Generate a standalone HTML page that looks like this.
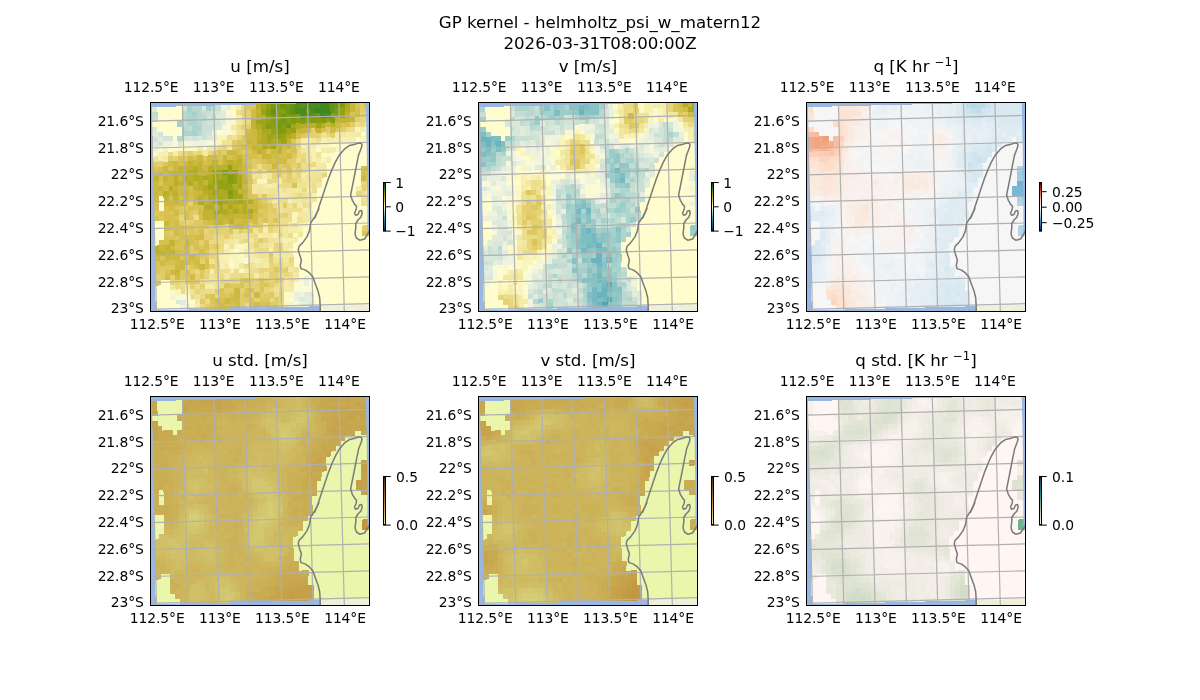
<!DOCTYPE html>
<html><head><meta charset="utf-8"><title>GP kernel</title>
<style>html,body{margin:0;padding:0;background:#fff}svg{display:block}</style></head><body>
<svg width="1200" height="700" viewBox="0 0 1200 700" font-family="DejaVu Sans, Liberation Sans, sans-serif">
<rect width="1200" height="700" fill="#fff"/>
<g font-size="16.67" text-anchor="middle" fill="#000">
<text x="600" y="27.8">GP kernel - helmholtz_psi_w_matern12</text>
<text x="600" y="48.8">2026-03-31T08:00:00Z</text>
<text x="260.0" y="72.3">u [m/s]</text>
<text x="588.0" y="72.3">v [m/s]</text>
<text x="916.0" y="72.3">q [K hr <tspan font-size="11.67" dy="-6.3">−1</tspan><tspan dy="6.3">]</tspan></text>
<text x="260.0" y="366.3">u std. [m/s]</text>
<text x="588.0" y="366.3">v std. [m/s]</text>
<text x="916.0" y="366.3">q std. [K hr <tspan font-size="11.67" dy="-6.3">−1</tspan><tspan dy="6.3">]</tspan></text>
</g>
<g font-size="13.89" fill="#000" letter-spacing="-0.1">
<text x="151.1" y="91.5" text-anchor="middle">112.5°E</text>
<text x="157.2" y="329.1" text-anchor="middle">112.5°E</text>
<text x="213.7" y="91.5" text-anchor="middle">113°E</text>
<text x="219.8" y="329.1" text-anchor="middle">113°E</text>
<text x="276.3" y="91.5" text-anchor="middle">113.5°E</text>
<text x="282.4" y="329.1" text-anchor="middle">113.5°E</text>
<text x="338.9" y="91.5" text-anchor="middle">114°E</text>
<text x="345.0" y="329.1" text-anchor="middle">114°E</text>
<text x="143.7" y="125.8" text-anchor="end">21.6°S</text>
<text x="143.7" y="152.6" text-anchor="end">21.8°S</text>
<text x="143.7" y="179.4" text-anchor="end">22°S</text>
<text x="143.7" y="206.2" text-anchor="end">22.2°S</text>
<text x="143.7" y="233.0" text-anchor="end">22.4°S</text>
<text x="143.7" y="259.8" text-anchor="end">22.6°S</text>
<text x="143.7" y="286.6" text-anchor="end">22.8°S</text>
<text x="143.7" y="313.4" text-anchor="end">23°S</text>
<linearGradient id="cb0" x1="0" y1="1" x2="0" y2="0">
<stop offset="0.00" stop-color="#112040"/>
<stop offset="0.10" stop-color="#2a4e92"/>
<stop offset="0.20" stop-color="#2276a0"/>
<stop offset="0.30" stop-color="#58aab6"/>
<stop offset="0.40" stop-color="#b8d8d0"/>
<stop offset="0.50" stop-color="#fffdcd"/>
<stop offset="0.60" stop-color="#e4d070"/>
<stop offset="0.70" stop-color="#b8ae26"/>
<stop offset="0.80" stop-color="#6e9610"/>
<stop offset="0.90" stop-color="#187830"/>
<stop offset="1.00" stop-color="#172313"/>
</linearGradient>
<rect x="383.5" y="182.5" width="2" height="48.6" fill="url(#cb0)" stroke="#000" stroke-width="1"/>
<path d="M385.5 182.5h5.2" stroke="#000" stroke-width="1"/>
<text x="395.2" y="187.5">1</text>
<path d="M385.5 206.8h5.2" stroke="#000" stroke-width="1"/>
<text x="395.2" y="211.8">0</text>
<path d="M385.5 231.1h5.2" stroke="#000" stroke-width="1"/>
<text x="395.2" y="236.1">−1</text>
<text x="479.1" y="91.5" text-anchor="middle">112.5°E</text>
<text x="485.2" y="329.1" text-anchor="middle">112.5°E</text>
<text x="541.7" y="91.5" text-anchor="middle">113°E</text>
<text x="547.8" y="329.1" text-anchor="middle">113°E</text>
<text x="604.3" y="91.5" text-anchor="middle">113.5°E</text>
<text x="610.4" y="329.1" text-anchor="middle">113.5°E</text>
<text x="666.9" y="91.5" text-anchor="middle">114°E</text>
<text x="673.0" y="329.1" text-anchor="middle">114°E</text>
<text x="471.7" y="125.8" text-anchor="end">21.6°S</text>
<text x="471.7" y="152.6" text-anchor="end">21.8°S</text>
<text x="471.7" y="179.4" text-anchor="end">22°S</text>
<text x="471.7" y="206.2" text-anchor="end">22.2°S</text>
<text x="471.7" y="233.0" text-anchor="end">22.4°S</text>
<text x="471.7" y="259.8" text-anchor="end">22.6°S</text>
<text x="471.7" y="286.6" text-anchor="end">22.8°S</text>
<text x="471.7" y="313.4" text-anchor="end">23°S</text>
<linearGradient id="cb1" x1="0" y1="1" x2="0" y2="0">
<stop offset="0.00" stop-color="#112040"/>
<stop offset="0.10" stop-color="#2a4e92"/>
<stop offset="0.20" stop-color="#2276a0"/>
<stop offset="0.30" stop-color="#58aab6"/>
<stop offset="0.40" stop-color="#b8d8d0"/>
<stop offset="0.50" stop-color="#fffdcd"/>
<stop offset="0.60" stop-color="#e4d070"/>
<stop offset="0.70" stop-color="#b8ae26"/>
<stop offset="0.80" stop-color="#6e9610"/>
<stop offset="0.90" stop-color="#187830"/>
<stop offset="1.00" stop-color="#172313"/>
</linearGradient>
<rect x="711.5" y="182.5" width="2" height="48.6" fill="url(#cb1)" stroke="#000" stroke-width="1"/>
<path d="M713.5 182.5h5.2" stroke="#000" stroke-width="1"/>
<text x="723.2" y="187.5">1</text>
<path d="M713.5 206.8h5.2" stroke="#000" stroke-width="1"/>
<text x="723.2" y="211.8">0</text>
<path d="M713.5 231.1h5.2" stroke="#000" stroke-width="1"/>
<text x="723.2" y="236.1">−1</text>
<text x="807.1" y="91.5" text-anchor="middle">112.5°E</text>
<text x="813.2" y="329.1" text-anchor="middle">112.5°E</text>
<text x="869.7" y="91.5" text-anchor="middle">113°E</text>
<text x="875.8" y="329.1" text-anchor="middle">113°E</text>
<text x="932.3" y="91.5" text-anchor="middle">113.5°E</text>
<text x="938.4" y="329.1" text-anchor="middle">113.5°E</text>
<text x="994.9" y="91.5" text-anchor="middle">114°E</text>
<text x="1001.0" y="329.1" text-anchor="middle">114°E</text>
<text x="799.7" y="125.8" text-anchor="end">21.6°S</text>
<text x="799.7" y="152.6" text-anchor="end">21.8°S</text>
<text x="799.7" y="179.4" text-anchor="end">22°S</text>
<text x="799.7" y="206.2" text-anchor="end">22.2°S</text>
<text x="799.7" y="233.0" text-anchor="end">22.4°S</text>
<text x="799.7" y="259.8" text-anchor="end">22.6°S</text>
<text x="799.7" y="286.6" text-anchor="end">22.8°S</text>
<text x="799.7" y="313.4" text-anchor="end">23°S</text>
<linearGradient id="cb2" x1="0" y1="1" x2="0" y2="0">
<stop offset="0.00" stop-color="#053061"/>
<stop offset="0.10" stop-color="#2065ab"/>
<stop offset="0.20" stop-color="#4393c3"/>
<stop offset="0.30" stop-color="#90c4dd"/>
<stop offset="0.40" stop-color="#d1e5f0"/>
<stop offset="0.50" stop-color="#f7f6f6"/>
<stop offset="0.60" stop-color="#fddbc7"/>
<stop offset="0.70" stop-color="#f3a481"/>
<stop offset="0.80" stop-color="#d6604d"/>
<stop offset="0.90" stop-color="#b1182b"/>
<stop offset="1.00" stop-color="#67001f"/>
</linearGradient>
<rect x="1039.5" y="182.5" width="2" height="48.6" fill="url(#cb2)" stroke="#000" stroke-width="1"/>
<path d="M1041.5 191.7h5.2" stroke="#000" stroke-width="1"/>
<text x="1052.1" y="196.7">0.25</text>
<path d="M1041.5 207.2h5.2" stroke="#000" stroke-width="1"/>
<text x="1052.1" y="212.2">0.00</text>
<path d="M1041.5 222.7h5.2" stroke="#000" stroke-width="1"/>
<text x="1052.1" y="227.7">−0.25</text>
<text x="151.1" y="385.5" text-anchor="middle">112.5°E</text>
<text x="157.2" y="623.1" text-anchor="middle">112.5°E</text>
<text x="213.7" y="385.5" text-anchor="middle">113°E</text>
<text x="219.8" y="623.1" text-anchor="middle">113°E</text>
<text x="276.3" y="385.5" text-anchor="middle">113.5°E</text>
<text x="282.4" y="623.1" text-anchor="middle">113.5°E</text>
<text x="338.9" y="385.5" text-anchor="middle">114°E</text>
<text x="345.0" y="623.1" text-anchor="middle">114°E</text>
<text x="143.7" y="419.8" text-anchor="end">21.6°S</text>
<text x="143.7" y="446.6" text-anchor="end">21.8°S</text>
<text x="143.7" y="473.4" text-anchor="end">22°S</text>
<text x="143.7" y="500.2" text-anchor="end">22.2°S</text>
<text x="143.7" y="527.0" text-anchor="end">22.4°S</text>
<text x="143.7" y="553.8" text-anchor="end">22.6°S</text>
<text x="143.7" y="580.6" text-anchor="end">22.8°S</text>
<text x="143.7" y="607.4" text-anchor="end">23°S</text>
<linearGradient id="cb3" x1="0" y1="1" x2="0" y2="0">
<stop offset="0.00" stop-color="#e9f6ab"/>
<stop offset="0.10" stop-color="#dcde8c"/>
<stop offset="0.20" stop-color="#d2c66e"/>
<stop offset="0.30" stop-color="#caae54"/>
<stop offset="0.40" stop-color="#c19642"/>
<stop offset="0.50" stop-color="#b4803a"/>
<stop offset="0.60" stop-color="#a26c38"/>
<stop offset="0.70" stop-color="#8c5c36"/>
<stop offset="0.80" stop-color="#724e32"/>
<stop offset="0.90" stop-color="#56402c"/>
<stop offset="1.00" stop-color="#221f1b"/>
</linearGradient>
<rect x="383.5" y="476.5" width="2" height="48.6" fill="url(#cb3)" stroke="#000" stroke-width="1"/>
<path d="M385.5 476.5h5.2" stroke="#000" stroke-width="1"/>
<text x="396.1" y="481.5">0.5</text>
<path d="M385.5 525.1h5.2" stroke="#000" stroke-width="1"/>
<text x="396.1" y="530.1">0.0</text>
<text x="479.1" y="385.5" text-anchor="middle">112.5°E</text>
<text x="485.2" y="623.1" text-anchor="middle">112.5°E</text>
<text x="541.7" y="385.5" text-anchor="middle">113°E</text>
<text x="547.8" y="623.1" text-anchor="middle">113°E</text>
<text x="604.3" y="385.5" text-anchor="middle">113.5°E</text>
<text x="610.4" y="623.1" text-anchor="middle">113.5°E</text>
<text x="666.9" y="385.5" text-anchor="middle">114°E</text>
<text x="673.0" y="623.1" text-anchor="middle">114°E</text>
<text x="471.7" y="419.8" text-anchor="end">21.6°S</text>
<text x="471.7" y="446.6" text-anchor="end">21.8°S</text>
<text x="471.7" y="473.4" text-anchor="end">22°S</text>
<text x="471.7" y="500.2" text-anchor="end">22.2°S</text>
<text x="471.7" y="527.0" text-anchor="end">22.4°S</text>
<text x="471.7" y="553.8" text-anchor="end">22.6°S</text>
<text x="471.7" y="580.6" text-anchor="end">22.8°S</text>
<text x="471.7" y="607.4" text-anchor="end">23°S</text>
<linearGradient id="cb4" x1="0" y1="1" x2="0" y2="0">
<stop offset="0.00" stop-color="#e9f6ab"/>
<stop offset="0.10" stop-color="#dcde8c"/>
<stop offset="0.20" stop-color="#d2c66e"/>
<stop offset="0.30" stop-color="#caae54"/>
<stop offset="0.40" stop-color="#c19642"/>
<stop offset="0.50" stop-color="#b4803a"/>
<stop offset="0.60" stop-color="#a26c38"/>
<stop offset="0.70" stop-color="#8c5c36"/>
<stop offset="0.80" stop-color="#724e32"/>
<stop offset="0.90" stop-color="#56402c"/>
<stop offset="1.00" stop-color="#221f1b"/>
</linearGradient>
<rect x="711.5" y="476.5" width="2" height="48.6" fill="url(#cb4)" stroke="#000" stroke-width="1"/>
<path d="M713.5 476.5h5.2" stroke="#000" stroke-width="1"/>
<text x="724.1" y="481.5">0.5</text>
<path d="M713.5 525.1h5.2" stroke="#000" stroke-width="1"/>
<text x="724.1" y="530.1">0.0</text>
<text x="807.1" y="385.5" text-anchor="middle">112.5°E</text>
<text x="813.2" y="623.1" text-anchor="middle">112.5°E</text>
<text x="869.7" y="385.5" text-anchor="middle">113°E</text>
<text x="875.8" y="623.1" text-anchor="middle">113°E</text>
<text x="932.3" y="385.5" text-anchor="middle">113.5°E</text>
<text x="938.4" y="623.1" text-anchor="middle">113.5°E</text>
<text x="994.9" y="385.5" text-anchor="middle">114°E</text>
<text x="1001.0" y="623.1" text-anchor="middle">114°E</text>
<text x="799.7" y="419.8" text-anchor="end">21.6°S</text>
<text x="799.7" y="446.6" text-anchor="end">21.8°S</text>
<text x="799.7" y="473.4" text-anchor="end">22°S</text>
<text x="799.7" y="500.2" text-anchor="end">22.2°S</text>
<text x="799.7" y="527.0" text-anchor="end">22.4°S</text>
<text x="799.7" y="553.8" text-anchor="end">22.6°S</text>
<text x="799.7" y="580.6" text-anchor="end">22.8°S</text>
<text x="799.7" y="607.4" text-anchor="end">23°S</text>
<linearGradient id="cb5" x1="0" y1="1" x2="0" y2="0">
<stop offset="0.00" stop-color="#fff6f4"/>
<stop offset="0.10" stop-color="#e8e8dc"/>
<stop offset="0.20" stop-color="#cbdac0"/>
<stop offset="0.30" stop-color="#a8cba6"/>
<stop offset="0.40" stop-color="#80bc94"/>
<stop offset="0.50" stop-color="#54ac8a"/>
<stop offset="0.60" stop-color="#289a86"/>
<stop offset="0.70" stop-color="#128482"/>
<stop offset="0.80" stop-color="#186c7a"/>
<stop offset="0.90" stop-color="#1e506c"/>
<stop offset="1.00" stop-color="#141d43"/>
</linearGradient>
<rect x="1039.5" y="476.5" width="2" height="48.6" fill="url(#cb5)" stroke="#000" stroke-width="1"/>
<path d="M1041.5 476.5h5.2" stroke="#000" stroke-width="1"/>
<text x="1052.1" y="481.5">0.1</text>
<path d="M1041.5 525.1h5.2" stroke="#000" stroke-width="1"/>
<text x="1052.1" y="530.1">0.0</text>
</g>
<g transform="translate(150.5 102.5)">
<clipPath id="cp0"><rect x="0" y="0" width="219" height="209"/></clipPath>
<g clip-path="url(#cp0)">
<rect x="0" y="0" width="219" height="209" fill="#98b7e2"/>
<path d="M169.7 208.6 L169.7 203.8 L169.2 195.2 L167.5 188.4 L164.9 181.5 L162.4 174.6 L158.9 170.4 L154.6 167.4 L150.4 166.1 L149.8 162.6 L150.9 157.5 L149.2 152.4 L147.8 147.2 L148.6 143.8 L152.1 140.4 L156.4 134.4 L158.9 128.4 L160.1 120.6 L164.1 114.6 L168.4 106.1 L164.1 115.8 L167.5 107.2 L170.9 96.9 L174.4 86.6 L177.8 76.4 L181.2 67.8 L184.6 60.1 L188.9 52.4 L194.1 46.4 L199.2 42.9 L204.4 41.7 L208.6 40.4 L210.9 40.9 L211.6 42.9 L210.4 46.4 L208.1 52.4 L206.4 60.9 L204.7 69.5 L203.0 78.1 L201.3 86.6 L200.1 92.6 L201.8 97.8 L204.4 102.1 L206.0 103.5 L205.7 107.0 L204.0 110.5 L205.0 112.7 L207.5 112.0 L209.0 108.5 L211.0 108.0 L211.7 110.5 L210.5 114.5 L207.5 117.5 L205.3 121.0 L205.3 125.5 L204.5 131.5 L206.0 135.5 L209.5 137.8 L214.0 136.5 L217.0 132.0 L219.5 127.0 L221.0 127.0 L221.0 211.0 L169.7 211.0Z" fill="#efefdb"/>
<g transform="matrix(0.9880 -0.02470 0.01780 0.9890 1.50 4.60)" shape-rendering="crispEdges">
<path fill="#dae8da" d="M0 0h5.5v5.5h-5.5zM50 0h5.5v5.5h-5.5zM65 5h5.5v5.5h-5.5zM0 20h5.5v5.5h-5.5zM65 20h5.5v5.5h-5.5zM35 30h5.5v5.5h-5.5zM45 30h5.5v5.5h-5.5zM55 30h5.5v5.5h-5.5zM25 35h5.5v5.5h-5.5zM155 190h5.5v5.5h-5.5zM20 195h5.5v5.5h-5.5zM145 195h5.5v5.5h-5.5zM155 200h5.5v5.5h-5.5z"/>
<path fill="#fffdcd" d="M5 0h25.5v5.5h-25.5zM5 5h25.5v5.5h-25.5zM80 5h5.5v5.5h-5.5zM5 10h25.5v5.5h-25.5zM0 15h25.5v5.5h-25.5zM5 20h25.5v5.5h-25.5zM10 25h20.5v5.5h-20.5zM65 25h5.5v5.5h-5.5zM20 30h5.5v5.5h-5.5zM210 30h5.5v5.5h-5.5zM205 35h5.5v5.5h-5.5zM50 40h5.5v5.5h-5.5zM180 40h5.5v5.5h-5.5zM190 40h30.5v5.5h-30.5zM190 45h30.5v5.5h-30.5zM185 50h35.5v5.5h-35.5zM180 55h40.5v5.5h-40.5zM175 60h45.5v5.5h-45.5zM175 65h35.5v5.5h-35.5zM175 70h35.5v5.5h-35.5zM170 75h40.5v5.5h-40.5zM170 80h40.5v5.5h-40.5zM165 85h40.5v5.5h-40.5zM5 90h5.5v5.5h-5.5zM165 90h40.5v5.5h-40.5zM5 95h5.5v5.5h-5.5zM165 95h45.5v5.5h-45.5zM5 100h5.5v5.5h-5.5zM160 100h50.5v5.5h-50.5zM160 105h60.5v5.5h-60.5zM160 110h60.5v5.5h-60.5zM0 115h10.5v5.5h-10.5zM160 115h60.5v5.5h-60.5zM0 120h10.5v5.5h-10.5zM155 120h65.5v5.5h-65.5zM0 125h10.5v5.5h-10.5zM150 125h60.5v5.5h-60.5zM0 130h10.5v5.5h-10.5zM150 130h60.5v5.5h-60.5zM0 135h5.5v5.5h-5.5zM145 135h75.5v5.5h-75.5zM140 140h80.5v5.5h-80.5zM80 145h5.5v5.5h-5.5zM140 145h80.5v5.5h-80.5zM140 150h80.5v5.5h-80.5zM140 155h80.5v5.5h-80.5zM75 160h5.5v5.5h-5.5zM140 160h80.5v5.5h-80.5zM145 165h75.5v5.5h-75.5zM145 170h75.5v5.5h-75.5zM5 175h10.5v5.5h-10.5zM155 175h65.5v5.5h-65.5zM0 180h15.5v5.5h-15.5zM140 180h5.5v5.5h-5.5zM155 180h65.5v5.5h-65.5zM0 185h15.5v5.5h-15.5zM155 185h65.5v5.5h-65.5zM0 190h15.5v5.5h-15.5zM160 190h60.5v5.5h-60.5zM0 195h20.5v5.5h-20.5zM30 195h10.5v5.5h-10.5zM160 195h60.5v5.5h-60.5zM0 200h25.5v5.5h-25.5zM160 200h60.5v5.5h-60.5z"/>
<path fill="#d2e4d7" d="M30 0h5.5v5.5h-5.5zM60 5h5.5v5.5h-5.5zM55 10h5.5v5.5h-5.5zM55 15h15.5v5.5h-15.5zM60 20h5.5v5.5h-5.5zM5 25h5.5v5.5h-5.5zM55 25h5.5v5.5h-5.5zM0 30h5.5v5.5h-5.5zM10 30h10.5v5.5h-10.5zM30 30h5.5v5.5h-5.5zM40 30h5.5v5.5h-5.5zM5 35h5.5v5.5h-5.5z"/>
<path fill="#a5d0cb" d="M35 0h5.5v5.5h-5.5zM55 0h5.5v5.5h-5.5zM40 5h5.5v5.5h-5.5zM25 15h5.5v5.5h-5.5zM40 25h5.5v5.5h-5.5z"/>
<path fill="#b8d8d0" d="M40 0h10.5v5.5h-10.5zM30 5h5.5v5.5h-5.5zM45 5h5.5v5.5h-5.5zM30 10h5.5v5.5h-5.5zM45 10h10.5v5.5h-10.5zM45 15h5.5v5.5h-5.5zM30 20h5.5v5.5h-5.5zM45 25h5.5v5.5h-5.5zM25 30h5.5v5.5h-5.5z"/>
<path fill="#c1dcd2" d="M60 0h5.5v5.5h-5.5zM0 5h5.5v5.5h-5.5zM50 5h5.5v5.5h-5.5zM60 10h5.5v5.5h-5.5zM30 15h5.5v5.5h-5.5zM35 20h5.5v5.5h-5.5z"/>
<path fill="#cae0d5" d="M65 0h5.5v5.5h-5.5zM55 5h5.5v5.5h-5.5zM0 10h5.5v5.5h-5.5zM50 15h5.5v5.5h-5.5zM50 20h10.5v5.5h-10.5zM50 25h5.5v5.5h-5.5zM50 30h5.5v5.5h-5.5z"/>
<path fill="#f0f3de" d="M70 0h5.5v5.5h-5.5zM10 35h5.5v5.5h-5.5zM35 35h20.5v5.5h-20.5zM0 40h5.5v5.5h-5.5zM10 40h5.5v5.5h-5.5zM15 190h5.5v5.5h-5.5zM145 190h5.5v5.5h-5.5zM25 200h5.5v5.5h-5.5zM135 200h5.5v5.5h-5.5z"/>
<path fill="#e9f0dd" d="M75 0h5.5v5.5h-5.5zM60 25h5.5v5.5h-5.5zM15 35h5.5v5.5h-5.5zM150 175h5.5v5.5h-5.5zM150 180h5.5v5.5h-5.5zM140 190h5.5v5.5h-5.5zM140 195h5.5v5.5h-5.5zM30 200h5.5v5.5h-5.5zM145 200h10.5v5.5h-10.5z"/>
<path fill="#fdf9c4" d="M80 0h5.5v5.5h-5.5zM80 15h5.5v5.5h-5.5zM215 25h5.5v5.5h-5.5zM30 35h5.5v5.5h-5.5zM60 35h5.5v5.5h-5.5zM20 40h25.5v5.5h-25.5zM185 40h5.5v5.5h-5.5zM165 45h5.5v5.5h-5.5zM170 50h10.5v5.5h-10.5zM110 75h5.5v5.5h-5.5zM140 130h5.5v5.5h-5.5zM85 140h5.5v5.5h-5.5zM85 150h5.5v5.5h-5.5zM75 155h5.5v5.5h-5.5zM85 155h5.5v5.5h-5.5zM85 165h5.5v5.5h-5.5zM15 185h5.5v5.5h-5.5zM20 190h5.5v5.5h-5.5zM130 190h10.5v5.5h-10.5zM130 195h5.5v5.5h-5.5zM35 200h5.5v5.5h-5.5z"/>
<path fill="#f8f0b2" d="M85 0h5.5v5.5h-5.5zM155 35h5.5v5.5h-5.5zM170 35h5.5v5.5h-5.5zM180 35h25.5v5.5h-25.5zM150 40h5.5v5.5h-5.5zM5 45h10.5v5.5h-10.5zM160 45h5.5v5.5h-5.5zM5 50h5.5v5.5h-5.5zM160 50h5.5v5.5h-5.5zM160 55h5.5v5.5h-5.5zM110 70h5.5v5.5h-5.5zM115 80h5.5v5.5h-5.5zM155 85h5.5v5.5h-5.5zM160 90h5.5v5.5h-5.5zM135 95h5.5v5.5h-5.5zM150 105h5.5v5.5h-5.5zM145 120h10.5v5.5h-10.5zM110 125h5.5v5.5h-5.5zM145 125h5.5v5.5h-5.5zM120 130h5.5v5.5h-5.5zM130 135h10.5v5.5h-10.5zM115 145h5.5v5.5h-5.5zM135 145h5.5v5.5h-5.5zM65 150h10.5v5.5h-10.5zM90 150h5.5v5.5h-5.5zM65 155h10.5v5.5h-10.5zM100 155h5.5v5.5h-5.5zM65 160h5.5v5.5h-5.5zM55 165h5.5v5.5h-5.5zM75 165h5.5v5.5h-5.5zM30 185h5.5v5.5h-5.5zM40 200h5.5v5.5h-5.5z"/>
<path fill="#eada83" d="M90 0h5.5v5.5h-5.5zM95 15h5.5v5.5h-5.5zM215 15h5.5v5.5h-5.5zM210 20h5.5v5.5h-5.5zM195 25h5.5v5.5h-5.5zM175 30h5.5v5.5h-5.5zM145 35h5.5v5.5h-5.5zM65 40h5.5v5.5h-5.5zM15 45h5.5v5.5h-5.5zM25 45h5.5v5.5h-5.5zM40 45h5.5v5.5h-5.5zM55 45h5.5v5.5h-5.5zM145 45h5.5v5.5h-5.5zM145 50h10.5v5.5h-10.5zM155 60h10.5v5.5h-10.5zM100 65h5.5v5.5h-5.5zM110 65h5.5v5.5h-5.5zM140 65h5.5v5.5h-5.5zM130 70h5.5v5.5h-5.5zM100 75h5.5v5.5h-5.5zM115 75h10.5v5.5h-10.5zM130 80h10.5v5.5h-10.5zM150 85h5.5v5.5h-5.5zM215 85h5.5v5.5h-5.5zM105 90h5.5v5.5h-5.5zM145 90h5.5v5.5h-5.5zM115 95h5.5v5.5h-5.5zM120 100h5.5v5.5h-5.5zM60 130h10.5v5.5h-10.5zM75 130h5.5v5.5h-5.5zM100 130h5.5v5.5h-5.5zM125 130h5.5v5.5h-5.5zM55 135h15.5v5.5h-15.5zM100 135h5.5v5.5h-5.5zM65 140h5.5v5.5h-5.5zM55 145h5.5v5.5h-5.5zM105 145h10.5v5.5h-10.5zM120 145h5.5v5.5h-5.5zM60 155h5.5v5.5h-5.5zM125 155h5.5v5.5h-5.5zM60 160h5.5v5.5h-5.5zM90 160h5.5v5.5h-5.5zM120 160h5.5v5.5h-5.5zM60 165h5.5v5.5h-5.5zM65 170h5.5v5.5h-5.5zM85 170h5.5v5.5h-5.5zM95 170h5.5v5.5h-5.5zM25 175h5.5v5.5h-5.5zM70 175h5.5v5.5h-5.5zM20 180h5.5v5.5h-5.5zM65 180h5.5v5.5h-5.5zM120 180h5.5v5.5h-5.5zM25 185h5.5v5.5h-5.5zM45 185h5.5v5.5h-5.5zM115 185h5.5v5.5h-5.5zM125 185h5.5v5.5h-5.5zM35 190h5.5v5.5h-5.5zM45 190h5.5v5.5h-5.5zM60 190h5.5v5.5h-5.5zM50 195h5.5v5.5h-5.5zM115 195h5.5v5.5h-5.5zM45 200h5.5v5.5h-5.5zM90 200h5.5v5.5h-5.5z"/>
<path fill="#ddc85f" d="M95 0h10.5v5.5h-10.5zM215 5h5.5v5.5h-5.5zM185 25h5.5v5.5h-5.5zM90 30h5.5v5.5h-5.5zM150 30h5.5v5.5h-5.5zM90 35h5.5v5.5h-5.5zM140 35h5.5v5.5h-5.5zM80 40h5.5v5.5h-5.5zM135 45h5.5v5.5h-5.5zM30 50h5.5v5.5h-5.5zM50 50h5.5v5.5h-5.5zM140 50h5.5v5.5h-5.5zM105 55h5.5v5.5h-5.5zM130 60h5.5v5.5h-5.5zM145 60h5.5v5.5h-5.5zM115 65h10.5v5.5h-10.5zM215 70h5.5v5.5h-5.5zM5 75h5.5v5.5h-5.5zM215 75h5.5v5.5h-5.5zM95 80h5.5v5.5h-5.5zM100 90h5.5v5.5h-5.5zM110 90h5.5v5.5h-5.5zM25 100h5.5v5.5h-5.5zM0 105h5.5v5.5h-5.5zM25 105h5.5v5.5h-5.5zM35 105h5.5v5.5h-5.5zM105 105h10.5v5.5h-10.5zM5 110h5.5v5.5h-5.5zM35 110h5.5v5.5h-5.5zM110 110h5.5v5.5h-5.5zM40 115h10.5v5.5h-10.5zM50 120h5.5v5.5h-5.5zM60 120h5.5v5.5h-5.5zM100 120h5.5v5.5h-5.5zM10 125h5.5v5.5h-5.5zM40 125h5.5v5.5h-5.5zM75 125h5.5v5.5h-5.5zM95 125h5.5v5.5h-5.5zM20 130h5.5v5.5h-5.5zM45 140h5.5v5.5h-5.5zM60 140h5.5v5.5h-5.5zM40 145h5.5v5.5h-5.5zM50 145h5.5v5.5h-5.5zM45 150h10.5v5.5h-10.5zM115 150h5.5v5.5h-5.5zM5 160h15.5v5.5h-15.5zM35 160h5.5v5.5h-5.5zM0 165h5.5v5.5h-5.5zM25 165h5.5v5.5h-5.5zM45 165h5.5v5.5h-5.5zM120 165h5.5v5.5h-5.5zM25 170h10.5v5.5h-10.5zM45 170h5.5v5.5h-5.5zM35 175h5.5v5.5h-5.5zM85 175h5.5v5.5h-5.5zM105 175h5.5v5.5h-5.5zM75 180h10.5v5.5h-10.5zM105 180h5.5v5.5h-5.5zM50 190h5.5v5.5h-5.5zM70 190h5.5v5.5h-5.5zM115 190h5.5v5.5h-5.5zM105 195h10.5v5.5h-10.5zM55 200h5.5v5.5h-5.5z"/>
<path fill="#b8ae26" d="M105 0h5.5v5.5h-5.5zM110 10h5.5v5.5h-5.5zM150 20h5.5v5.5h-5.5zM170 20h5.5v5.5h-5.5zM180 20h5.5v5.5h-5.5zM105 35h5.5v5.5h-5.5zM115 40h5.5v5.5h-5.5zM40 60h5.5v5.5h-5.5zM55 60h5.5v5.5h-5.5zM55 65h5.5v5.5h-5.5zM45 70h5.5v5.5h-5.5zM20 75h5.5v5.5h-5.5zM45 75h5.5v5.5h-5.5zM15 80h5.5v5.5h-5.5zM50 85h5.5v5.5h-5.5zM55 95h5.5v5.5h-5.5zM90 95h5.5v5.5h-5.5zM50 100h5.5v5.5h-5.5zM60 110h5.5v5.5h-5.5z"/>
<path fill="#a4a71b" d="M110 0h5.5v5.5h-5.5zM140 20h5.5v5.5h-5.5zM120 30h5.5v5.5h-5.5zM115 35h5.5v5.5h-5.5zM125 35h5.5v5.5h-5.5zM120 40h5.5v5.5h-5.5zM65 65h5.5v5.5h-5.5zM85 80h5.5v5.5h-5.5zM80 90h10.5v5.5h-10.5zM70 95h5.5v5.5h-5.5zM85 95h5.5v5.5h-5.5z"/>
<path fill="#8ea013" d="M115 0h5.5v5.5h-5.5zM115 10h5.5v5.5h-5.5zM180 10h5.5v5.5h-5.5zM175 15h5.5v5.5h-5.5zM120 20h5.5v5.5h-5.5zM125 30h5.5v5.5h-5.5zM80 70h5.5v5.5h-5.5zM65 75h5.5v5.5h-5.5zM80 75h5.5v5.5h-5.5zM75 90h5.5v5.5h-5.5z"/>
<path fill="#769811" d="M120 0h5.5v5.5h-5.5zM135 0h5.5v5.5h-5.5zM120 10h5.5v5.5h-5.5zM130 15h5.5v5.5h-5.5zM125 20h5.5v5.5h-5.5z"/>
<path fill="#7e9b12" d="M125 0h5.5v5.5h-5.5zM190 0h5.5v5.5h-5.5zM115 5h5.5v5.5h-5.5zM185 5h5.5v5.5h-5.5zM135 10h5.5v5.5h-5.5zM145 10h5.5v5.5h-5.5zM185 10h5.5v5.5h-5.5zM125 15h5.5v5.5h-5.5zM140 15h5.5v5.5h-5.5zM150 15h5.5v5.5h-5.5zM160 15h5.5v5.5h-5.5zM170 15h5.5v5.5h-5.5zM180 15h5.5v5.5h-5.5zM125 25h10.5v5.5h-10.5zM75 70h5.5v5.5h-5.5z"/>
<path fill="#6e9610" d="M130 0h5.5v5.5h-5.5zM185 0h5.5v5.5h-5.5zM135 5h5.5v5.5h-5.5zM155 5h5.5v5.5h-5.5zM130 10h5.5v5.5h-5.5zM140 10h5.5v5.5h-5.5zM165 10h5.5v5.5h-5.5zM135 20h5.5v5.5h-5.5z"/>
<path fill="#659313" d="M140 0h5.5v5.5h-5.5zM180 0h5.5v5.5h-5.5zM120 5h5.5v5.5h-5.5zM180 5h5.5v5.5h-5.5z"/>
<path fill="#528e18" d="M145 0h5.5v5.5h-5.5zM150 10h5.5v5.5h-5.5z"/>
<path fill="#5c9116" d="M150 0h5.5v5.5h-5.5zM140 5h5.5v5.5h-5.5zM155 10h10.5v5.5h-10.5z"/>
<path fill="#498c1b" d="M155 0h15.5v5.5h-15.5zM145 5h10.5v5.5h-10.5zM160 5h5.5v5.5h-5.5zM170 10h10.5v5.5h-10.5z"/>
<path fill="#40891e" d="M170 0h10.5v5.5h-10.5zM170 5h10.5v5.5h-10.5z"/>
<path fill="#aaa91f" d="M195 0h5.5v5.5h-5.5zM110 25h10.5v5.5h-10.5zM135 30h5.5v5.5h-5.5zM110 40h5.5v5.5h-5.5zM50 70h5.5v5.5h-5.5zM65 70h5.5v5.5h-5.5zM85 70h5.5v5.5h-5.5zM55 75h5.5v5.5h-5.5zM85 75h5.5v5.5h-5.5zM60 80h5.5v5.5h-5.5zM70 85h5.5v5.5h-5.5zM60 90h10.5v5.5h-10.5zM60 95h5.5v5.5h-5.5zM80 95h5.5v5.5h-5.5zM65 100h5.5v5.5h-5.5zM75 100h5.5v5.5h-5.5zM60 105h10.5v5.5h-10.5zM80 105h5.5v5.5h-5.5zM95 105h5.5v5.5h-5.5z"/>
<path fill="#c8b639" d="M200 0h5.5v5.5h-5.5zM200 5h5.5v5.5h-5.5zM200 15h5.5v5.5h-5.5zM175 20h5.5v5.5h-5.5zM145 25h10.5v5.5h-10.5zM95 35h5.5v5.5h-5.5zM105 40h5.5v5.5h-5.5zM135 40h5.5v5.5h-5.5zM110 45h5.5v5.5h-5.5zM70 50h5.5v5.5h-5.5zM85 50h5.5v5.5h-5.5zM110 50h10.5v5.5h-10.5zM70 55h5.5v5.5h-5.5zM80 55h5.5v5.5h-5.5zM5 65h5.5v5.5h-5.5zM15 65h5.5v5.5h-5.5zM215 65h5.5v5.5h-5.5zM90 70h5.5v5.5h-5.5zM40 75h5.5v5.5h-5.5zM50 75h5.5v5.5h-5.5zM5 80h5.5v5.5h-5.5zM20 80h5.5v5.5h-5.5zM0 85h5.5v5.5h-5.5zM15 85h5.5v5.5h-5.5zM30 85h5.5v5.5h-5.5zM45 85h5.5v5.5h-5.5zM85 85h5.5v5.5h-5.5zM40 90h5.5v5.5h-5.5zM50 90h5.5v5.5h-5.5zM90 90h5.5v5.5h-5.5zM20 95h5.5v5.5h-5.5zM60 100h5.5v5.5h-5.5zM100 105h5.5v5.5h-5.5zM65 110h5.5v5.5h-5.5zM80 110h10.5v5.5h-10.5zM10 115h5.5v5.5h-5.5zM60 115h5.5v5.5h-5.5zM85 120h5.5v5.5h-5.5zM30 135h5.5v5.5h-5.5zM10 145h5.5v5.5h-5.5zM20 165h5.5v5.5h-5.5z"/>
<path fill="#d9c457" d="M205 0h5.5v5.5h-5.5zM200 10h5.5v5.5h-5.5zM190 20h5.5v5.5h-5.5zM85 35h5.5v5.5h-5.5zM85 40h5.5v5.5h-5.5zM65 45h5.5v5.5h-5.5zM95 45h5.5v5.5h-5.5zM115 45h5.5v5.5h-5.5zM25 50h5.5v5.5h-5.5zM40 50h5.5v5.5h-5.5zM65 50h5.5v5.5h-5.5zM105 50h5.5v5.5h-5.5zM10 55h5.5v5.5h-5.5zM95 55h5.5v5.5h-5.5zM110 55h5.5v5.5h-5.5zM0 60h5.5v5.5h-5.5zM15 60h5.5v5.5h-5.5zM135 60h5.5v5.5h-5.5zM125 65h5.5v5.5h-5.5zM135 65h5.5v5.5h-5.5zM95 70h5.5v5.5h-5.5zM95 75h5.5v5.5h-5.5zM140 80h5.5v5.5h-5.5zM95 85h5.5v5.5h-5.5zM95 90h5.5v5.5h-5.5zM105 95h5.5v5.5h-5.5zM20 100h5.5v5.5h-5.5zM40 100h5.5v5.5h-5.5zM110 100h5.5v5.5h-5.5zM5 105h5.5v5.5h-5.5zM15 105h5.5v5.5h-5.5zM20 110h5.5v5.5h-5.5zM105 110h5.5v5.5h-5.5zM110 115h5.5v5.5h-5.5zM120 115h5.5v5.5h-5.5zM30 120h10.5v5.5h-10.5zM45 120h5.5v5.5h-5.5zM35 125h5.5v5.5h-5.5zM215 125h5.5v5.5h-5.5zM10 130h10.5v5.5h-10.5zM210 130h5.5v5.5h-5.5zM25 135h5.5v5.5h-5.5zM40 135h5.5v5.5h-5.5zM50 135h5.5v5.5h-5.5zM20 140h10.5v5.5h-10.5zM5 150h5.5v5.5h-5.5zM25 150h5.5v5.5h-5.5zM0 155h5.5v5.5h-5.5zM0 160h5.5v5.5h-5.5zM10 165h5.5v5.5h-5.5zM0 175h5.5v5.5h-5.5zM90 175h5.5v5.5h-5.5zM70 180h5.5v5.5h-5.5zM85 180h5.5v5.5h-5.5zM110 180h5.5v5.5h-5.5zM65 185h5.5v5.5h-5.5zM90 185h10.5v5.5h-10.5zM105 185h5.5v5.5h-5.5zM55 190h5.5v5.5h-5.5zM65 190h5.5v5.5h-5.5zM55 195h5.5v5.5h-5.5zM95 195h5.5v5.5h-5.5zM95 200h5.5v5.5h-5.5zM105 200h5.5v5.5h-5.5z"/>
<path fill="#e0cc68" d="M210 0h5.5v5.5h-5.5zM210 5h5.5v5.5h-5.5zM200 20h5.5v5.5h-5.5zM175 25h5.5v5.5h-5.5zM190 25h5.5v5.5h-5.5zM80 35h5.5v5.5h-5.5zM35 45h5.5v5.5h-5.5zM60 45h5.5v5.5h-5.5zM70 45h5.5v5.5h-5.5zM90 45h5.5v5.5h-5.5zM15 50h5.5v5.5h-5.5zM0 55h5.5v5.5h-5.5zM100 55h5.5v5.5h-5.5zM135 55h10.5v5.5h-10.5zM100 60h5.5v5.5h-5.5zM110 60h10.5v5.5h-10.5zM125 60h5.5v5.5h-5.5zM95 65h5.5v5.5h-5.5zM125 70h5.5v5.5h-5.5zM135 70h5.5v5.5h-5.5zM110 95h5.5v5.5h-5.5zM30 100h5.5v5.5h-5.5zM115 100h5.5v5.5h-5.5zM130 100h5.5v5.5h-5.5zM40 105h5.5v5.5h-5.5zM115 105h10.5v5.5h-10.5zM25 115h5.5v5.5h-5.5zM105 115h5.5v5.5h-5.5zM40 120h5.5v5.5h-5.5zM65 120h5.5v5.5h-5.5zM105 120h5.5v5.5h-5.5zM15 125h5.5v5.5h-5.5zM30 125h5.5v5.5h-5.5zM55 125h5.5v5.5h-5.5zM85 125h5.5v5.5h-5.5zM105 135h5.5v5.5h-5.5zM35 140h5.5v5.5h-5.5zM35 145h5.5v5.5h-5.5zM5 165h5.5v5.5h-5.5zM35 165h5.5v5.5h-5.5zM130 165h5.5v5.5h-5.5zM5 170h5.5v5.5h-5.5zM30 175h5.5v5.5h-5.5zM40 175h5.5v5.5h-5.5zM95 175h5.5v5.5h-5.5zM120 175h5.5v5.5h-5.5zM60 185h5.5v5.5h-5.5zM70 185h10.5v5.5h-10.5zM85 190h5.5v5.5h-5.5zM105 190h10.5v5.5h-10.5zM45 195h5.5v5.5h-5.5zM85 195h10.5v5.5h-10.5zM120 195h5.5v5.5h-5.5zM85 200h5.5v5.5h-5.5zM115 200h10.5v5.5h-10.5z"/>
<path fill="#d6c04e" d="M215 0h5.5v5.5h-5.5zM205 5h5.5v5.5h-5.5zM205 10h5.5v5.5h-5.5zM195 20h5.5v5.5h-5.5zM170 25h5.5v5.5h-5.5zM145 30h5.5v5.5h-5.5zM90 40h5.5v5.5h-5.5zM140 40h5.5v5.5h-5.5zM85 45h5.5v5.5h-5.5zM130 45h5.5v5.5h-5.5zM140 45h5.5v5.5h-5.5zM75 50h5.5v5.5h-5.5zM90 50h15.5v5.5h-15.5zM125 50h10.5v5.5h-10.5zM25 55h5.5v5.5h-5.5zM50 55h5.5v5.5h-5.5zM65 55h5.5v5.5h-5.5zM120 55h5.5v5.5h-5.5zM5 60h5.5v5.5h-5.5zM95 60h5.5v5.5h-5.5zM210 65h5.5v5.5h-5.5zM5 70h5.5v5.5h-5.5zM210 70h5.5v5.5h-5.5zM35 80h5.5v5.5h-5.5zM15 90h5.5v5.5h-5.5zM25 90h5.5v5.5h-5.5zM35 90h5.5v5.5h-5.5zM0 95h5.5v5.5h-5.5zM30 95h5.5v5.5h-5.5zM0 100h5.5v5.5h-5.5zM10 100h5.5v5.5h-5.5zM35 100h5.5v5.5h-5.5zM45 100h5.5v5.5h-5.5zM105 100h5.5v5.5h-5.5zM10 105h5.5v5.5h-5.5zM30 105h5.5v5.5h-5.5zM0 110h5.5v5.5h-5.5zM10 110h10.5v5.5h-10.5zM30 110h5.5v5.5h-5.5zM45 110h5.5v5.5h-5.5zM15 115h5.5v5.5h-5.5zM50 115h5.5v5.5h-5.5zM95 115h5.5v5.5h-5.5zM15 120h15.5v5.5h-15.5zM75 120h5.5v5.5h-5.5zM25 125h5.5v5.5h-5.5zM45 125h5.5v5.5h-5.5zM25 130h15.5v5.5h-15.5zM215 130h5.5v5.5h-5.5zM5 135h10.5v5.5h-10.5zM20 135h5.5v5.5h-5.5zM35 135h5.5v5.5h-5.5zM40 140h5.5v5.5h-5.5zM50 140h5.5v5.5h-5.5zM25 145h5.5v5.5h-5.5zM30 150h5.5v5.5h-5.5zM40 150h5.5v5.5h-5.5zM10 155h10.5v5.5h-10.5zM35 155h5.5v5.5h-5.5zM50 155h5.5v5.5h-5.5zM40 160h5.5v5.5h-5.5zM50 160h5.5v5.5h-5.5zM30 165h5.5v5.5h-5.5zM75 190h5.5v5.5h-5.5zM90 190h5.5v5.5h-5.5zM65 195h5.5v5.5h-5.5zM60 200h5.5v5.5h-5.5zM70 200h10.5v5.5h-10.5zM110 200h5.5v5.5h-5.5z"/>
<path fill="#aed4ce" d="M35 5h5.5v5.5h-5.5zM35 10h10.5v5.5h-10.5zM35 15h10.5v5.5h-10.5zM40 20h10.5v5.5h-10.5zM30 25h10.5v5.5h-10.5z"/>
<path fill="#e2ecdc" d="M70 5h5.5v5.5h-5.5zM65 10h10.5v5.5h-10.5zM70 15h5.5v5.5h-5.5zM0 25h5.5v5.5h-5.5zM5 30h5.5v5.5h-5.5zM60 30h5.5v5.5h-5.5zM0 35h5.5v5.5h-5.5zM150 190h5.5v5.5h-5.5zM25 195h5.5v5.5h-5.5zM150 195h10.5v5.5h-10.5z"/>
<path fill="#fbfad4" d="M75 5h5.5v5.5h-5.5zM80 10h5.5v5.5h-5.5zM75 20h5.5v5.5h-5.5zM70 25h10.5v5.5h-10.5zM5 40h5.5v5.5h-5.5zM15 40h5.5v5.5h-5.5zM180 50h5.5v5.5h-5.5zM90 155h5.5v5.5h-5.5zM145 180h5.5v5.5h-5.5zM140 185h15.5v5.5h-15.5zM30 190h5.5v5.5h-5.5zM135 195h5.5v5.5h-5.5zM140 200h5.5v5.5h-5.5z"/>
<path fill="#edde8d" d="M85 5h5.5v5.5h-5.5zM90 15h5.5v5.5h-5.5zM85 20h5.5v5.5h-5.5zM205 20h5.5v5.5h-5.5zM90 25h5.5v5.5h-5.5zM200 25h5.5v5.5h-5.5zM75 30h5.5v5.5h-5.5zM165 35h5.5v5.5h-5.5zM145 55h5.5v5.5h-5.5zM105 60h5.5v5.5h-5.5zM150 60h5.5v5.5h-5.5zM150 65h10.5v5.5h-10.5zM140 70h5.5v5.5h-5.5zM145 75h5.5v5.5h-5.5zM165 75h5.5v5.5h-5.5zM125 80h5.5v5.5h-5.5zM160 80h5.5v5.5h-5.5zM160 85h5.5v5.5h-5.5zM115 90h10.5v5.5h-10.5zM210 90h5.5v5.5h-5.5zM125 95h10.5v5.5h-10.5zM150 100h5.5v5.5h-5.5zM210 100h5.5v5.5h-5.5zM130 105h20.5v5.5h-20.5zM40 110h5.5v5.5h-5.5zM135 110h5.5v5.5h-5.5zM125 115h15.5v5.5h-15.5zM125 120h10.5v5.5h-10.5zM140 120h5.5v5.5h-5.5zM80 125h5.5v5.5h-5.5zM120 125h5.5v5.5h-5.5zM95 130h5.5v5.5h-5.5zM135 130h5.5v5.5h-5.5zM85 135h5.5v5.5h-5.5zM105 140h5.5v5.5h-5.5zM65 145h5.5v5.5h-5.5zM100 145h5.5v5.5h-5.5zM135 160h5.5v5.5h-5.5zM65 165h10.5v5.5h-10.5zM80 165h5.5v5.5h-5.5zM95 165h10.5v5.5h-10.5zM60 170h5.5v5.5h-5.5zM75 170h10.5v5.5h-10.5zM90 170h5.5v5.5h-5.5zM105 170h5.5v5.5h-5.5zM125 170h5.5v5.5h-5.5zM135 170h5.5v5.5h-5.5zM45 175h5.5v5.5h-5.5zM25 180h5.5v5.5h-5.5zM40 180h5.5v5.5h-5.5zM125 180h5.5v5.5h-5.5zM50 185h10.5v5.5h-10.5zM120 190h5.5v5.5h-5.5zM125 200h5.5v5.5h-5.5z"/>
<path fill="#e7d57a" d="M90 5h5.5v5.5h-5.5zM90 10h5.5v5.5h-5.5zM215 10h5.5v5.5h-5.5zM210 15h5.5v5.5h-5.5zM85 30h5.5v5.5h-5.5zM70 40h5.5v5.5h-5.5zM145 40h5.5v5.5h-5.5zM30 45h5.5v5.5h-5.5zM45 45h5.5v5.5h-5.5zM150 55h5.5v5.5h-5.5zM120 70h5.5v5.5h-5.5zM145 70h5.5v5.5h-5.5zM170 70h5.5v5.5h-5.5zM130 75h5.5v5.5h-5.5zM140 75h5.5v5.5h-5.5zM210 80h5.5v5.5h-5.5zM205 90h5.5v5.5h-5.5zM140 100h5.5v5.5h-5.5zM25 110h5.5v5.5h-5.5zM125 110h5.5v5.5h-5.5zM30 115h5.5v5.5h-5.5zM70 120h5.5v5.5h-5.5zM120 120h5.5v5.5h-5.5zM50 125h5.5v5.5h-5.5zM90 125h5.5v5.5h-5.5zM105 125h5.5v5.5h-5.5zM115 125h5.5v5.5h-5.5zM90 135h5.5v5.5h-5.5zM110 135h5.5v5.5h-5.5zM100 140h5.5v5.5h-5.5zM120 140h10.5v5.5h-10.5zM60 145h5.5v5.5h-5.5zM125 145h5.5v5.5h-5.5zM55 150h10.5v5.5h-10.5zM135 155h5.5v5.5h-5.5zM115 160h5.5v5.5h-5.5zM125 160h5.5v5.5h-5.5zM40 165h5.5v5.5h-5.5zM50 165h5.5v5.5h-5.5zM105 165h15.5v5.5h-15.5zM50 170h5.5v5.5h-5.5zM130 170h5.5v5.5h-5.5zM15 175h10.5v5.5h-10.5zM65 175h5.5v5.5h-5.5zM75 175h10.5v5.5h-10.5zM100 175h5.5v5.5h-5.5zM115 175h5.5v5.5h-5.5zM125 175h5.5v5.5h-5.5zM40 185h5.5v5.5h-5.5zM110 185h5.5v5.5h-5.5zM125 190h5.5v5.5h-5.5zM125 195h5.5v5.5h-5.5z"/>
<path fill="#e4d070" d="M95 5h5.5v5.5h-5.5zM95 10h5.5v5.5h-5.5zM210 10h5.5v5.5h-5.5zM205 15h5.5v5.5h-5.5zM90 20h10.5v5.5h-10.5zM160 25h5.5v5.5h-5.5zM155 30h15.5v5.5h-15.5zM180 30h5.5v5.5h-5.5zM20 50h5.5v5.5h-5.5zM5 55h5.5v5.5h-5.5zM140 60h5.5v5.5h-5.5zM105 65h5.5v5.5h-5.5zM130 65h5.5v5.5h-5.5zM145 65h5.5v5.5h-5.5zM135 75h5.5v5.5h-5.5zM215 80h5.5v5.5h-5.5zM210 85h5.5v5.5h-5.5zM35 95h5.5v5.5h-5.5zM115 110h10.5v5.5h-10.5zM130 110h5.5v5.5h-5.5zM35 115h5.5v5.5h-5.5zM115 115h5.5v5.5h-5.5zM55 120h5.5v5.5h-5.5zM95 120h5.5v5.5h-5.5zM115 120h5.5v5.5h-5.5zM60 125h15.5v5.5h-15.5zM210 125h5.5v5.5h-5.5zM50 130h10.5v5.5h-10.5zM70 130h5.5v5.5h-5.5zM45 135h5.5v5.5h-5.5zM55 140h5.5v5.5h-5.5zM45 155h5.5v5.5h-5.5zM115 155h5.5v5.5h-5.5zM30 160h5.5v5.5h-5.5zM55 160h5.5v5.5h-5.5zM125 165h5.5v5.5h-5.5zM0 170h5.5v5.5h-5.5zM15 170h5.5v5.5h-5.5zM40 170h5.5v5.5h-5.5zM115 170h10.5v5.5h-10.5zM110 175h5.5v5.5h-5.5zM35 180h5.5v5.5h-5.5zM45 180h5.5v5.5h-5.5zM90 180h15.5v5.5h-15.5zM115 180h5.5v5.5h-5.5zM85 185h5.5v5.5h-5.5zM100 185h5.5v5.5h-5.5zM95 190h5.5v5.5h-5.5zM100 195h5.5v5.5h-5.5zM50 200h5.5v5.5h-5.5z"/>
<path fill="#d2bc46" d="M100 5h5.5v5.5h-5.5zM100 10h5.5v5.5h-5.5zM95 25h5.5v5.5h-5.5zM180 25h5.5v5.5h-5.5zM95 40h5.5v5.5h-5.5zM130 40h5.5v5.5h-5.5zM100 45h5.5v5.5h-5.5zM35 50h5.5v5.5h-5.5zM55 50h10.5v5.5h-10.5zM80 50h5.5v5.5h-5.5zM120 50h5.5v5.5h-5.5zM135 50h5.5v5.5h-5.5zM15 55h5.5v5.5h-5.5zM55 55h5.5v5.5h-5.5zM90 55h5.5v5.5h-5.5zM115 55h5.5v5.5h-5.5zM125 55h10.5v5.5h-10.5zM0 65h5.5v5.5h-5.5zM10 65h5.5v5.5h-5.5zM10 80h5.5v5.5h-5.5zM25 80h5.5v5.5h-5.5zM5 85h5.5v5.5h-5.5zM35 85h5.5v5.5h-5.5zM25 95h5.5v5.5h-5.5zM40 95h5.5v5.5h-5.5zM15 100h5.5v5.5h-5.5zM20 105h5.5v5.5h-5.5zM45 105h5.5v5.5h-5.5zM100 110h5.5v5.5h-5.5zM20 115h5.5v5.5h-5.5zM55 115h5.5v5.5h-5.5zM80 115h10.5v5.5h-10.5zM100 115h5.5v5.5h-5.5zM10 120h5.5v5.5h-5.5zM90 120h5.5v5.5h-5.5zM20 125h5.5v5.5h-5.5zM40 130h10.5v5.5h-10.5zM15 140h5.5v5.5h-5.5zM30 140h5.5v5.5h-5.5zM20 145h5.5v5.5h-5.5zM30 145h5.5v5.5h-5.5zM45 145h5.5v5.5h-5.5zM5 155h5.5v5.5h-5.5zM20 155h5.5v5.5h-5.5zM30 155h5.5v5.5h-5.5zM40 155h5.5v5.5h-5.5zM10 170h5.5v5.5h-5.5zM20 170h5.5v5.5h-5.5zM35 170h5.5v5.5h-5.5zM60 195h5.5v5.5h-5.5zM75 195h10.5v5.5h-10.5zM65 200h5.5v5.5h-5.5zM80 200h5.5v5.5h-5.5zM100 200h5.5v5.5h-5.5z"/>
<path fill="#c2b433" d="M105 5h5.5v5.5h-5.5zM100 15h5.5v5.5h-5.5zM190 15h10.5v5.5h-10.5zM100 20h5.5v5.5h-5.5zM165 25h5.5v5.5h-5.5zM135 35h5.5v5.5h-5.5zM100 40h5.5v5.5h-5.5zM125 40h5.5v5.5h-5.5zM35 55h5.5v5.5h-5.5zM45 55h5.5v5.5h-5.5zM60 55h5.5v5.5h-5.5zM25 60h15.5v5.5h-15.5zM45 60h5.5v5.5h-5.5zM85 60h5.5v5.5h-5.5zM20 65h10.5v5.5h-10.5zM45 65h10.5v5.5h-10.5zM85 65h5.5v5.5h-5.5zM0 70h5.5v5.5h-5.5zM10 70h5.5v5.5h-5.5zM25 75h10.5v5.5h-10.5zM90 75h5.5v5.5h-5.5zM40 80h5.5v5.5h-5.5zM90 85h5.5v5.5h-5.5zM10 90h5.5v5.5h-5.5zM20 90h5.5v5.5h-5.5zM50 95h5.5v5.5h-5.5zM70 100h5.5v5.5h-5.5zM85 100h5.5v5.5h-5.5zM50 105h10.5v5.5h-10.5zM50 110h10.5v5.5h-10.5zM70 110h10.5v5.5h-10.5zM90 110h5.5v5.5h-5.5zM65 115h5.5v5.5h-5.5zM15 135h5.5v5.5h-5.5zM10 140h5.5v5.5h-5.5zM5 145h5.5v5.5h-5.5zM15 145h5.5v5.5h-5.5z"/>
<path fill="#9da418" d="M110 5h5.5v5.5h-5.5zM105 15h10.5v5.5h-10.5zM110 20h5.5v5.5h-5.5zM165 20h5.5v5.5h-5.5zM135 25h5.5v5.5h-5.5zM115 30h5.5v5.5h-5.5zM130 35h5.5v5.5h-5.5zM60 65h5.5v5.5h-5.5zM75 65h5.5v5.5h-5.5zM60 70h5.5v5.5h-5.5zM70 70h5.5v5.5h-5.5zM60 75h5.5v5.5h-5.5zM70 75h5.5v5.5h-5.5zM55 80h5.5v5.5h-5.5zM80 85h5.5v5.5h-5.5zM65 95h5.5v5.5h-5.5z"/>
<path fill="#869d12" d="M125 5h10.5v5.5h-10.5zM125 10h5.5v5.5h-5.5zM120 15h5.5v5.5h-5.5zM135 15h5.5v5.5h-5.5zM145 15h5.5v5.5h-5.5zM155 15h5.5v5.5h-5.5zM165 15h5.5v5.5h-5.5zM115 20h5.5v5.5h-5.5zM130 20h5.5v5.5h-5.5zM70 65h5.5v5.5h-5.5zM75 75h5.5v5.5h-5.5zM75 85h5.5v5.5h-5.5z"/>
<path fill="#388622" d="M165 5h5.5v5.5h-5.5z"/>
<path fill="#96a214" d="M190 5h5.5v5.5h-5.5zM190 10h5.5v5.5h-5.5zM115 15h5.5v5.5h-5.5zM120 25h5.5v5.5h-5.5zM140 25h5.5v5.5h-5.5zM130 30h5.5v5.5h-5.5zM75 60h5.5v5.5h-5.5zM80 65h5.5v5.5h-5.5zM65 80h15.5v5.5h-15.5zM60 85h5.5v5.5h-5.5z"/>
<path fill="#b1ac22" d="M195 5h5.5v5.5h-5.5zM105 20h5.5v5.5h-5.5zM145 20h5.5v5.5h-5.5zM155 20h5.5v5.5h-5.5zM110 30h5.5v5.5h-5.5zM110 35h5.5v5.5h-5.5zM120 35h5.5v5.5h-5.5zM35 65h10.5v5.5h-10.5zM30 70h5.5v5.5h-5.5zM40 70h5.5v5.5h-5.5zM55 70h5.5v5.5h-5.5zM35 75h5.5v5.5h-5.5zM50 80h5.5v5.5h-5.5zM80 80h5.5v5.5h-5.5zM55 85h5.5v5.5h-5.5zM65 85h5.5v5.5h-5.5zM55 90h5.5v5.5h-5.5zM70 90h5.5v5.5h-5.5zM45 95h5.5v5.5h-5.5zM75 95h5.5v5.5h-5.5zM95 95h5.5v5.5h-5.5zM55 100h5.5v5.5h-5.5zM90 100h5.5v5.5h-5.5zM70 105h5.5v5.5h-5.5zM90 105h5.5v5.5h-5.5z"/>
<path fill="#f6f7db" d="M75 10h5.5v5.5h-5.5zM75 15h5.5v5.5h-5.5zM70 20h5.5v5.5h-5.5zM215 30h5.5v5.5h-5.5zM20 35h5.5v5.5h-5.5zM55 35h5.5v5.5h-5.5zM0 45h5.5v5.5h-5.5zM145 175h5.5v5.5h-5.5zM25 190h5.5v5.5h-5.5z"/>
<path fill="#f5eca9" d="M85 10h5.5v5.5h-5.5zM210 25h5.5v5.5h-5.5zM185 30h5.5v5.5h-5.5zM195 30h10.5v5.5h-10.5zM150 35h5.5v5.5h-5.5zM175 35h5.5v5.5h-5.5zM45 40h5.5v5.5h-5.5zM155 40h10.5v5.5h-10.5zM20 45h5.5v5.5h-5.5zM170 45h15.5v5.5h-15.5zM165 55h5.5v5.5h-5.5zM175 55h5.5v5.5h-5.5zM165 60h5.5v5.5h-5.5zM160 65h5.5v5.5h-5.5zM150 70h5.5v5.5h-5.5zM125 75h5.5v5.5h-5.5zM110 80h5.5v5.5h-5.5zM120 80h5.5v5.5h-5.5zM125 85h5.5v5.5h-5.5zM205 85h5.5v5.5h-5.5zM125 90h10.5v5.5h-10.5zM155 95h5.5v5.5h-5.5zM145 100h5.5v5.5h-5.5zM155 105h5.5v5.5h-5.5zM155 110h5.5v5.5h-5.5zM135 125h10.5v5.5h-10.5zM105 130h5.5v5.5h-5.5zM80 135h5.5v5.5h-5.5zM125 135h5.5v5.5h-5.5zM140 135h5.5v5.5h-5.5zM130 140h5.5v5.5h-5.5zM70 145h5.5v5.5h-5.5zM90 145h10.5v5.5h-10.5zM95 150h5.5v5.5h-5.5zM95 155h5.5v5.5h-5.5zM105 155h5.5v5.5h-5.5zM70 160h5.5v5.5h-5.5zM110 160h5.5v5.5h-5.5zM90 165h5.5v5.5h-5.5zM100 170h5.5v5.5h-5.5zM130 175h5.5v5.5h-5.5zM140 175h5.5v5.5h-5.5zM50 180h10.5v5.5h-10.5zM130 180h5.5v5.5h-5.5zM130 185h10.5v5.5h-10.5z"/>
<path fill="#bdb12c" d="M105 10h5.5v5.5h-5.5zM195 10h5.5v5.5h-5.5zM185 15h5.5v5.5h-5.5zM160 20h5.5v5.5h-5.5zM105 25h5.5v5.5h-5.5zM105 30h5.5v5.5h-5.5zM140 30h5.5v5.5h-5.5zM105 45h5.5v5.5h-5.5zM125 45h5.5v5.5h-5.5zM75 55h5.5v5.5h-5.5zM85 55h5.5v5.5h-5.5zM60 60h15.5v5.5h-15.5zM80 60h5.5v5.5h-5.5zM30 65h5.5v5.5h-5.5zM20 70h5.5v5.5h-5.5zM35 70h5.5v5.5h-5.5zM45 80h5.5v5.5h-5.5zM10 85h5.5v5.5h-5.5zM20 85h5.5v5.5h-5.5zM45 90h5.5v5.5h-5.5zM80 100h5.5v5.5h-5.5zM75 105h5.5v5.5h-5.5zM85 105h5.5v5.5h-5.5zM95 110h5.5v5.5h-5.5zM75 115h5.5v5.5h-5.5zM0 140h5.5v5.5h-5.5zM0 145h5.5v5.5h-5.5z"/>
<path fill="#f3e8a0" d="M85 15h5.5v5.5h-5.5zM80 20h5.5v5.5h-5.5zM215 20h5.5v5.5h-5.5zM190 30h5.5v5.5h-5.5zM205 30h5.5v5.5h-5.5zM160 35h5.5v5.5h-5.5zM55 40h10.5v5.5h-10.5zM75 40h5.5v5.5h-5.5zM50 45h5.5v5.5h-5.5zM150 45h10.5v5.5h-10.5zM10 50h5.5v5.5h-5.5zM155 50h5.5v5.5h-5.5zM155 55h5.5v5.5h-5.5zM170 60h5.5v5.5h-5.5zM165 65h10.5v5.5h-10.5zM115 70h5.5v5.5h-5.5zM155 70h5.5v5.5h-5.5zM150 75h5.5v5.5h-5.5zM100 80h10.5v5.5h-10.5zM155 80h5.5v5.5h-5.5zM165 80h5.5v5.5h-5.5zM100 85h5.5v5.5h-5.5zM110 85h5.5v5.5h-5.5zM135 85h15.5v5.5h-15.5zM135 90h5.5v5.5h-5.5zM155 90h5.5v5.5h-5.5zM215 90h5.5v5.5h-5.5zM120 95h5.5v5.5h-5.5zM140 95h10.5v5.5h-10.5zM160 95h5.5v5.5h-5.5zM215 95h5.5v5.5h-5.5zM215 100h5.5v5.5h-5.5zM145 110h10.5v5.5h-10.5zM150 115h10.5v5.5h-10.5zM110 120h5.5v5.5h-5.5zM135 120h5.5v5.5h-5.5zM130 125h5.5v5.5h-5.5zM110 130h10.5v5.5h-10.5zM130 130h5.5v5.5h-5.5zM145 130h5.5v5.5h-5.5zM75 135h5.5v5.5h-5.5zM95 135h5.5v5.5h-5.5zM115 140h5.5v5.5h-5.5zM135 140h5.5v5.5h-5.5zM130 145h5.5v5.5h-5.5zM100 150h5.5v5.5h-5.5zM120 150h20.5v5.5h-20.5zM110 155h5.5v5.5h-5.5zM130 155h5.5v5.5h-5.5zM85 160h5.5v5.5h-5.5zM100 160h10.5v5.5h-10.5zM135 165h5.5v5.5h-5.5zM70 170h5.5v5.5h-5.5zM140 170h5.5v5.5h-5.5zM15 180h5.5v5.5h-5.5zM30 180h5.5v5.5h-5.5zM135 180h5.5v5.5h-5.5zM40 195h5.5v5.5h-5.5z"/>
<path fill="#cdb940" d="M185 20h5.5v5.5h-5.5zM100 25h5.5v5.5h-5.5zM155 25h5.5v5.5h-5.5zM95 30h10.5v5.5h-10.5zM100 35h5.5v5.5h-5.5zM75 45h10.5v5.5h-10.5zM120 45h5.5v5.5h-5.5zM45 50h5.5v5.5h-5.5zM20 55h5.5v5.5h-5.5zM30 55h5.5v5.5h-5.5zM40 55h5.5v5.5h-5.5zM10 60h5.5v5.5h-5.5zM20 60h5.5v5.5h-5.5zM50 60h5.5v5.5h-5.5zM90 60h5.5v5.5h-5.5zM120 60h5.5v5.5h-5.5zM90 65h5.5v5.5h-5.5zM15 70h5.5v5.5h-5.5zM25 70h5.5v5.5h-5.5zM0 75h5.5v5.5h-5.5zM10 75h10.5v5.5h-10.5zM210 75h5.5v5.5h-5.5zM0 80h5.5v5.5h-5.5zM30 80h5.5v5.5h-5.5zM90 80h5.5v5.5h-5.5zM25 85h5.5v5.5h-5.5zM40 85h5.5v5.5h-5.5zM0 90h5.5v5.5h-5.5zM30 90h5.5v5.5h-5.5zM10 95h10.5v5.5h-10.5zM100 95h5.5v5.5h-5.5zM95 100h10.5v5.5h-10.5zM70 115h5.5v5.5h-5.5zM90 115h5.5v5.5h-5.5zM80 120h5.5v5.5h-5.5zM5 140h5.5v5.5h-5.5zM0 150h5.5v5.5h-5.5zM10 150h15.5v5.5h-15.5zM35 150h5.5v5.5h-5.5zM25 155h5.5v5.5h-5.5zM20 160h10.5v5.5h-10.5zM45 160h5.5v5.5h-5.5zM15 165h5.5v5.5h-5.5zM80 185h5.5v5.5h-5.5zM80 190h5.5v5.5h-5.5zM100 190h5.5v5.5h-5.5zM70 195h5.5v5.5h-5.5z"/>
<path fill="#faf5bb" d="M80 25h5.5v5.5h-5.5zM205 25h5.5v5.5h-5.5zM65 30h10.5v5.5h-10.5zM65 35h5.5v5.5h-5.5zM210 35h10.5v5.5h-10.5zM165 40h15.5v5.5h-15.5zM185 45h5.5v5.5h-5.5zM170 55h5.5v5.5h-5.5zM105 75h5.5v5.5h-5.5zM140 110h5.5v5.5h-5.5zM140 115h5.5v5.5h-5.5zM70 140h5.5v5.5h-5.5zM80 140h5.5v5.5h-5.5zM90 140h5.5v5.5h-5.5zM75 145h5.5v5.5h-5.5zM85 145h5.5v5.5h-5.5zM75 150h10.5v5.5h-10.5zM80 155h5.5v5.5h-5.5zM80 160h5.5v5.5h-5.5zM20 185h5.5v5.5h-5.5zM130 200h5.5v5.5h-5.5z"/>
<path fill="#f0e396" d="M85 25h5.5v5.5h-5.5zM80 30h5.5v5.5h-5.5zM170 30h5.5v5.5h-5.5zM70 35h10.5v5.5h-10.5zM0 50h5.5v5.5h-5.5zM165 50h5.5v5.5h-5.5zM100 70h10.5v5.5h-10.5zM160 70h10.5v5.5h-10.5zM155 75h10.5v5.5h-10.5zM145 80h10.5v5.5h-10.5zM105 85h5.5v5.5h-5.5zM115 85h10.5v5.5h-10.5zM130 85h5.5v5.5h-5.5zM140 90h5.5v5.5h-5.5zM150 90h5.5v5.5h-5.5zM150 95h5.5v5.5h-5.5zM210 95h5.5v5.5h-5.5zM125 100h5.5v5.5h-5.5zM135 100h5.5v5.5h-5.5zM155 100h5.5v5.5h-5.5zM125 105h5.5v5.5h-5.5zM145 115h5.5v5.5h-5.5zM100 125h5.5v5.5h-5.5zM125 125h5.5v5.5h-5.5zM80 130h15.5v5.5h-15.5zM70 135h5.5v5.5h-5.5zM115 135h10.5v5.5h-10.5zM75 140h5.5v5.5h-5.5zM95 140h5.5v5.5h-5.5zM110 140h5.5v5.5h-5.5zM105 150h10.5v5.5h-10.5zM55 155h5.5v5.5h-5.5zM120 155h5.5v5.5h-5.5zM95 160h5.5v5.5h-5.5zM130 160h5.5v5.5h-5.5zM140 165h5.5v5.5h-5.5zM55 170h5.5v5.5h-5.5zM110 170h5.5v5.5h-5.5zM50 175h15.5v5.5h-15.5zM135 175h5.5v5.5h-5.5zM60 180h5.5v5.5h-5.5zM35 185h5.5v5.5h-5.5zM120 185h5.5v5.5h-5.5zM40 190h5.5v5.5h-5.5z"/>
</g>
<path d="M215.3 -1L216.3 50L216.9 100L216.9 131L220 131L220 -1Z" fill="#98b7e2"/>
<path d="M-30.7 0L-25.3 209M0.6 0L6.0 209M31.9 0L37.3 209M63.2 0L68.6 209M94.5 0L99.9 209M125.8 0L131.2 209M157.1 0L162.5 209M188.4 0L193.8 209M219.7 0L225.1 209M0 -8.3L219 -14.0M0 18.6L219 12.9M0 45.5L219 39.8M0 72.4L219 66.7M0 99.3L219 93.6M0 126.2L219 120.5M0 153.1L219 147.4M0 180.0L219 174.3M0 206.9L219 201.2M0 233.8L219 228.1" stroke="#b0b0b0" stroke-width="1.2" fill="none"/>
<path d="M169.7 208.6 L169.7 203.8 L169.2 195.2 L167.5 188.4 L164.9 181.5 L162.4 174.6 L158.9 170.4 L154.6 167.4 L150.4 166.1 L149.8 162.6 L150.9 157.5 L149.2 152.4 L147.8 147.2 L148.6 143.8 L152.1 140.4 L156.4 134.4 L158.9 128.4 L160.1 120.6 L164.1 114.6 L168.4 106.1 L164.1 115.8 L167.5 107.2 L170.9 96.9 L174.4 86.6 L177.8 76.4 L181.2 67.8 L184.6 60.1 L188.9 52.4 L194.1 46.4 L199.2 42.9 L204.4 41.7 L208.6 40.4 L210.9 40.9 L211.6 42.9 L210.4 46.4 L208.1 52.4 L206.4 60.9 L204.7 69.5 L203.0 78.1 L201.3 86.6 L200.1 92.6 L201.8 97.8 L204.4 102.1 L206.0 103.5 L205.7 107.0 L204.0 110.5 L205.0 112.7 L207.5 112.0 L209.0 108.5 L211.0 108.0 L211.7 110.5 L210.5 114.5 L207.5 117.5 L205.3 121.0 L205.3 125.5 L204.5 131.5 L206.0 135.5 L209.5 137.8 L214.0 136.5 L217.0 132.0 L219.5 127.0" stroke="#7a7a7a" stroke-width="1.5" fill="none" stroke-linejoin="round"/>
</g>
<rect x="0" y="0" width="219" height="209" fill="none" stroke="#000" stroke-width="1"/>
</g>
<g transform="translate(478.5 102.5)">
<clipPath id="cp1"><rect x="0" y="0" width="219" height="209"/></clipPath>
<g clip-path="url(#cp1)">
<rect x="0" y="0" width="219" height="209" fill="#98b7e2"/>
<path d="M169.7 208.6 L169.7 203.8 L169.2 195.2 L167.5 188.4 L164.9 181.5 L162.4 174.6 L158.9 170.4 L154.6 167.4 L150.4 166.1 L149.8 162.6 L150.9 157.5 L149.2 152.4 L147.8 147.2 L148.6 143.8 L152.1 140.4 L156.4 134.4 L158.9 128.4 L160.1 120.6 L164.1 114.6 L168.4 106.1 L164.1 115.8 L167.5 107.2 L170.9 96.9 L174.4 86.6 L177.8 76.4 L181.2 67.8 L184.6 60.1 L188.9 52.4 L194.1 46.4 L199.2 42.9 L204.4 41.7 L208.6 40.4 L210.9 40.9 L211.6 42.9 L210.4 46.4 L208.1 52.4 L206.4 60.9 L204.7 69.5 L203.0 78.1 L201.3 86.6 L200.1 92.6 L201.8 97.8 L204.4 102.1 L206.0 103.5 L205.7 107.0 L204.0 110.5 L205.0 112.7 L207.5 112.0 L209.0 108.5 L211.0 108.0 L211.7 110.5 L210.5 114.5 L207.5 117.5 L205.3 121.0 L205.3 125.5 L204.5 131.5 L206.0 135.5 L209.5 137.8 L214.0 136.5 L217.0 132.0 L219.5 127.0 L221.0 127.0 L221.0 211.0 L169.7 211.0Z" fill="#efefdb"/>
<g transform="matrix(0.9880 -0.02470 0.01780 0.9890 1.50 4.60)" shape-rendering="crispEdges">
<path fill="#aed4ce" d="M0 0h5.5v5.5h-5.5zM35 0h15.5v5.5h-15.5zM85 0h5.5v5.5h-5.5zM65 10h5.5v5.5h-5.5zM75 10h5.5v5.5h-5.5zM95 10h5.5v5.5h-5.5zM115 10h5.5v5.5h-5.5zM50 15h5.5v5.5h-5.5zM105 15h5.5v5.5h-5.5zM30 30h5.5v5.5h-5.5zM20 45h5.5v5.5h-5.5zM135 45h5.5v5.5h-5.5zM145 45h5.5v5.5h-5.5zM140 50h5.5v5.5h-5.5zM130 55h5.5v5.5h-5.5zM145 55h5.5v5.5h-5.5zM5 60h5.5v5.5h-5.5zM155 60h5.5v5.5h-5.5zM150 65h5.5v5.5h-5.5zM165 65h5.5v5.5h-5.5zM155 70h5.5v5.5h-5.5zM90 80h5.5v5.5h-5.5zM140 85h10.5v5.5h-10.5zM130 90h5.5v5.5h-5.5zM85 95h5.5v5.5h-5.5zM140 95h5.5v5.5h-5.5zM135 100h5.5v5.5h-5.5zM150 100h5.5v5.5h-5.5zM100 105h5.5v5.5h-5.5zM110 105h5.5v5.5h-5.5zM125 105h10.5v5.5h-10.5zM145 105h5.5v5.5h-5.5zM85 110h5.5v5.5h-5.5zM115 110h5.5v5.5h-5.5zM135 110h5.5v5.5h-5.5zM145 110h10.5v5.5h-10.5zM85 115h5.5v5.5h-5.5zM130 115h5.5v5.5h-5.5zM145 115h5.5v5.5h-5.5zM85 120h5.5v5.5h-5.5zM105 120h5.5v5.5h-5.5zM135 120h5.5v5.5h-5.5zM145 120h5.5v5.5h-5.5zM85 125h5.5v5.5h-5.5zM140 125h5.5v5.5h-5.5zM140 130h5.5v5.5h-5.5zM85 135h5.5v5.5h-5.5zM140 135h5.5v5.5h-5.5zM85 140h5.5v5.5h-5.5zM135 140h5.5v5.5h-5.5zM80 150h5.5v5.5h-5.5zM95 150h5.5v5.5h-5.5zM85 155h5.5v5.5h-5.5zM90 160h15.5v5.5h-15.5zM135 160h5.5v5.5h-5.5zM130 165h5.5v5.5h-5.5zM70 170h5.5v5.5h-5.5zM135 170h5.5v5.5h-5.5zM135 180h10.5v5.5h-10.5zM100 190h5.5v5.5h-5.5zM65 195h5.5v5.5h-5.5zM100 195h5.5v5.5h-5.5zM145 195h5.5v5.5h-5.5z"/>
<path fill="#fffdcd" d="M5 0h25.5v5.5h-25.5zM5 5h25.5v5.5h-25.5zM5 10h25.5v5.5h-25.5zM135 10h5.5v5.5h-5.5zM0 15h25.5v5.5h-25.5zM130 15h10.5v5.5h-10.5zM175 15h5.5v5.5h-5.5zM5 20h25.5v5.5h-25.5zM95 20h5.5v5.5h-5.5zM10 25h20.5v5.5h-20.5zM20 30h5.5v5.5h-5.5zM205 30h5.5v5.5h-5.5zM110 35h5.5v5.5h-5.5zM150 35h5.5v5.5h-5.5zM205 35h5.5v5.5h-5.5zM40 40h5.5v5.5h-5.5zM195 40h25.5v5.5h-25.5zM75 45h5.5v5.5h-5.5zM190 45h30.5v5.5h-30.5zM45 50h5.5v5.5h-5.5zM185 50h35.5v5.5h-35.5zM45 55h5.5v5.5h-5.5zM180 55h40.5v5.5h-40.5zM65 60h5.5v5.5h-5.5zM75 60h5.5v5.5h-5.5zM175 60h45.5v5.5h-45.5zM35 65h10.5v5.5h-10.5zM50 65h5.5v5.5h-5.5zM75 65h10.5v5.5h-10.5zM175 65h35.5v5.5h-35.5zM65 70h5.5v5.5h-5.5zM80 70h5.5v5.5h-5.5zM175 70h35.5v5.5h-35.5zM25 75h15.5v5.5h-15.5zM65 75h5.5v5.5h-5.5zM115 75h5.5v5.5h-5.5zM170 75h40.5v5.5h-40.5zM170 80h40.5v5.5h-40.5zM110 85h5.5v5.5h-5.5zM165 85h40.5v5.5h-40.5zM5 90h5.5v5.5h-5.5zM20 90h5.5v5.5h-5.5zM30 90h5.5v5.5h-5.5zM165 90h45.5v5.5h-45.5zM5 95h5.5v5.5h-5.5zM65 95h5.5v5.5h-5.5zM165 95h50.5v5.5h-50.5zM5 100h5.5v5.5h-5.5zM30 100h5.5v5.5h-5.5zM160 100h50.5v5.5h-50.5zM65 105h5.5v5.5h-5.5zM160 105h60.5v5.5h-60.5zM70 110h5.5v5.5h-5.5zM160 110h60.5v5.5h-60.5zM0 115h10.5v5.5h-10.5zM70 115h5.5v5.5h-5.5zM160 115h60.5v5.5h-60.5zM0 120h10.5v5.5h-10.5zM30 120h5.5v5.5h-5.5zM70 120h5.5v5.5h-5.5zM155 120h65.5v5.5h-65.5zM0 125h10.5v5.5h-10.5zM150 125h60.5v5.5h-60.5zM0 130h10.5v5.5h-10.5zM150 130h60.5v5.5h-60.5zM0 135h5.5v5.5h-5.5zM30 135h5.5v5.5h-5.5zM70 135h5.5v5.5h-5.5zM145 135h75.5v5.5h-75.5zM140 140h80.5v5.5h-80.5zM140 145h80.5v5.5h-80.5zM60 150h5.5v5.5h-5.5zM140 150h80.5v5.5h-80.5zM50 155h5.5v5.5h-5.5zM140 155h80.5v5.5h-80.5zM10 160h5.5v5.5h-5.5zM25 160h10.5v5.5h-10.5zM45 160h5.5v5.5h-5.5zM140 160h80.5v5.5h-80.5zM15 165h5.5v5.5h-5.5zM145 165h75.5v5.5h-75.5zM15 170h5.5v5.5h-5.5zM145 170h75.5v5.5h-75.5zM5 175h10.5v5.5h-10.5zM20 175h5.5v5.5h-5.5zM155 175h65.5v5.5h-65.5zM0 180h15.5v5.5h-15.5zM30 180h5.5v5.5h-5.5zM40 180h5.5v5.5h-5.5zM155 180h65.5v5.5h-65.5zM0 185h15.5v5.5h-15.5zM155 185h65.5v5.5h-65.5zM0 190h15.5v5.5h-15.5zM160 190h60.5v5.5h-60.5zM0 195h20.5v5.5h-20.5zM160 195h60.5v5.5h-60.5zM0 200h25.5v5.5h-25.5zM40 200h5.5v5.5h-5.5zM160 200h60.5v5.5h-60.5z"/>
<path fill="#cae0d5" d="M30 0h5.5v5.5h-5.5zM55 0h5.5v5.5h-5.5zM125 0h5.5v5.5h-5.5zM0 5h5.5v5.5h-5.5zM50 10h5.5v5.5h-5.5zM90 10h5.5v5.5h-5.5zM45 15h5.5v5.5h-5.5zM65 15h5.5v5.5h-5.5zM80 15h5.5v5.5h-5.5zM95 15h10.5v5.5h-10.5zM30 20h5.5v5.5h-5.5zM60 20h5.5v5.5h-5.5zM80 20h5.5v5.5h-5.5zM120 20h5.5v5.5h-5.5zM65 25h10.5v5.5h-10.5zM190 25h5.5v5.5h-5.5zM35 30h20.5v5.5h-20.5zM175 30h5.5v5.5h-5.5zM55 35h5.5v5.5h-5.5zM115 35h5.5v5.5h-5.5zM125 35h5.5v5.5h-5.5zM25 40h5.5v5.5h-5.5zM180 40h5.5v5.5h-5.5zM150 45h5.5v5.5h-5.5zM20 50h10.5v5.5h-10.5zM20 55h5.5v5.5h-5.5zM160 55h5.5v5.5h-5.5zM175 55h5.5v5.5h-5.5zM15 60h5.5v5.5h-5.5zM170 60h5.5v5.5h-5.5zM0 65h10.5v5.5h-10.5zM150 70h5.5v5.5h-5.5zM160 75h5.5v5.5h-5.5zM80 80h5.5v5.5h-5.5zM155 80h10.5v5.5h-10.5zM80 85h5.5v5.5h-5.5zM150 85h5.5v5.5h-5.5zM160 85h5.5v5.5h-5.5zM125 95h5.5v5.5h-5.5zM155 95h5.5v5.5h-5.5zM155 100h5.5v5.5h-5.5zM150 105h5.5v5.5h-5.5zM20 110h5.5v5.5h-5.5zM80 120h5.5v5.5h-5.5zM115 120h5.5v5.5h-5.5zM125 120h5.5v5.5h-5.5zM150 120h5.5v5.5h-5.5zM145 125h5.5v5.5h-5.5zM80 130h5.5v5.5h-5.5zM80 135h5.5v5.5h-5.5zM5 140h5.5v5.5h-5.5zM80 140h5.5v5.5h-5.5zM5 145h5.5v5.5h-5.5zM75 150h5.5v5.5h-5.5zM85 150h5.5v5.5h-5.5zM0 155h5.5v5.5h-5.5zM70 155h15.5v5.5h-15.5zM95 155h5.5v5.5h-5.5zM85 165h5.5v5.5h-5.5zM75 170h15.5v5.5h-15.5zM85 175h5.5v5.5h-5.5zM50 185h5.5v5.5h-5.5zM80 185h5.5v5.5h-5.5zM45 190h5.5v5.5h-5.5zM55 190h10.5v5.5h-10.5zM70 190h5.5v5.5h-5.5zM60 195h5.5v5.5h-5.5zM70 195h5.5v5.5h-5.5zM150 195h5.5v5.5h-5.5zM60 200h5.5v5.5h-5.5zM80 200h5.5v5.5h-5.5zM95 200h5.5v5.5h-5.5z"/>
<path fill="#b8d8d0" d="M50 0h5.5v5.5h-5.5zM45 5h10.5v5.5h-10.5zM120 5h5.5v5.5h-5.5zM30 10h5.5v5.5h-5.5zM120 10h5.5v5.5h-5.5zM75 15h5.5v5.5h-5.5zM50 20h5.5v5.5h-5.5zM15 45h5.5v5.5h-5.5zM125 45h5.5v5.5h-5.5zM125 50h5.5v5.5h-5.5zM150 50h5.5v5.5h-5.5zM140 55h5.5v5.5h-5.5zM0 60h5.5v5.5h-5.5zM125 60h5.5v5.5h-5.5zM135 60h5.5v5.5h-5.5zM125 65h5.5v5.5h-5.5zM160 65h5.5v5.5h-5.5zM145 75h5.5v5.5h-5.5zM85 80h5.5v5.5h-5.5zM85 85h15.5v5.5h-15.5zM75 90h5.5v5.5h-5.5zM90 90h5.5v5.5h-5.5zM145 90h10.5v5.5h-10.5zM110 95h5.5v5.5h-5.5zM135 95h5.5v5.5h-5.5zM110 100h5.5v5.5h-5.5zM145 100h5.5v5.5h-5.5zM140 110h5.5v5.5h-5.5zM155 110h5.5v5.5h-5.5zM125 115h5.5v5.5h-5.5zM155 115h5.5v5.5h-5.5zM120 120h5.5v5.5h-5.5zM130 120h5.5v5.5h-5.5zM215 125h5.5v5.5h-5.5zM15 140h5.5v5.5h-5.5zM90 145h5.5v5.5h-5.5zM70 160h5.5v5.5h-5.5zM125 160h5.5v5.5h-5.5zM90 170h5.5v5.5h-5.5zM100 170h5.5v5.5h-5.5zM140 170h5.5v5.5h-5.5zM75 175h5.5v5.5h-5.5zM135 175h5.5v5.5h-5.5zM65 180h5.5v5.5h-5.5zM100 180h5.5v5.5h-5.5zM80 190h5.5v5.5h-5.5zM140 190h5.5v5.5h-5.5zM50 195h5.5v5.5h-5.5zM140 195h5.5v5.5h-5.5zM100 200h5.5v5.5h-5.5z"/>
<path fill="#a5d0cb" d="M60 0h5.5v5.5h-5.5zM70 0h5.5v5.5h-5.5zM120 0h5.5v5.5h-5.5zM65 5h10.5v5.5h-10.5zM0 10h5.5v5.5h-5.5zM80 10h5.5v5.5h-5.5zM110 10h5.5v5.5h-5.5zM5 25h5.5v5.5h-5.5zM190 30h5.5v5.5h-5.5zM5 55h10.5v5.5h-10.5zM150 55h5.5v5.5h-5.5zM155 65h5.5v5.5h-5.5zM145 70h5.5v5.5h-5.5zM150 75h5.5v5.5h-5.5zM140 90h5.5v5.5h-5.5zM105 95h5.5v5.5h-5.5zM130 95h5.5v5.5h-5.5zM145 95h5.5v5.5h-5.5zM90 100h5.5v5.5h-5.5zM85 105h10.5v5.5h-10.5zM115 105h5.5v5.5h-5.5zM140 105h5.5v5.5h-5.5zM100 115h5.5v5.5h-5.5zM120 115h5.5v5.5h-5.5zM95 120h5.5v5.5h-5.5zM140 120h5.5v5.5h-5.5zM115 125h5.5v5.5h-5.5zM125 125h10.5v5.5h-10.5zM85 130h5.5v5.5h-5.5zM130 130h5.5v5.5h-5.5zM145 130h5.5v5.5h-5.5zM90 140h5.5v5.5h-5.5zM120 140h5.5v5.5h-5.5zM130 140h5.5v5.5h-5.5zM95 145h5.5v5.5h-5.5zM135 145h5.5v5.5h-5.5zM90 150h5.5v5.5h-5.5zM110 150h5.5v5.5h-5.5zM130 150h5.5v5.5h-5.5zM135 155h5.5v5.5h-5.5zM130 160h5.5v5.5h-5.5zM95 165h10.5v5.5h-10.5zM135 165h5.5v5.5h-5.5zM95 175h5.5v5.5h-5.5zM100 185h5.5v5.5h-5.5zM65 200h5.5v5.5h-5.5z"/>
<path fill="#88c2c4" d="M65 0h5.5v5.5h-5.5zM90 0h10.5v5.5h-10.5zM110 0h10.5v5.5h-10.5zM105 5h15.5v5.5h-15.5zM10 35h5.5v5.5h-5.5zM5 45h5.5v5.5h-5.5zM0 55h5.5v5.5h-5.5zM135 75h5.5v5.5h-5.5zM100 95h5.5v5.5h-5.5zM95 100h5.5v5.5h-5.5zM95 110h5.5v5.5h-5.5zM105 110h5.5v5.5h-5.5zM105 115h5.5v5.5h-5.5zM100 120h5.5v5.5h-5.5zM90 125h5.5v5.5h-5.5zM110 125h5.5v5.5h-5.5zM135 125h5.5v5.5h-5.5zM120 130h5.5v5.5h-5.5zM95 135h5.5v5.5h-5.5zM115 135h10.5v5.5h-10.5zM95 140h10.5v5.5h-10.5zM105 145h5.5v5.5h-5.5zM125 150h5.5v5.5h-5.5zM90 155h5.5v5.5h-5.5zM100 155h5.5v5.5h-5.5zM120 160h5.5v5.5h-5.5zM90 165h5.5v5.5h-5.5zM105 165h5.5v5.5h-5.5zM110 170h5.5v5.5h-5.5zM125 170h5.5v5.5h-5.5zM100 175h15.5v5.5h-15.5zM125 175h5.5v5.5h-5.5zM110 180h10.5v5.5h-10.5zM130 180h5.5v5.5h-5.5zM115 185h5.5v5.5h-5.5zM130 185h10.5v5.5h-10.5zM125 190h5.5v5.5h-5.5zM105 195h5.5v5.5h-5.5zM130 195h5.5v5.5h-5.5zM125 200h5.5v5.5h-5.5z"/>
<path fill="#92c7c6" d="M75 0h5.5v5.5h-5.5zM95 5h5.5v5.5h-5.5zM55 10h5.5v5.5h-5.5zM0 40h5.5v5.5h-5.5zM20 40h5.5v5.5h-5.5zM10 45h5.5v5.5h-5.5zM10 50h5.5v5.5h-5.5zM135 50h5.5v5.5h-5.5zM135 55h5.5v5.5h-5.5zM140 60h10.5v5.5h-10.5zM130 65h5.5v5.5h-5.5zM135 70h5.5v5.5h-5.5zM145 80h5.5v5.5h-5.5zM135 90h5.5v5.5h-5.5zM105 100h5.5v5.5h-5.5zM155 105h5.5v5.5h-5.5zM210 125h5.5v5.5h-5.5zM95 130h5.5v5.5h-5.5zM115 130h5.5v5.5h-5.5zM125 130h5.5v5.5h-5.5zM135 130h5.5v5.5h-5.5zM135 135h5.5v5.5h-5.5zM85 145h5.5v5.5h-5.5zM110 145h5.5v5.5h-5.5zM130 145h5.5v5.5h-5.5zM105 155h5.5v5.5h-5.5zM120 155h5.5v5.5h-5.5zM110 160h5.5v5.5h-5.5zM120 165h10.5v5.5h-10.5zM105 170h5.5v5.5h-5.5zM105 180h5.5v5.5h-5.5zM130 190h10.5v5.5h-10.5zM135 195h5.5v5.5h-5.5zM105 200h5.5v5.5h-5.5zM130 200h5.5v5.5h-5.5z"/>
<path fill="#9bccc9" d="M80 0h5.5v5.5h-5.5zM60 5h5.5v5.5h-5.5zM80 5h15.5v5.5h-15.5zM70 10h5.5v5.5h-5.5zM100 10h10.5v5.5h-10.5zM55 15h5.5v5.5h-5.5zM0 20h5.5v5.5h-5.5zM25 30h5.5v5.5h-5.5zM10 40h5.5v5.5h-5.5zM130 45h5.5v5.5h-5.5zM0 50h10.5v5.5h-10.5zM130 50h5.5v5.5h-5.5zM125 55h5.5v5.5h-5.5zM130 60h5.5v5.5h-5.5zM140 65h10.5v5.5h-10.5zM125 70h10.5v5.5h-10.5zM130 75h5.5v5.5h-5.5zM135 80h10.5v5.5h-10.5zM85 90h5.5v5.5h-5.5zM95 95h5.5v5.5h-5.5zM85 100h5.5v5.5h-5.5zM140 100h5.5v5.5h-5.5zM135 105h5.5v5.5h-5.5zM90 110h5.5v5.5h-5.5zM100 110h5.5v5.5h-5.5zM90 115h5.5v5.5h-5.5zM110 115h5.5v5.5h-5.5zM150 115h5.5v5.5h-5.5zM110 120h5.5v5.5h-5.5zM95 125h5.5v5.5h-5.5zM120 125h5.5v5.5h-5.5zM90 130h5.5v5.5h-5.5zM210 130h5.5v5.5h-5.5zM90 135h5.5v5.5h-5.5zM125 135h10.5v5.5h-10.5zM125 140h5.5v5.5h-5.5zM125 145h5.5v5.5h-5.5zM100 150h10.5v5.5h-10.5zM120 150h5.5v5.5h-5.5zM135 150h5.5v5.5h-5.5zM130 155h5.5v5.5h-5.5zM105 160h5.5v5.5h-5.5zM110 165h5.5v5.5h-5.5zM95 170h5.5v5.5h-5.5zM120 170h5.5v5.5h-5.5zM130 170h5.5v5.5h-5.5zM130 175h5.5v5.5h-5.5zM105 185h5.5v5.5h-5.5zM55 195h5.5v5.5h-5.5zM135 200h5.5v5.5h-5.5z"/>
<path fill="#75b8bf" d="M100 0h5.5v5.5h-5.5zM135 65h5.5v5.5h-5.5zM140 75h5.5v5.5h-5.5zM95 105h5.5v5.5h-5.5zM105 105h5.5v5.5h-5.5zM95 115h5.5v5.5h-5.5zM110 130h5.5v5.5h-5.5zM110 135h5.5v5.5h-5.5zM105 140h5.5v5.5h-5.5zM100 145h5.5v5.5h-5.5zM125 155h5.5v5.5h-5.5zM115 160h5.5v5.5h-5.5zM115 170h5.5v5.5h-5.5zM115 175h5.5v5.5h-5.5zM120 180h5.5v5.5h-5.5zM110 185h5.5v5.5h-5.5zM125 185h5.5v5.5h-5.5zM110 190h5.5v5.5h-5.5zM110 195h5.5v5.5h-5.5zM120 195h5.5v5.5h-5.5z"/>
<path fill="#7ebdc2" d="M105 0h5.5v5.5h-5.5zM75 5h5.5v5.5h-5.5zM0 25h5.5v5.5h-5.5zM10 30h10.5v5.5h-10.5zM0 35h5.5v5.5h-5.5zM20 35h5.5v5.5h-5.5zM5 40h5.5v5.5h-5.5zM15 40h5.5v5.5h-5.5zM0 45h5.5v5.5h-5.5zM140 70h5.5v5.5h-5.5zM100 100h5.5v5.5h-5.5zM90 120h5.5v5.5h-5.5zM100 125h5.5v5.5h-5.5zM100 130h10.5v5.5h-10.5zM215 130h5.5v5.5h-5.5zM100 135h10.5v5.5h-10.5zM110 140h5.5v5.5h-5.5zM115 145h10.5v5.5h-10.5zM115 165h5.5v5.5h-5.5zM120 175h5.5v5.5h-5.5zM105 190h5.5v5.5h-5.5zM115 195h5.5v5.5h-5.5zM110 200h5.5v5.5h-5.5z"/>
<path fill="#e9f0dd" d="M130 0h5.5v5.5h-5.5zM130 5h5.5v5.5h-5.5zM130 10h5.5v5.5h-5.5zM60 15h5.5v5.5h-5.5zM105 25h10.5v5.5h-10.5zM200 30h5.5v5.5h-5.5zM75 35h5.5v5.5h-5.5zM130 35h5.5v5.5h-5.5zM165 35h10.5v5.5h-10.5zM45 40h5.5v5.5h-5.5zM65 40h5.5v5.5h-5.5zM155 40h5.5v5.5h-5.5zM165 40h5.5v5.5h-5.5zM45 45h5.5v5.5h-5.5zM55 45h5.5v5.5h-5.5zM65 45h5.5v5.5h-5.5zM120 45h5.5v5.5h-5.5zM175 45h5.5v5.5h-5.5zM170 50h5.5v5.5h-5.5zM35 55h5.5v5.5h-5.5zM25 60h5.5v5.5h-5.5zM70 60h5.5v5.5h-5.5zM15 65h5.5v5.5h-5.5zM5 70h15.5v5.5h-15.5zM115 70h5.5v5.5h-5.5zM165 70h5.5v5.5h-5.5zM210 70h10.5v5.5h-10.5zM70 75h10.5v5.5h-10.5zM95 75h5.5v5.5h-5.5zM210 75h5.5v5.5h-5.5zM5 80h5.5v5.5h-5.5zM20 80h5.5v5.5h-5.5zM100 80h5.5v5.5h-5.5zM20 85h5.5v5.5h-5.5zM125 85h5.5v5.5h-5.5zM15 90h5.5v5.5h-5.5zM215 90h5.5v5.5h-5.5zM10 95h5.5v5.5h-5.5zM20 95h5.5v5.5h-5.5zM80 105h5.5v5.5h-5.5zM0 110h15.5v5.5h-15.5zM75 110h5.5v5.5h-5.5zM75 120h5.5v5.5h-5.5zM75 130h5.5v5.5h-5.5zM20 135h5.5v5.5h-5.5zM0 140h5.5v5.5h-5.5zM70 140h5.5v5.5h-5.5zM70 145h5.5v5.5h-5.5zM20 150h5.5v5.5h-5.5zM65 150h5.5v5.5h-5.5zM10 155h5.5v5.5h-5.5zM65 155h5.5v5.5h-5.5zM55 170h5.5v5.5h-5.5zM45 180h5.5v5.5h-5.5z"/>
<path fill="#fbfad4" d="M135 0h5.5v5.5h-5.5zM185 15h5.5v5.5h-5.5zM200 20h5.5v5.5h-5.5zM100 25h5.5v5.5h-5.5zM85 30h5.5v5.5h-5.5zM160 30h5.5v5.5h-5.5zM140 35h10.5v5.5h-10.5zM155 35h5.5v5.5h-5.5zM70 40h5.5v5.5h-5.5zM35 45h5.5v5.5h-5.5zM40 50h5.5v5.5h-5.5zM70 50h5.5v5.5h-5.5zM70 55h5.5v5.5h-5.5zM35 60h5.5v5.5h-5.5zM115 60h5.5v5.5h-5.5zM45 65h5.5v5.5h-5.5zM55 65h5.5v5.5h-5.5zM70 65h5.5v5.5h-5.5zM70 70h10.5v5.5h-10.5zM95 70h10.5v5.5h-10.5zM100 75h5.5v5.5h-5.5zM30 80h5.5v5.5h-5.5zM105 80h15.5v5.5h-15.5zM215 80h5.5v5.5h-5.5zM105 85h5.5v5.5h-5.5zM115 85h5.5v5.5h-5.5zM215 85h5.5v5.5h-5.5zM105 90h5.5v5.5h-5.5zM210 90h5.5v5.5h-5.5zM0 95h5.5v5.5h-5.5zM0 100h5.5v5.5h-5.5zM25 100h5.5v5.5h-5.5zM215 100h5.5v5.5h-5.5zM25 110h5.5v5.5h-5.5zM10 125h5.5v5.5h-5.5zM30 140h5.5v5.5h-5.5zM65 140h5.5v5.5h-5.5zM30 150h5.5v5.5h-5.5zM60 155h5.5v5.5h-5.5zM15 160h5.5v5.5h-5.5zM35 160h5.5v5.5h-5.5zM40 165h10.5v5.5h-10.5zM40 170h5.5v5.5h-5.5zM40 185h5.5v5.5h-5.5z"/>
<path fill="#f8f0b2" d="M140 0h5.5v5.5h-5.5zM165 0h10.5v5.5h-10.5zM165 5h10.5v5.5h-10.5zM185 10h5.5v5.5h-5.5zM135 20h5.5v5.5h-5.5zM205 25h5.5v5.5h-5.5zM150 30h10.5v5.5h-10.5zM210 30h5.5v5.5h-5.5zM210 35h5.5v5.5h-5.5zM110 40h5.5v5.5h-5.5zM80 50h5.5v5.5h-5.5zM115 55h5.5v5.5h-5.5zM105 60h10.5v5.5h-10.5zM60 65h5.5v5.5h-5.5zM85 65h10.5v5.5h-10.5zM40 70h5.5v5.5h-5.5zM50 70h5.5v5.5h-5.5zM40 75h5.5v5.5h-5.5zM45 80h5.5v5.5h-5.5zM35 95h5.5v5.5h-5.5zM65 100h5.5v5.5h-5.5zM30 110h5.5v5.5h-5.5zM70 125h5.5v5.5h-5.5zM55 145h5.5v5.5h-5.5zM40 150h5.5v5.5h-5.5zM50 150h5.5v5.5h-5.5zM15 185h10.5v5.5h-10.5z"/>
<path fill="#edde8d" d="M145 0h5.5v5.5h-5.5zM150 5h5.5v5.5h-5.5zM155 10h5.5v5.5h-5.5zM165 15h5.5v5.5h-5.5zM140 20h10.5v5.5h-10.5zM215 20h5.5v5.5h-5.5zM215 30h5.5v5.5h-5.5zM100 35h10.5v5.5h-10.5zM105 45h5.5v5.5h-5.5zM50 75h10.5v5.5h-10.5zM50 80h5.5v5.5h-5.5zM60 80h5.5v5.5h-5.5zM40 85h5.5v5.5h-5.5zM55 85h5.5v5.5h-5.5zM45 90h5.5v5.5h-5.5zM40 95h5.5v5.5h-5.5zM35 110h5.5v5.5h-5.5zM35 115h5.5v5.5h-5.5zM45 120h5.5v5.5h-5.5zM60 120h5.5v5.5h-5.5zM40 125h5.5v5.5h-5.5zM40 130h5.5v5.5h-5.5zM20 190h5.5v5.5h-5.5z"/>
<path fill="#eada83" d="M150 0h5.5v5.5h-5.5zM145 5h5.5v5.5h-5.5zM145 10h5.5v5.5h-5.5zM210 20h5.5v5.5h-5.5zM150 25h10.5v5.5h-10.5zM105 55h5.5v5.5h-5.5zM85 60h5.5v5.5h-5.5zM100 60h5.5v5.5h-5.5zM60 105h5.5v5.5h-5.5zM55 110h5.5v5.5h-5.5zM45 115h5.5v5.5h-5.5zM40 120h5.5v5.5h-5.5zM45 130h10.5v5.5h-10.5zM40 145h15.5v5.5h-15.5zM25 190h5.5v5.5h-5.5z"/>
<path fill="#e0cc68" d="M155 0h5.5v5.5h-5.5zM145 15h10.5v5.5h-10.5zM215 15h5.5v5.5h-5.5zM95 45h5.5v5.5h-5.5zM45 95h5.5v5.5h-5.5zM55 100h5.5v5.5h-5.5zM45 105h5.5v5.5h-5.5zM50 110h5.5v5.5h-5.5zM40 115h5.5v5.5h-5.5zM55 120h5.5v5.5h-5.5zM50 140h5.5v5.5h-5.5z"/>
<path fill="#fdf9c4" d="M160 0h5.5v5.5h-5.5zM160 5h5.5v5.5h-5.5zM175 10h5.5v5.5h-5.5zM190 15h5.5v5.5h-5.5zM85 25h5.5v5.5h-5.5zM135 25h5.5v5.5h-5.5zM90 30h5.5v5.5h-5.5zM65 35h5.5v5.5h-5.5zM70 45h5.5v5.5h-5.5zM75 50h5.5v5.5h-5.5zM215 65h5.5v5.5h-5.5zM30 70h10.5v5.5h-10.5zM110 70h5.5v5.5h-5.5zM35 80h5.5v5.5h-5.5zM60 85h5.5v5.5h-5.5zM35 90h5.5v5.5h-5.5zM65 90h5.5v5.5h-5.5zM30 95h5.5v5.5h-5.5zM30 105h5.5v5.5h-5.5zM35 125h5.5v5.5h-5.5zM25 140h5.5v5.5h-5.5zM25 145h10.5v5.5h-10.5zM60 145h5.5v5.5h-5.5zM30 155h10.5v5.5h-10.5zM20 165h5.5v5.5h-5.5zM35 175h10.5v5.5h-10.5zM20 180h5.5v5.5h-5.5zM40 190h5.5v5.5h-5.5z"/>
<path fill="#f5eca9" d="M175 0h15.5v5.5h-15.5zM185 5h5.5v5.5h-5.5zM140 10h5.5v5.5h-5.5zM140 15h5.5v5.5h-5.5zM180 15h5.5v5.5h-5.5zM165 20h5.5v5.5h-5.5zM210 25h5.5v5.5h-5.5zM85 40h5.5v5.5h-5.5zM75 55h5.5v5.5h-5.5zM80 60h5.5v5.5h-5.5zM100 65h10.5v5.5h-10.5zM55 70h5.5v5.5h-5.5zM40 80h5.5v5.5h-5.5zM60 100h5.5v5.5h-5.5zM35 120h5.5v5.5h-5.5zM65 120h5.5v5.5h-5.5zM65 130h5.5v5.5h-5.5zM35 135h5.5v5.5h-5.5zM65 135h5.5v5.5h-5.5zM25 165h5.5v5.5h-5.5zM35 165h5.5v5.5h-5.5zM25 180h5.5v5.5h-5.5zM25 185h5.5v5.5h-5.5zM35 190h5.5v5.5h-5.5zM35 195h10.5v5.5h-10.5zM35 200h5.5v5.5h-5.5z"/>
<path fill="#e7d57a" d="M190 0h5.5v5.5h-5.5zM190 5h5.5v5.5h-5.5zM155 15h10.5v5.5h-10.5zM90 35h10.5v5.5h-10.5zM100 55h5.5v5.5h-5.5zM90 60h5.5v5.5h-5.5zM50 95h5.5v5.5h-5.5zM55 105h5.5v5.5h-5.5zM40 110h5.5v5.5h-5.5zM60 115h5.5v5.5h-5.5zM55 125h5.5v5.5h-5.5zM55 130h5.5v5.5h-5.5zM45 135h5.5v5.5h-5.5zM45 140h5.5v5.5h-5.5zM55 140h5.5v5.5h-5.5zM15 190h5.5v5.5h-5.5zM25 195h5.5v5.5h-5.5zM25 200h10.5v5.5h-10.5z"/>
<path fill="#d9c457" d="M195 0h5.5v5.5h-5.5zM195 5h5.5v5.5h-5.5zM50 135h5.5v5.5h-5.5z"/>
<path fill="#d2bc46" d="M200 0h5.5v5.5h-5.5zM205 5h5.5v5.5h-5.5zM150 10h5.5v5.5h-5.5zM210 10h5.5v5.5h-5.5z"/>
<path fill="#b8ae26" d="M205 0h5.5v5.5h-5.5z"/>
<path fill="#c8b639" d="M210 0h5.5v5.5h-5.5z"/>
<path fill="#9da418" d="M215 0h5.5v5.5h-5.5z"/>
<path fill="#dae8da" d="M30 5h5.5v5.5h-5.5zM125 5h5.5v5.5h-5.5zM35 10h5.5v5.5h-5.5zM25 15h15.5v5.5h-15.5zM125 15h5.5v5.5h-5.5zM35 20h5.5v5.5h-5.5zM45 20h5.5v5.5h-5.5zM70 20h10.5v5.5h-10.5zM85 20h10.5v5.5h-10.5zM125 20h5.5v5.5h-5.5zM180 20h5.5v5.5h-5.5zM30 25h10.5v5.5h-10.5zM45 25h5.5v5.5h-5.5zM55 25h5.5v5.5h-5.5zM115 25h5.5v5.5h-5.5zM170 25h5.5v5.5h-5.5zM45 35h5.5v5.5h-5.5zM60 35h5.5v5.5h-5.5zM120 35h5.5v5.5h-5.5zM175 35h10.5v5.5h-10.5zM145 40h5.5v5.5h-5.5zM160 40h5.5v5.5h-5.5zM175 40h5.5v5.5h-5.5zM190 40h5.5v5.5h-5.5zM155 45h5.5v5.5h-5.5zM160 50h5.5v5.5h-5.5zM30 55h5.5v5.5h-5.5zM120 55h5.5v5.5h-5.5zM170 55h5.5v5.5h-5.5zM160 60h10.5v5.5h-10.5zM120 65h5.5v5.5h-5.5zM0 70h5.5v5.5h-5.5zM20 70h5.5v5.5h-5.5zM80 75h5.5v5.5h-5.5zM125 75h5.5v5.5h-5.5zM165 75h5.5v5.5h-5.5zM0 80h5.5v5.5h-5.5zM75 80h5.5v5.5h-5.5zM125 80h5.5v5.5h-5.5zM125 90h5.5v5.5h-5.5zM15 100h5.5v5.5h-5.5zM75 100h5.5v5.5h-5.5zM15 105h5.5v5.5h-5.5zM125 110h5.5v5.5h-5.5zM15 115h5.5v5.5h-5.5zM140 115h5.5v5.5h-5.5zM15 120h10.5v5.5h-10.5zM15 125h10.5v5.5h-10.5zM10 135h10.5v5.5h-10.5zM10 140h5.5v5.5h-5.5zM0 145h5.5v5.5h-5.5zM80 145h5.5v5.5h-5.5zM0 150h15.5v5.5h-15.5zM0 160h5.5v5.5h-5.5zM60 160h5.5v5.5h-5.5zM70 165h10.5v5.5h-10.5zM0 170h10.5v5.5h-10.5zM50 175h10.5v5.5h-10.5zM70 180h5.5v5.5h-5.5zM80 180h5.5v5.5h-5.5zM145 180h5.5v5.5h-5.5zM45 185h5.5v5.5h-5.5zM65 185h5.5v5.5h-5.5zM145 185h5.5v5.5h-5.5zM155 190h5.5v5.5h-5.5zM155 195h5.5v5.5h-5.5zM50 200h5.5v5.5h-5.5zM85 200h10.5v5.5h-10.5z"/>
<path fill="#c1dcd2" d="M35 5h10.5v5.5h-10.5zM55 5h5.5v5.5h-5.5zM45 10h5.5v5.5h-5.5zM60 10h5.5v5.5h-5.5zM40 15h5.5v5.5h-5.5zM55 20h5.5v5.5h-5.5zM185 20h5.5v5.5h-5.5zM185 25h5.5v5.5h-5.5zM115 30h10.5v5.5h-10.5zM185 30h5.5v5.5h-5.5zM195 30h5.5v5.5h-5.5zM25 35h10.5v5.5h-10.5zM185 35h10.5v5.5h-10.5zM125 40h5.5v5.5h-5.5zM140 45h5.5v5.5h-5.5zM15 50h5.5v5.5h-5.5zM145 50h5.5v5.5h-5.5zM15 55h5.5v5.5h-5.5zM155 55h5.5v5.5h-5.5zM10 60h5.5v5.5h-5.5zM150 60h5.5v5.5h-5.5zM160 70h5.5v5.5h-5.5zM155 75h5.5v5.5h-5.5zM130 80h5.5v5.5h-5.5zM150 80h5.5v5.5h-5.5zM75 85h5.5v5.5h-5.5zM130 85h10.5v5.5h-10.5zM95 90h5.5v5.5h-5.5zM155 90h5.5v5.5h-5.5zM90 95h5.5v5.5h-5.5zM150 95h5.5v5.5h-5.5zM160 95h5.5v5.5h-5.5zM80 100h5.5v5.5h-5.5zM115 100h20.5v5.5h-20.5zM80 110h5.5v5.5h-5.5zM110 110h5.5v5.5h-5.5zM120 110h5.5v5.5h-5.5zM130 110h5.5v5.5h-5.5zM80 115h5.5v5.5h-5.5zM115 115h5.5v5.5h-5.5zM135 115h5.5v5.5h-5.5zM80 125h5.5v5.5h-5.5zM15 145h5.5v5.5h-5.5zM65 160h5.5v5.5h-5.5zM75 160h10.5v5.5h-10.5zM140 165h5.5v5.5h-5.5zM65 170h5.5v5.5h-5.5zM65 175h5.5v5.5h-5.5zM90 175h5.5v5.5h-5.5zM145 175h5.5v5.5h-5.5zM60 180h5.5v5.5h-5.5zM85 180h5.5v5.5h-5.5zM55 185h5.5v5.5h-5.5zM70 185h10.5v5.5h-10.5zM95 185h5.5v5.5h-5.5zM140 185h5.5v5.5h-5.5zM145 190h5.5v5.5h-5.5zM90 195h10.5v5.5h-10.5zM140 200h15.5v5.5h-15.5z"/>
<path fill="#6bb4bc" d="M100 5h5.5v5.5h-5.5zM0 30h10.5v5.5h-10.5zM5 35h5.5v5.5h-5.5zM15 35h5.5v5.5h-5.5zM105 125h5.5v5.5h-5.5zM115 140h5.5v5.5h-5.5zM115 150h5.5v5.5h-5.5zM110 155h10.5v5.5h-10.5zM120 185h5.5v5.5h-5.5zM115 190h10.5v5.5h-10.5zM115 200h5.5v5.5h-5.5z"/>
<path fill="#faf5bb" d="M135 5h5.5v5.5h-5.5zM180 5h5.5v5.5h-5.5zM170 10h5.5v5.5h-5.5zM180 10h5.5v5.5h-5.5zM170 15h5.5v5.5h-5.5zM95 25h5.5v5.5h-5.5zM165 25h5.5v5.5h-5.5zM80 30h5.5v5.5h-5.5zM105 30h5.5v5.5h-5.5zM145 30h5.5v5.5h-5.5zM80 35h5.5v5.5h-5.5zM35 40h5.5v5.5h-5.5zM75 40h10.5v5.5h-10.5zM40 45h5.5v5.5h-5.5zM110 45h5.5v5.5h-5.5zM50 50h5.5v5.5h-5.5zM110 55h5.5v5.5h-5.5zM40 60h5.5v5.5h-5.5zM110 65h5.5v5.5h-5.5zM210 65h5.5v5.5h-5.5zM45 70h5.5v5.5h-5.5zM60 70h5.5v5.5h-5.5zM65 80h5.5v5.5h-5.5zM35 85h5.5v5.5h-5.5zM65 85h5.5v5.5h-5.5zM210 85h5.5v5.5h-5.5zM65 110h5.5v5.5h-5.5zM30 115h5.5v5.5h-5.5zM65 125h5.5v5.5h-5.5zM70 130h5.5v5.5h-5.5zM65 145h5.5v5.5h-5.5zM45 150h5.5v5.5h-5.5zM55 150h5.5v5.5h-5.5zM40 155h10.5v5.5h-10.5zM40 160h5.5v5.5h-5.5zM15 175h5.5v5.5h-5.5zM25 175h5.5v5.5h-5.5zM15 180h5.5v5.5h-5.5zM35 180h5.5v5.5h-5.5zM30 185h10.5v5.5h-10.5z"/>
<path fill="#f3e8a0" d="M140 5h5.5v5.5h-5.5zM190 10h10.5v5.5h-10.5zM200 15h5.5v5.5h-5.5zM205 20h5.5v5.5h-5.5zM140 25h5.5v5.5h-5.5zM160 25h5.5v5.5h-5.5zM215 25h5.5v5.5h-5.5zM100 30h5.5v5.5h-5.5zM140 30h5.5v5.5h-5.5zM85 35h5.5v5.5h-5.5zM215 35h5.5v5.5h-5.5zM80 45h5.5v5.5h-5.5zM80 55h5.5v5.5h-5.5zM95 65h5.5v5.5h-5.5zM45 75h5.5v5.5h-5.5zM60 75h5.5v5.5h-5.5zM65 115h5.5v5.5h-5.5zM35 130h5.5v5.5h-5.5zM40 135h5.5v5.5h-5.5zM35 140h5.5v5.5h-5.5zM35 145h5.5v5.5h-5.5zM35 150h5.5v5.5h-5.5zM30 165h5.5v5.5h-5.5zM20 170h10.5v5.5h-10.5zM35 170h5.5v5.5h-5.5zM30 175h5.5v5.5h-5.5z"/>
<path fill="#e4d070" d="M155 5h5.5v5.5h-5.5zM205 10h5.5v5.5h-5.5zM205 15h10.5v5.5h-10.5zM90 40h10.5v5.5h-10.5zM90 50h15.5v5.5h-15.5zM50 85h5.5v5.5h-5.5zM55 90h5.5v5.5h-5.5zM40 100h10.5v5.5h-10.5zM40 105h5.5v5.5h-5.5zM50 105h5.5v5.5h-5.5zM50 115h10.5v5.5h-10.5zM60 125h5.5v5.5h-5.5zM60 130h5.5v5.5h-5.5zM55 135h5.5v5.5h-5.5zM20 195h5.5v5.5h-5.5z"/>
<path fill="#f6f7db" d="M175 5h5.5v5.5h-5.5zM195 15h5.5v5.5h-5.5zM100 20h5.5v5.5h-5.5zM90 25h5.5v5.5h-5.5zM200 25h5.5v5.5h-5.5zM110 30h5.5v5.5h-5.5zM170 40h5.5v5.5h-5.5zM60 45h5.5v5.5h-5.5zM115 45h5.5v5.5h-5.5zM170 45h5.5v5.5h-5.5zM35 50h5.5v5.5h-5.5zM65 50h5.5v5.5h-5.5zM120 50h5.5v5.5h-5.5zM25 55h5.5v5.5h-5.5zM50 55h10.5v5.5h-10.5zM50 60h5.5v5.5h-5.5zM25 65h5.5v5.5h-5.5zM25 70h5.5v5.5h-5.5zM90 70h5.5v5.5h-5.5zM0 75h10.5v5.5h-10.5zM10 80h10.5v5.5h-10.5zM210 80h5.5v5.5h-5.5zM5 85h5.5v5.5h-5.5zM30 85h5.5v5.5h-5.5zM100 85h5.5v5.5h-5.5zM120 85h5.5v5.5h-5.5zM205 85h5.5v5.5h-5.5zM0 90h5.5v5.5h-5.5zM25 90h5.5v5.5h-5.5zM70 90h5.5v5.5h-5.5zM110 90h10.5v5.5h-10.5zM25 95h5.5v5.5h-5.5zM70 95h5.5v5.5h-5.5zM0 105h5.5v5.5h-5.5zM25 105h5.5v5.5h-5.5zM70 105h5.5v5.5h-5.5zM30 125h5.5v5.5h-5.5zM75 125h5.5v5.5h-5.5zM20 160h5.5v5.5h-5.5zM50 160h10.5v5.5h-10.5zM10 165h5.5v5.5h-5.5zM10 170h5.5v5.5h-5.5zM45 170h5.5v5.5h-5.5zM45 175h5.5v5.5h-5.5z"/>
<path fill="#d6c04e" d="M200 5h5.5v5.5h-5.5z"/>
<path fill="#aaa91f" d="M210 5h10.5v5.5h-10.5z"/>
<path fill="#d2e4d7" d="M40 10h5.5v5.5h-5.5zM85 10h5.5v5.5h-5.5zM125 10h5.5v5.5h-5.5zM70 15h5.5v5.5h-5.5zM85 15h10.5v5.5h-10.5zM110 15h10.5v5.5h-10.5zM65 20h5.5v5.5h-5.5zM115 20h5.5v5.5h-5.5zM190 20h5.5v5.5h-5.5zM50 25h5.5v5.5h-5.5zM60 25h5.5v5.5h-5.5zM80 25h5.5v5.5h-5.5zM120 25h5.5v5.5h-5.5zM180 25h5.5v5.5h-5.5zM55 30h5.5v5.5h-5.5zM180 30h5.5v5.5h-5.5zM35 35h5.5v5.5h-5.5zM30 40h5.5v5.5h-5.5zM120 40h5.5v5.5h-5.5zM130 40h5.5v5.5h-5.5zM185 40h5.5v5.5h-5.5zM155 50h5.5v5.5h-5.5zM180 50h5.5v5.5h-5.5zM165 55h5.5v5.5h-5.5zM60 60h5.5v5.5h-5.5zM120 60h5.5v5.5h-5.5zM170 65h5.5v5.5h-5.5zM85 75h5.5v5.5h-5.5zM215 75h5.5v5.5h-5.5zM95 80h5.5v5.5h-5.5zM155 85h5.5v5.5h-5.5zM80 90h5.5v5.5h-5.5zM75 95h10.5v5.5h-10.5zM75 105h5.5v5.5h-5.5zM120 105h5.5v5.5h-5.5zM25 125h5.5v5.5h-5.5zM20 130h5.5v5.5h-5.5zM25 135h5.5v5.5h-5.5zM75 135h5.5v5.5h-5.5zM10 145h5.5v5.5h-5.5zM75 145h5.5v5.5h-5.5zM15 150h5.5v5.5h-5.5zM5 155h5.5v5.5h-5.5zM85 160h5.5v5.5h-5.5zM60 165h10.5v5.5h-10.5zM80 165h5.5v5.5h-5.5zM60 170h5.5v5.5h-5.5zM60 175h5.5v5.5h-5.5zM70 175h5.5v5.5h-5.5zM80 175h5.5v5.5h-5.5zM140 175h5.5v5.5h-5.5zM55 180h5.5v5.5h-5.5zM75 180h5.5v5.5h-5.5zM90 180h10.5v5.5h-10.5zM85 185h5.5v5.5h-5.5zM65 190h5.5v5.5h-5.5zM75 190h5.5v5.5h-5.5zM85 190h15.5v5.5h-15.5zM75 195h10.5v5.5h-10.5zM55 200h5.5v5.5h-5.5zM70 200h10.5v5.5h-10.5z"/>
<path fill="#f0e396" d="M160 10h10.5v5.5h-10.5zM160 20h5.5v5.5h-5.5zM145 25h5.5v5.5h-5.5zM95 30h5.5v5.5h-5.5zM105 40h5.5v5.5h-5.5zM85 45h5.5v5.5h-5.5zM85 50h5.5v5.5h-5.5zM105 50h10.5v5.5h-10.5zM85 55h5.5v5.5h-5.5zM55 80h5.5v5.5h-5.5zM40 90h5.5v5.5h-5.5zM50 90h5.5v5.5h-5.5zM60 90h5.5v5.5h-5.5zM60 95h5.5v5.5h-5.5zM35 100h5.5v5.5h-5.5zM35 105h5.5v5.5h-5.5zM60 110h5.5v5.5h-5.5zM60 135h5.5v5.5h-5.5zM40 140h5.5v5.5h-5.5zM60 140h5.5v5.5h-5.5zM30 170h5.5v5.5h-5.5zM30 190h5.5v5.5h-5.5zM30 195h5.5v5.5h-5.5z"/>
<path fill="#ddc85f" d="M200 10h5.5v5.5h-5.5zM150 20h10.5v5.5h-10.5zM100 40h5.5v5.5h-5.5zM90 45h5.5v5.5h-5.5zM100 45h5.5v5.5h-5.5zM90 55h10.5v5.5h-10.5zM95 60h5.5v5.5h-5.5zM45 85h5.5v5.5h-5.5zM55 95h5.5v5.5h-5.5zM50 100h5.5v5.5h-5.5zM45 110h5.5v5.5h-5.5zM50 120h5.5v5.5h-5.5zM45 125h10.5v5.5h-10.5z"/>
<path fill="#cdb940" d="M215 10h5.5v5.5h-5.5z"/>
<path fill="#e2ecdc" d="M120 15h5.5v5.5h-5.5zM40 20h5.5v5.5h-5.5zM40 25h5.5v5.5h-5.5zM75 25h5.5v5.5h-5.5zM125 25h10.5v5.5h-10.5zM175 25h5.5v5.5h-5.5zM60 30h5.5v5.5h-5.5zM125 30h5.5v5.5h-5.5zM170 30h5.5v5.5h-5.5zM40 35h5.5v5.5h-5.5zM50 35h5.5v5.5h-5.5zM135 35h5.5v5.5h-5.5zM195 35h10.5v5.5h-10.5zM55 40h5.5v5.5h-5.5zM140 40h5.5v5.5h-5.5zM160 45h5.5v5.5h-5.5zM180 45h10.5v5.5h-10.5zM165 50h5.5v5.5h-5.5zM20 60h5.5v5.5h-5.5zM55 60h5.5v5.5h-5.5zM10 65h5.5v5.5h-5.5zM85 70h5.5v5.5h-5.5zM120 70h5.5v5.5h-5.5zM170 70h5.5v5.5h-5.5zM10 75h5.5v5.5h-5.5zM90 75h5.5v5.5h-5.5zM120 75h5.5v5.5h-5.5zM165 80h5.5v5.5h-5.5zM25 85h5.5v5.5h-5.5zM10 90h5.5v5.5h-5.5zM100 90h5.5v5.5h-5.5zM120 90h5.5v5.5h-5.5zM160 90h5.5v5.5h-5.5zM115 95h5.5v5.5h-5.5zM10 100h5.5v5.5h-5.5zM20 105h5.5v5.5h-5.5zM15 110h5.5v5.5h-5.5zM10 115h5.5v5.5h-5.5zM20 115h5.5v5.5h-5.5zM10 130h10.5v5.5h-10.5zM25 130h5.5v5.5h-5.5zM5 135h5.5v5.5h-5.5zM20 145h5.5v5.5h-5.5zM70 150h5.5v5.5h-5.5zM15 155h5.5v5.5h-5.5zM5 160h5.5v5.5h-5.5zM0 165h10.5v5.5h-10.5zM55 165h5.5v5.5h-5.5zM50 170h5.5v5.5h-5.5zM150 175h5.5v5.5h-5.5zM50 180h5.5v5.5h-5.5zM60 185h5.5v5.5h-5.5zM90 185h5.5v5.5h-5.5zM150 185h5.5v5.5h-5.5zM50 190h5.5v5.5h-5.5zM150 190h5.5v5.5h-5.5zM85 195h5.5v5.5h-5.5zM155 200h5.5v5.5h-5.5z"/>
<path fill="#f0f3de" d="M105 20h10.5v5.5h-10.5zM130 20h5.5v5.5h-5.5zM170 20h10.5v5.5h-10.5zM195 20h5.5v5.5h-5.5zM195 25h5.5v5.5h-5.5zM65 30h15.5v5.5h-15.5zM130 30h10.5v5.5h-10.5zM165 30h5.5v5.5h-5.5zM70 35h5.5v5.5h-5.5zM160 35h5.5v5.5h-5.5zM50 40h5.5v5.5h-5.5zM60 40h5.5v5.5h-5.5zM115 40h5.5v5.5h-5.5zM135 40h5.5v5.5h-5.5zM150 40h5.5v5.5h-5.5zM25 45h10.5v5.5h-10.5zM50 45h5.5v5.5h-5.5zM165 45h5.5v5.5h-5.5zM30 50h5.5v5.5h-5.5zM55 50h10.5v5.5h-10.5zM115 50h5.5v5.5h-5.5zM175 50h5.5v5.5h-5.5zM40 55h5.5v5.5h-5.5zM60 55h10.5v5.5h-10.5zM30 60h5.5v5.5h-5.5zM45 60h5.5v5.5h-5.5zM20 65h5.5v5.5h-5.5zM30 65h5.5v5.5h-5.5zM65 65h5.5v5.5h-5.5zM115 65h5.5v5.5h-5.5zM105 70h5.5v5.5h-5.5zM15 75h10.5v5.5h-10.5zM105 75h10.5v5.5h-10.5zM25 80h5.5v5.5h-5.5zM70 80h5.5v5.5h-5.5zM120 80h5.5v5.5h-5.5zM0 85h5.5v5.5h-5.5zM10 85h10.5v5.5h-10.5zM70 85h5.5v5.5h-5.5zM15 95h5.5v5.5h-5.5zM120 95h5.5v5.5h-5.5zM215 95h5.5v5.5h-5.5zM20 100h5.5v5.5h-5.5zM70 100h5.5v5.5h-5.5zM210 100h5.5v5.5h-5.5zM5 105h10.5v5.5h-10.5zM25 115h5.5v5.5h-5.5zM75 115h5.5v5.5h-5.5zM10 120h5.5v5.5h-5.5zM25 120h5.5v5.5h-5.5zM30 130h5.5v5.5h-5.5zM20 140h5.5v5.5h-5.5zM75 140h5.5v5.5h-5.5zM25 150h5.5v5.5h-5.5zM20 155h10.5v5.5h-10.5zM55 155h5.5v5.5h-5.5zM50 165h5.5v5.5h-5.5zM0 175h5.5v5.5h-5.5zM150 180h5.5v5.5h-5.5zM45 195h5.5v5.5h-5.5zM45 200h5.5v5.5h-5.5z"/>
<path fill="#62afb9" d="M125 180h5.5v5.5h-5.5z"/>
<path fill="#58aab6" d="M125 195h5.5v5.5h-5.5z"/>
<path fill="#4fa5b4" d="M120 200h5.5v5.5h-5.5z"/>
</g>
<path d="M215.3 -1L216.3 50L216.9 100L216.9 131L220 131L220 -1Z" fill="#98b7e2"/>
<path d="M-30.7 0L-25.3 209M0.6 0L6.0 209M31.9 0L37.3 209M63.2 0L68.6 209M94.5 0L99.9 209M125.8 0L131.2 209M157.1 0L162.5 209M188.4 0L193.8 209M219.7 0L225.1 209M0 -8.3L219 -14.0M0 18.6L219 12.9M0 45.5L219 39.8M0 72.4L219 66.7M0 99.3L219 93.6M0 126.2L219 120.5M0 153.1L219 147.4M0 180.0L219 174.3M0 206.9L219 201.2M0 233.8L219 228.1" stroke="#b0b0b0" stroke-width="1.2" fill="none"/>
<path d="M169.7 208.6 L169.7 203.8 L169.2 195.2 L167.5 188.4 L164.9 181.5 L162.4 174.6 L158.9 170.4 L154.6 167.4 L150.4 166.1 L149.8 162.6 L150.9 157.5 L149.2 152.4 L147.8 147.2 L148.6 143.8 L152.1 140.4 L156.4 134.4 L158.9 128.4 L160.1 120.6 L164.1 114.6 L168.4 106.1 L164.1 115.8 L167.5 107.2 L170.9 96.9 L174.4 86.6 L177.8 76.4 L181.2 67.8 L184.6 60.1 L188.9 52.4 L194.1 46.4 L199.2 42.9 L204.4 41.7 L208.6 40.4 L210.9 40.9 L211.6 42.9 L210.4 46.4 L208.1 52.4 L206.4 60.9 L204.7 69.5 L203.0 78.1 L201.3 86.6 L200.1 92.6 L201.8 97.8 L204.4 102.1 L206.0 103.5 L205.7 107.0 L204.0 110.5 L205.0 112.7 L207.5 112.0 L209.0 108.5 L211.0 108.0 L211.7 110.5 L210.5 114.5 L207.5 117.5 L205.3 121.0 L205.3 125.5 L204.5 131.5 L206.0 135.5 L209.5 137.8 L214.0 136.5 L217.0 132.0 L219.5 127.0" stroke="#7a7a7a" stroke-width="1.5" fill="none" stroke-linejoin="round"/>
</g>
<rect x="0" y="0" width="219" height="209" fill="none" stroke="#000" stroke-width="1"/>
</g>
<g transform="translate(806.5 102.5)">
<clipPath id="cp2"><rect x="0" y="0" width="219" height="209"/></clipPath>
<g clip-path="url(#cp2)">
<rect x="0" y="0" width="219" height="209" fill="#98b7e2"/>
<path d="M169.7 208.6 L169.7 203.8 L169.2 195.2 L167.5 188.4 L164.9 181.5 L162.4 174.6 L158.9 170.4 L154.6 167.4 L150.4 166.1 L149.8 162.6 L150.9 157.5 L149.2 152.4 L147.8 147.2 L148.6 143.8 L152.1 140.4 L156.4 134.4 L158.9 128.4 L160.1 120.6 L164.1 114.6 L168.4 106.1 L164.1 115.8 L167.5 107.2 L170.9 96.9 L174.4 86.6 L177.8 76.4 L181.2 67.8 L184.6 60.1 L188.9 52.4 L194.1 46.4 L199.2 42.9 L204.4 41.7 L208.6 40.4 L210.9 40.9 L211.6 42.9 L210.4 46.4 L208.1 52.4 L206.4 60.9 L204.7 69.5 L203.0 78.1 L201.3 86.6 L200.1 92.6 L201.8 97.8 L204.4 102.1 L206.0 103.5 L205.7 107.0 L204.0 110.5 L205.0 112.7 L207.5 112.0 L209.0 108.5 L211.0 108.0 L211.7 110.5 L210.5 114.5 L207.5 117.5 L205.3 121.0 L205.3 125.5 L204.5 131.5 L206.0 135.5 L209.5 137.8 L214.0 136.5 L217.0 132.0 L219.5 127.0 L221.0 127.0 L221.0 211.0 L169.7 211.0Z" fill="#efefdb"/>
<g transform="matrix(0.9880 -0.02470 0.01780 0.9890 1.50 4.60)" shape-rendering="crispEdges">
<path fill="#fcdecc" d="M0 0h5.5v5.5h-5.5zM30 20h5.5v5.5h-5.5zM30 25h5.5v5.5h-5.5zM30 40h5.5v5.5h-5.5zM0 50h5.5v5.5h-5.5zM10 55h5.5v5.5h-5.5zM20 55h5.5v5.5h-5.5zM15 60h10.5v5.5h-10.5zM20 185h5.5v5.5h-5.5zM15 190h5.5v5.5h-5.5z"/>
<path fill="#f7f6f6" d="M5 0h25.5v5.5h-25.5zM5 5h25.5v5.5h-25.5zM5 10h25.5v5.5h-25.5zM0 15h25.5v5.5h-25.5zM60 15h5.5v5.5h-5.5zM85 15h5.5v5.5h-5.5zM5 20h25.5v5.5h-25.5zM80 20h15.5v5.5h-15.5zM100 20h5.5v5.5h-5.5zM10 25h20.5v5.5h-20.5zM60 25h10.5v5.5h-10.5zM75 25h5.5v5.5h-5.5zM105 25h5.5v5.5h-5.5zM120 25h5.5v5.5h-5.5zM20 30h5.5v5.5h-5.5zM70 30h10.5v5.5h-10.5zM95 30h5.5v5.5h-5.5zM105 30h5.5v5.5h-5.5zM120 30h5.5v5.5h-5.5zM140 30h5.5v5.5h-5.5zM45 35h5.5v5.5h-5.5zM55 35h5.5v5.5h-5.5zM65 35h5.5v5.5h-5.5zM80 35h10.5v5.5h-10.5zM100 35h5.5v5.5h-5.5zM120 35h5.5v5.5h-5.5zM205 35h5.5v5.5h-5.5zM60 40h10.5v5.5h-10.5zM75 40h5.5v5.5h-5.5zM85 40h5.5v5.5h-5.5zM95 40h10.5v5.5h-10.5zM120 40h5.5v5.5h-5.5zM140 40h5.5v5.5h-5.5zM195 40h25.5v5.5h-25.5zM45 45h10.5v5.5h-10.5zM70 45h10.5v5.5h-10.5zM90 45h10.5v5.5h-10.5zM190 45h30.5v5.5h-30.5zM45 50h5.5v5.5h-5.5zM60 50h15.5v5.5h-15.5zM80 50h5.5v5.5h-5.5zM125 50h5.5v5.5h-5.5zM185 50h35.5v5.5h-35.5zM45 55h5.5v5.5h-5.5zM55 55h5.5v5.5h-5.5zM70 55h5.5v5.5h-5.5zM130 55h10.5v5.5h-10.5zM180 55h40.5v5.5h-40.5zM55 60h35.5v5.5h-35.5zM125 60h10.5v5.5h-10.5zM175 60h45.5v5.5h-45.5zM65 65h15.5v5.5h-15.5zM105 65h5.5v5.5h-5.5zM115 65h5.5v5.5h-5.5zM125 65h10.5v5.5h-10.5zM140 65h5.5v5.5h-5.5zM175 65h35.5v5.5h-35.5zM80 70h5.5v5.5h-5.5zM175 70h35.5v5.5h-35.5zM170 75h40.5v5.5h-40.5zM75 80h5.5v5.5h-5.5zM125 80h5.5v5.5h-5.5zM170 80h40.5v5.5h-40.5zM125 85h5.5v5.5h-5.5zM165 85h40.5v5.5h-40.5zM5 90h5.5v5.5h-5.5zM85 90h5.5v5.5h-5.5zM110 90h10.5v5.5h-10.5zM165 90h40.5v5.5h-40.5zM5 95h5.5v5.5h-5.5zM15 95h10.5v5.5h-10.5zM95 95h5.5v5.5h-5.5zM165 95h45.5v5.5h-45.5zM5 100h5.5v5.5h-5.5zM90 100h10.5v5.5h-10.5zM160 100h50.5v5.5h-50.5zM30 105h5.5v5.5h-5.5zM160 105h60.5v5.5h-60.5zM80 110h5.5v5.5h-5.5zM100 110h5.5v5.5h-5.5zM160 110h60.5v5.5h-60.5zM0 115h10.5v5.5h-10.5zM30 115h5.5v5.5h-5.5zM160 115h60.5v5.5h-60.5zM0 120h10.5v5.5h-10.5zM25 120h5.5v5.5h-5.5zM70 120h5.5v5.5h-5.5zM80 120h5.5v5.5h-5.5zM155 120h65.5v5.5h-65.5zM0 125h10.5v5.5h-10.5zM25 125h10.5v5.5h-10.5zM70 125h15.5v5.5h-15.5zM105 125h5.5v5.5h-5.5zM150 125h60.5v5.5h-60.5zM0 130h10.5v5.5h-10.5zM40 130h5.5v5.5h-5.5zM50 130h15.5v5.5h-15.5zM75 130h5.5v5.5h-5.5zM110 130h5.5v5.5h-5.5zM150 130h60.5v5.5h-60.5zM0 135h5.5v5.5h-5.5zM35 135h15.5v5.5h-15.5zM60 135h10.5v5.5h-10.5zM145 135h75.5v5.5h-75.5zM35 140h5.5v5.5h-5.5zM50 140h10.5v5.5h-10.5zM95 140h15.5v5.5h-15.5zM140 140h80.5v5.5h-80.5zM80 145h5.5v5.5h-5.5zM90 145h5.5v5.5h-5.5zM100 145h5.5v5.5h-5.5zM140 145h80.5v5.5h-80.5zM45 150h5.5v5.5h-5.5zM85 150h5.5v5.5h-5.5zM140 150h80.5v5.5h-80.5zM45 155h5.5v5.5h-5.5zM140 155h80.5v5.5h-80.5zM20 160h5.5v5.5h-5.5zM50 160h5.5v5.5h-5.5zM95 160h5.5v5.5h-5.5zM140 160h80.5v5.5h-80.5zM50 165h10.5v5.5h-10.5zM145 165h75.5v5.5h-75.5zM50 170h5.5v5.5h-5.5zM60 170h5.5v5.5h-5.5zM145 170h75.5v5.5h-75.5zM5 175h10.5v5.5h-10.5zM55 175h5.5v5.5h-5.5zM155 175h65.5v5.5h-65.5zM0 180h15.5v5.5h-15.5zM155 180h65.5v5.5h-65.5zM0 185h15.5v5.5h-15.5zM60 185h5.5v5.5h-5.5zM155 185h65.5v5.5h-65.5zM0 190h15.5v5.5h-15.5zM60 190h5.5v5.5h-5.5zM160 190h60.5v5.5h-60.5zM0 195h20.5v5.5h-20.5zM160 195h60.5v5.5h-60.5zM0 200h25.5v5.5h-25.5zM65 200h5.5v5.5h-5.5zM160 200h60.5v5.5h-60.5z"/>
<path fill="#fbe6da" d="M30 0h20.5v5.5h-20.5zM50 5h5.5v5.5h-5.5zM0 10h5.5v5.5h-5.5zM35 15h5.5v5.5h-5.5zM35 30h5.5v5.5h-5.5zM30 50h5.5v5.5h-5.5zM5 55h5.5v5.5h-5.5zM0 60h10.5v5.5h-10.5zM0 65h30.5v5.5h-30.5zM10 70h5.5v5.5h-5.5zM20 70h5.5v5.5h-5.5zM15 75h10.5v5.5h-10.5zM10 80h15.5v5.5h-15.5zM15 85h5.5v5.5h-5.5zM55 100h5.5v5.5h-5.5zM55 105h5.5v5.5h-5.5zM50 110h5.5v5.5h-5.5zM20 180h15.5v5.5h-15.5zM35 185h5.5v5.5h-5.5zM35 195h5.5v5.5h-5.5zM35 200h5.5v5.5h-5.5z"/>
<path fill="#f9ece4" d="M50 0h10.5v5.5h-10.5zM50 10h10.5v5.5h-10.5zM50 15h5.5v5.5h-5.5zM40 20h5.5v5.5h-5.5zM130 30h5.5v5.5h-5.5zM35 35h5.5v5.5h-5.5zM125 35h10.5v5.5h-10.5zM35 50h5.5v5.5h-5.5zM30 70h5.5v5.5h-5.5zM95 70h20.5v5.5h-20.5zM0 75h5.5v5.5h-5.5zM30 75h5.5v5.5h-5.5zM65 75h5.5v5.5h-5.5zM105 75h5.5v5.5h-5.5zM30 80h5.5v5.5h-5.5zM110 80h5.5v5.5h-5.5zM0 85h5.5v5.5h-5.5zM20 85h5.5v5.5h-5.5zM50 95h10.5v5.5h-10.5zM65 95h5.5v5.5h-5.5zM40 100h10.5v5.5h-10.5zM60 100h5.5v5.5h-5.5zM40 105h10.5v5.5h-10.5zM65 105h5.5v5.5h-5.5zM60 110h5.5v5.5h-5.5zM55 115h5.5v5.5h-5.5zM45 120h10.5v5.5h-10.5zM25 170h10.5v5.5h-10.5zM40 170h5.5v5.5h-5.5zM20 175h10.5v5.5h-10.5zM15 180h5.5v5.5h-5.5zM40 185h5.5v5.5h-5.5zM45 190h10.5v5.5h-10.5z"/>
<path fill="#f8f3f1" d="M60 0h5.5v5.5h-5.5zM60 5h5.5v5.5h-5.5zM60 10h5.5v5.5h-5.5zM60 20h5.5v5.5h-5.5zM70 25h5.5v5.5h-5.5zM80 25h15.5v5.5h-15.5zM130 25h5.5v5.5h-5.5zM60 30h5.5v5.5h-5.5zM80 30h5.5v5.5h-5.5zM100 30h5.5v5.5h-5.5zM50 35h5.5v5.5h-5.5zM70 35h10.5v5.5h-10.5zM90 35h10.5v5.5h-10.5zM140 35h5.5v5.5h-5.5zM40 40h10.5v5.5h-10.5zM70 40h5.5v5.5h-5.5zM90 40h5.5v5.5h-5.5zM40 45h5.5v5.5h-5.5zM80 45h10.5v5.5h-10.5zM120 45h5.5v5.5h-5.5zM40 50h5.5v5.5h-5.5zM75 50h5.5v5.5h-5.5zM80 55h5.5v5.5h-5.5zM90 60h5.5v5.5h-5.5zM55 65h10.5v5.5h-10.5zM80 65h5.5v5.5h-5.5zM90 65h5.5v5.5h-5.5zM110 65h5.5v5.5h-5.5zM120 65h5.5v5.5h-5.5zM60 70h5.5v5.5h-5.5zM70 70h10.5v5.5h-10.5zM85 70h5.5v5.5h-5.5zM125 70h5.5v5.5h-5.5zM40 75h5.5v5.5h-5.5zM80 75h5.5v5.5h-5.5zM125 75h5.5v5.5h-5.5zM80 80h5.5v5.5h-5.5zM60 85h15.5v5.5h-15.5zM90 85h5.5v5.5h-5.5zM120 85h5.5v5.5h-5.5zM75 90h10.5v5.5h-10.5zM95 90h10.5v5.5h-10.5zM25 95h10.5v5.5h-10.5zM70 95h15.5v5.5h-15.5zM90 95h5.5v5.5h-5.5zM30 100h5.5v5.5h-5.5zM85 100h5.5v5.5h-5.5zM70 105h5.5v5.5h-5.5zM90 105h5.5v5.5h-5.5zM30 110h5.5v5.5h-5.5zM70 110h5.5v5.5h-5.5zM90 110h5.5v5.5h-5.5zM70 115h15.5v5.5h-15.5zM95 115h15.5v5.5h-15.5zM35 120h5.5v5.5h-5.5zM75 120h5.5v5.5h-5.5zM85 120h5.5v5.5h-5.5zM100 120h10.5v5.5h-10.5zM35 125h10.5v5.5h-10.5zM65 125h5.5v5.5h-5.5zM25 130h15.5v5.5h-15.5zM70 130h5.5v5.5h-5.5zM80 130h10.5v5.5h-10.5zM25 135h10.5v5.5h-10.5zM70 135h25.5v5.5h-25.5zM100 135h10.5v5.5h-10.5zM20 140h10.5v5.5h-10.5zM70 140h10.5v5.5h-10.5zM85 140h10.5v5.5h-10.5zM20 145h5.5v5.5h-5.5zM35 145h5.5v5.5h-5.5zM70 145h5.5v5.5h-5.5zM85 145h5.5v5.5h-5.5zM20 150h5.5v5.5h-5.5zM35 150h10.5v5.5h-10.5zM20 155h5.5v5.5h-5.5zM40 160h10.5v5.5h-10.5zM25 165h5.5v5.5h-5.5zM45 165h5.5v5.5h-5.5zM95 165h5.5v5.5h-5.5zM20 170h5.5v5.5h-5.5zM55 170h5.5v5.5h-5.5zM15 175h5.5v5.5h-5.5zM60 195h5.5v5.5h-5.5z"/>
<path fill="#f3f4f6" d="M65 0h5.5v5.5h-5.5zM90 0h5.5v5.5h-5.5zM110 0h5.5v5.5h-5.5zM95 5h5.5v5.5h-5.5zM80 10h5.5v5.5h-5.5zM100 10h5.5v5.5h-5.5zM65 15h5.5v5.5h-5.5zM80 15h5.5v5.5h-5.5zM90 15h10.5v5.5h-10.5zM115 15h5.5v5.5h-5.5zM65 20h5.5v5.5h-5.5zM95 20h5.5v5.5h-5.5zM105 20h5.5v5.5h-5.5zM125 20h5.5v5.5h-5.5zM95 25h10.5v5.5h-10.5zM110 25h10.5v5.5h-10.5zM140 25h5.5v5.5h-5.5zM65 30h5.5v5.5h-5.5zM105 35h10.5v5.5h-10.5zM50 40h10.5v5.5h-10.5zM55 45h15.5v5.5h-15.5zM140 45h5.5v5.5h-5.5zM50 50h5.5v5.5h-5.5zM85 50h10.5v5.5h-10.5zM140 50h5.5v5.5h-5.5zM50 55h5.5v5.5h-5.5zM60 55h10.5v5.5h-10.5zM75 55h5.5v5.5h-5.5zM85 55h10.5v5.5h-10.5zM125 55h5.5v5.5h-5.5zM95 60h5.5v5.5h-5.5zM135 60h5.5v5.5h-5.5zM135 65h5.5v5.5h-5.5zM130 75h5.5v5.5h-5.5zM130 80h5.5v5.5h-5.5zM120 90h5.5v5.5h-5.5zM100 95h10.5v5.5h-10.5zM115 95h5.5v5.5h-5.5zM100 100h5.5v5.5h-5.5zM95 105h5.5v5.5h-5.5zM105 105h5.5v5.5h-5.5zM95 110h5.5v5.5h-5.5zM110 110h5.5v5.5h-5.5zM25 115h5.5v5.5h-5.5zM110 115h5.5v5.5h-5.5zM30 120h5.5v5.5h-5.5zM110 120h10.5v5.5h-10.5zM110 125h5.5v5.5h-5.5zM20 130h5.5v5.5h-5.5zM65 130h5.5v5.5h-5.5zM20 135h5.5v5.5h-5.5zM50 135h10.5v5.5h-10.5zM110 135h5.5v5.5h-5.5zM40 140h10.5v5.5h-10.5zM65 140h5.5v5.5h-5.5zM40 145h5.5v5.5h-5.5zM50 145h5.5v5.5h-5.5zM60 145h10.5v5.5h-10.5zM75 145h5.5v5.5h-5.5zM95 145h5.5v5.5h-5.5zM50 150h5.5v5.5h-5.5zM60 150h5.5v5.5h-5.5zM90 150h25.5v5.5h-25.5zM15 155h5.5v5.5h-5.5zM40 155h5.5v5.5h-5.5zM50 155h5.5v5.5h-5.5zM100 155h5.5v5.5h-5.5zM15 160h5.5v5.5h-5.5zM55 160h5.5v5.5h-5.5zM90 160h5.5v5.5h-5.5zM105 160h5.5v5.5h-5.5zM60 165h5.5v5.5h-5.5zM105 165h10.5v5.5h-10.5zM15 170h5.5v5.5h-5.5zM85 175h5.5v5.5h-5.5zM60 180h10.5v5.5h-10.5zM75 185h5.5v5.5h-5.5zM70 190h5.5v5.5h-5.5zM65 195h15.5v5.5h-15.5zM70 200h5.5v5.5h-5.5z"/>
<path fill="#ecf1f5" d="M70 0h5.5v5.5h-5.5zM80 0h5.5v5.5h-5.5zM65 5h10.5v5.5h-10.5zM115 5h10.5v5.5h-10.5zM70 10h5.5v5.5h-5.5zM120 10h10.5v5.5h-10.5zM125 15h15.5v5.5h-15.5zM140 20h10.5v5.5h-10.5zM145 25h10.5v5.5h-10.5zM170 30h5.5v5.5h-5.5zM150 35h5.5v5.5h-5.5zM100 50h5.5v5.5h-5.5zM110 50h5.5v5.5h-5.5zM145 50h5.5v5.5h-5.5zM115 55h5.5v5.5h-5.5zM145 55h5.5v5.5h-5.5zM105 60h20.5v5.5h-20.5zM145 75h10.5v5.5h-10.5zM135 80h20.5v5.5h-20.5zM135 85h10.5v5.5h-10.5zM130 90h5.5v5.5h-5.5zM140 90h5.5v5.5h-5.5zM135 95h5.5v5.5h-5.5zM20 100h5.5v5.5h-5.5zM125 100h5.5v5.5h-5.5zM115 105h10.5v5.5h-10.5zM20 110h5.5v5.5h-5.5zM15 115h10.5v5.5h-10.5zM115 115h5.5v5.5h-5.5zM125 115h5.5v5.5h-5.5zM20 120h5.5v5.5h-5.5zM120 125h5.5v5.5h-5.5zM115 130h10.5v5.5h-10.5zM120 135h5.5v5.5h-5.5zM120 140h5.5v5.5h-5.5zM15 145h5.5v5.5h-5.5zM105 145h15.5v5.5h-15.5zM115 150h10.5v5.5h-10.5zM10 155h5.5v5.5h-5.5zM70 155h5.5v5.5h-5.5zM80 155h5.5v5.5h-5.5zM10 160h5.5v5.5h-5.5zM10 165h5.5v5.5h-5.5zM75 165h5.5v5.5h-5.5zM115 165h5.5v5.5h-5.5zM10 170h5.5v5.5h-5.5zM70 170h5.5v5.5h-5.5zM80 170h10.5v5.5h-10.5zM105 170h5.5v5.5h-5.5zM65 175h5.5v5.5h-5.5zM90 175h10.5v5.5h-10.5zM105 175h5.5v5.5h-5.5zM70 180h5.5v5.5h-5.5zM100 180h5.5v5.5h-5.5zM80 185h5.5v5.5h-5.5zM90 185h5.5v5.5h-5.5zM75 190h5.5v5.5h-5.5zM85 190h5.5v5.5h-5.5zM85 195h10.5v5.5h-10.5zM75 200h5.5v5.5h-5.5zM90 200h10.5v5.5h-10.5zM105 200h5.5v5.5h-5.5z"/>
<path fill="#e8f0f4" d="M75 0h5.5v5.5h-5.5zM85 0h5.5v5.5h-5.5zM120 0h20.5v5.5h-20.5zM75 5h5.5v5.5h-5.5zM135 5h5.5v5.5h-5.5zM145 5h5.5v5.5h-5.5zM130 10h15.5v5.5h-15.5zM150 20h5.5v5.5h-5.5zM175 20h5.5v5.5h-5.5zM165 25h5.5v5.5h-5.5zM175 25h5.5v5.5h-5.5zM150 30h5.5v5.5h-5.5zM160 30h5.5v5.5h-5.5zM175 30h5.5v5.5h-5.5zM160 35h5.5v5.5h-5.5zM170 35h5.5v5.5h-5.5zM145 45h5.5v5.5h-5.5zM110 55h5.5v5.5h-5.5zM145 60h5.5v5.5h-5.5zM150 65h5.5v5.5h-5.5zM150 70h5.5v5.5h-5.5zM155 75h5.5v5.5h-5.5zM155 80h5.5v5.5h-5.5zM145 85h5.5v5.5h-5.5zM135 90h5.5v5.5h-5.5zM145 90h5.5v5.5h-5.5zM130 95h5.5v5.5h-5.5zM15 100h5.5v5.5h-5.5zM120 110h5.5v5.5h-5.5zM15 120h5.5v5.5h-5.5zM120 120h5.5v5.5h-5.5zM15 125h5.5v5.5h-5.5zM15 130h5.5v5.5h-5.5zM15 135h5.5v5.5h-5.5zM125 140h5.5v5.5h-5.5zM120 145h10.5v5.5h-10.5zM10 150h5.5v5.5h-5.5zM115 155h10.5v5.5h-10.5zM5 160h5.5v5.5h-5.5zM70 160h15.5v5.5h-15.5zM115 160h5.5v5.5h-5.5zM120 165h5.5v5.5h-5.5zM0 170h10.5v5.5h-10.5zM75 175h5.5v5.5h-5.5zM110 175h10.5v5.5h-10.5zM80 180h5.5v5.5h-5.5zM95 180h5.5v5.5h-5.5zM110 180h5.5v5.5h-5.5zM95 185h5.5v5.5h-5.5zM90 190h5.5v5.5h-5.5zM100 190h5.5v5.5h-5.5zM115 190h5.5v5.5h-5.5zM95 195h5.5v5.5h-5.5zM100 200h5.5v5.5h-5.5z"/>
<path fill="#eff3f5" d="M95 0h15.5v5.5h-15.5zM115 0h5.5v5.5h-5.5zM80 5h15.5v5.5h-15.5zM100 5h15.5v5.5h-15.5zM125 5h5.5v5.5h-5.5zM65 10h5.5v5.5h-5.5zM75 10h5.5v5.5h-5.5zM85 10h15.5v5.5h-15.5zM105 10h15.5v5.5h-15.5zM70 15h10.5v5.5h-10.5zM100 15h15.5v5.5h-15.5zM120 15h5.5v5.5h-5.5zM70 20h10.5v5.5h-10.5zM110 20h15.5v5.5h-15.5zM130 20h10.5v5.5h-10.5zM110 30h10.5v5.5h-10.5zM145 30h5.5v5.5h-5.5zM115 35h5.5v5.5h-5.5zM145 35h5.5v5.5h-5.5zM105 40h15.5v5.5h-15.5zM145 40h5.5v5.5h-5.5zM100 45h20.5v5.5h-20.5zM55 50h5.5v5.5h-5.5zM95 50h5.5v5.5h-5.5zM105 50h5.5v5.5h-5.5zM115 50h10.5v5.5h-10.5zM95 55h15.5v5.5h-15.5zM120 55h5.5v5.5h-5.5zM140 55h5.5v5.5h-5.5zM100 60h5.5v5.5h-5.5zM140 60h5.5v5.5h-5.5zM145 65h5.5v5.5h-5.5zM130 70h20.5v5.5h-20.5zM135 75h10.5v5.5h-10.5zM130 85h5.5v5.5h-5.5zM125 90h5.5v5.5h-5.5zM0 95h5.5v5.5h-5.5zM10 95h5.5v5.5h-5.5zM110 95h5.5v5.5h-5.5zM120 95h10.5v5.5h-10.5zM25 100h5.5v5.5h-5.5zM105 100h20.5v5.5h-20.5zM25 105h5.5v5.5h-5.5zM100 105h5.5v5.5h-5.5zM110 105h5.5v5.5h-5.5zM25 110h5.5v5.5h-5.5zM105 110h5.5v5.5h-5.5zM115 110h5.5v5.5h-5.5zM120 115h5.5v5.5h-5.5zM20 125h5.5v5.5h-5.5zM115 125h5.5v5.5h-5.5zM115 135h5.5v5.5h-5.5zM15 140h5.5v5.5h-5.5zM60 140h5.5v5.5h-5.5zM110 140h10.5v5.5h-10.5zM45 145h5.5v5.5h-5.5zM55 145h5.5v5.5h-5.5zM15 150h5.5v5.5h-5.5zM55 150h5.5v5.5h-5.5zM65 150h20.5v5.5h-20.5zM55 155h15.5v5.5h-15.5zM75 155h5.5v5.5h-5.5zM85 155h15.5v5.5h-15.5zM105 155h10.5v5.5h-10.5zM60 160h10.5v5.5h-10.5zM85 160h5.5v5.5h-5.5zM100 160h5.5v5.5h-5.5zM110 160h5.5v5.5h-5.5zM15 165h5.5v5.5h-5.5zM65 165h10.5v5.5h-10.5zM80 165h15.5v5.5h-15.5zM100 165h5.5v5.5h-5.5zM65 170h5.5v5.5h-5.5zM75 170h5.5v5.5h-5.5zM90 170h15.5v5.5h-15.5zM110 170h5.5v5.5h-5.5zM0 175h5.5v5.5h-5.5zM60 175h5.5v5.5h-5.5zM70 175h5.5v5.5h-5.5zM80 175h5.5v5.5h-5.5zM100 175h5.5v5.5h-5.5zM75 180h5.5v5.5h-5.5zM85 180h10.5v5.5h-10.5zM65 185h10.5v5.5h-10.5zM85 185h5.5v5.5h-5.5zM65 190h5.5v5.5h-5.5zM80 190h5.5v5.5h-5.5zM95 190h5.5v5.5h-5.5zM80 195h5.5v5.5h-5.5zM80 200h10.5v5.5h-10.5z"/>
<path fill="#e4eef4" d="M140 0h10.5v5.5h-10.5zM130 5h5.5v5.5h-5.5zM140 5h5.5v5.5h-5.5zM145 10h5.5v5.5h-5.5zM140 15h10.5v5.5h-10.5zM155 20h10.5v5.5h-10.5zM185 20h5.5v5.5h-5.5zM160 25h5.5v5.5h-5.5zM170 25h5.5v5.5h-5.5zM180 25h5.5v5.5h-5.5zM190 25h5.5v5.5h-5.5zM215 25h5.5v5.5h-5.5zM155 30h5.5v5.5h-5.5zM165 30h5.5v5.5h-5.5zM180 30h5.5v5.5h-5.5zM195 30h5.5v5.5h-5.5zM210 30h10.5v5.5h-10.5zM155 35h5.5v5.5h-5.5zM175 35h10.5v5.5h-10.5zM200 35h5.5v5.5h-5.5zM215 35h5.5v5.5h-5.5zM150 40h10.5v5.5h-10.5zM150 45h5.5v5.5h-5.5zM155 70h5.5v5.5h-5.5zM160 80h10.5v5.5h-10.5zM150 85h10.5v5.5h-10.5zM160 90h5.5v5.5h-5.5zM155 95h10.5v5.5h-10.5zM0 100h5.5v5.5h-5.5zM10 100h5.5v5.5h-5.5zM130 100h5.5v5.5h-5.5zM15 105h10.5v5.5h-10.5zM125 105h15.5v5.5h-15.5zM10 110h10.5v5.5h-10.5zM125 110h10.5v5.5h-10.5zM150 110h5.5v5.5h-5.5zM10 115h5.5v5.5h-5.5zM145 115h5.5v5.5h-5.5zM155 115h5.5v5.5h-5.5zM125 120h5.5v5.5h-5.5zM145 120h5.5v5.5h-5.5zM125 125h5.5v5.5h-5.5zM125 130h10.5v5.5h-10.5zM10 135h5.5v5.5h-5.5zM135 145h5.5v5.5h-5.5zM125 150h10.5v5.5h-10.5zM5 155h5.5v5.5h-5.5zM0 160h5.5v5.5h-5.5zM125 160h5.5v5.5h-5.5zM0 165h10.5v5.5h-10.5zM125 165h10.5v5.5h-10.5zM115 170h10.5v5.5h-10.5zM120 175h5.5v5.5h-5.5zM150 175h5.5v5.5h-5.5zM105 180h5.5v5.5h-5.5zM115 180h10.5v5.5h-10.5zM100 185h20.5v5.5h-20.5zM105 190h10.5v5.5h-10.5zM100 195h25.5v5.5h-25.5zM110 200h10.5v5.5h-10.5z"/>
<path fill="#dceaf2" d="M150 0h5.5v5.5h-5.5zM190 0h5.5v5.5h-5.5zM205 0h5.5v5.5h-5.5zM150 5h5.5v5.5h-5.5zM200 5h10.5v5.5h-10.5zM150 10h5.5v5.5h-5.5zM195 10h5.5v5.5h-5.5zM215 10h5.5v5.5h-5.5zM185 15h10.5v5.5h-10.5zM190 20h30.5v5.5h-30.5zM200 25h5.5v5.5h-5.5zM185 35h5.5v5.5h-5.5zM195 35h5.5v5.5h-5.5zM165 40h15.5v5.5h-15.5zM185 40h5.5v5.5h-5.5zM155 55h5.5v5.5h-5.5zM160 70h5.5v5.5h-5.5zM160 75h5.5v5.5h-5.5zM150 90h5.5v5.5h-5.5zM145 95h5.5v5.5h-5.5zM10 105h5.5v5.5h-5.5zM140 105h5.5v5.5h-5.5zM0 110h5.5v5.5h-5.5zM135 110h5.5v5.5h-5.5zM155 110h5.5v5.5h-5.5zM140 115h5.5v5.5h-5.5zM130 120h5.5v5.5h-5.5zM10 130h5.5v5.5h-5.5zM5 140h5.5v5.5h-5.5zM0 150h5.5v5.5h-5.5zM135 150h5.5v5.5h-5.5zM135 155h5.5v5.5h-5.5zM135 160h5.5v5.5h-5.5zM135 170h5.5v5.5h-5.5zM135 175h5.5v5.5h-5.5zM145 175h5.5v5.5h-5.5zM135 180h10.5v5.5h-10.5zM150 180h5.5v5.5h-5.5zM125 185h10.5v5.5h-10.5zM150 185h5.5v5.5h-5.5zM130 190h5.5v5.5h-5.5zM140 190h5.5v5.5h-5.5zM150 190h5.5v5.5h-5.5zM125 195h10.5v5.5h-10.5zM140 195h5.5v5.5h-5.5zM155 195h5.5v5.5h-5.5zM125 200h10.5v5.5h-10.5z"/>
<path fill="#d5e7f1" d="M155 0h5.5v5.5h-5.5zM185 0h5.5v5.5h-5.5zM155 5h5.5v5.5h-5.5zM215 15h5.5v5.5h-5.5zM160 50h5.5v5.5h-5.5zM170 50h15.5v5.5h-15.5zM160 55h5.5v5.5h-5.5zM170 60h5.5v5.5h-5.5zM165 65h5.5v5.5h-5.5zM165 70h5.5v5.5h-5.5zM0 140h5.5v5.5h-5.5zM145 190h5.5v5.5h-5.5zM140 200h5.5v5.5h-5.5z"/>
<path fill="#bedbeb" d="M160 0h5.5v5.5h-5.5zM170 0h10.5v5.5h-10.5zM170 5h5.5v5.5h-5.5z"/>
<path fill="#b7d8e9" d="M165 0h5.5v5.5h-5.5zM215 95h5.5v5.5h-5.5zM215 125h5.5v5.5h-5.5zM215 130h5.5v5.5h-5.5z"/>
<path fill="#cbe2ee" d="M180 0h5.5v5.5h-5.5zM160 5h5.5v5.5h-5.5zM170 10h5.5v5.5h-5.5zM170 55h5.5v5.5h-5.5zM160 60h5.5v5.5h-5.5z"/>
<path fill="#d9e9f2" d="M195 0h10.5v5.5h-10.5zM210 0h10.5v5.5h-10.5zM185 5h15.5v5.5h-15.5zM210 5h10.5v5.5h-10.5zM155 10h5.5v5.5h-5.5zM180 10h15.5v5.5h-15.5zM200 10h15.5v5.5h-15.5zM155 15h5.5v5.5h-5.5zM165 15h10.5v5.5h-10.5zM180 15h5.5v5.5h-5.5zM195 15h20.5v5.5h-20.5zM180 40h5.5v5.5h-5.5zM165 45h15.5v5.5h-15.5zM185 45h5.5v5.5h-5.5zM155 50h5.5v5.5h-5.5zM170 65h5.5v5.5h-5.5zM170 70h5.5v5.5h-5.5zM165 75h5.5v5.5h-5.5zM5 135h5.5v5.5h-5.5zM0 145h10.5v5.5h-10.5zM135 165h5.5v5.5h-5.5zM130 180h5.5v5.5h-5.5zM145 180h5.5v5.5h-5.5zM135 185h15.5v5.5h-15.5zM135 190h5.5v5.5h-5.5zM155 190h5.5v5.5h-5.5zM135 195h5.5v5.5h-5.5zM150 195h5.5v5.5h-5.5zM135 200h5.5v5.5h-5.5zM145 200h15.5v5.5h-15.5z"/>
<path fill="#fbe3d5" d="M0 5h5.5v5.5h-5.5zM30 5h20.5v5.5h-20.5zM30 10h15.5v5.5h-15.5zM35 20h5.5v5.5h-5.5zM35 25h5.5v5.5h-5.5zM0 55h5.5v5.5h-5.5zM30 55h5.5v5.5h-5.5zM25 60h5.5v5.5h-5.5zM15 70h5.5v5.5h-5.5zM15 185h5.5v5.5h-5.5zM25 185h10.5v5.5h-10.5zM30 190h5.5v5.5h-5.5zM30 195h5.5v5.5h-5.5z"/>
<path fill="#f8f1ed" d="M55 5h5.5v5.5h-5.5zM50 20h10.5v5.5h-10.5zM55 25h5.5v5.5h-5.5zM125 25h5.5v5.5h-5.5zM135 25h5.5v5.5h-5.5zM50 30h10.5v5.5h-10.5zM85 30h10.5v5.5h-10.5zM135 30h5.5v5.5h-5.5zM60 35h5.5v5.5h-5.5zM80 40h5.5v5.5h-5.5zM135 40h5.5v5.5h-5.5zM125 45h15.5v5.5h-15.5zM130 50h10.5v5.5h-10.5zM40 55h5.5v5.5h-5.5zM40 60h15.5v5.5h-15.5zM35 65h20.5v5.5h-20.5zM95 65h10.5v5.5h-10.5zM50 70h10.5v5.5h-10.5zM65 70h5.5v5.5h-5.5zM90 70h5.5v5.5h-5.5zM120 70h5.5v5.5h-5.5zM70 75h10.5v5.5h-10.5zM90 75h5.5v5.5h-5.5zM45 80h30.5v5.5h-30.5zM85 80h10.5v5.5h-10.5zM120 80h5.5v5.5h-5.5zM35 85h20.5v5.5h-20.5zM75 85h15.5v5.5h-15.5zM105 85h10.5v5.5h-10.5zM0 90h5.5v5.5h-5.5zM10 90h5.5v5.5h-5.5zM30 90h5.5v5.5h-5.5zM40 90h10.5v5.5h-10.5zM55 90h5.5v5.5h-5.5zM65 90h10.5v5.5h-10.5zM90 90h5.5v5.5h-5.5zM105 90h5.5v5.5h-5.5zM35 95h5.5v5.5h-5.5zM85 95h5.5v5.5h-5.5zM70 100h10.5v5.5h-10.5zM75 105h15.5v5.5h-15.5zM35 110h5.5v5.5h-5.5zM75 110h5.5v5.5h-5.5zM85 110h5.5v5.5h-5.5zM35 115h10.5v5.5h-10.5zM85 115h10.5v5.5h-10.5zM40 120h5.5v5.5h-5.5zM55 120h15.5v5.5h-15.5zM90 120h5.5v5.5h-5.5zM50 125h15.5v5.5h-15.5zM85 125h15.5v5.5h-15.5zM45 130h5.5v5.5h-5.5zM90 130h20.5v5.5h-20.5zM95 135h5.5v5.5h-5.5zM30 140h5.5v5.5h-5.5zM80 140h5.5v5.5h-5.5zM25 145h5.5v5.5h-5.5zM30 150h5.5v5.5h-5.5zM25 155h15.5v5.5h-15.5zM25 160h15.5v5.5h-15.5zM20 165h5.5v5.5h-5.5zM30 165h5.5v5.5h-5.5zM40 165h5.5v5.5h-5.5zM35 170h5.5v5.5h-5.5zM45 170h5.5v5.5h-5.5zM45 175h10.5v5.5h-10.5zM40 180h5.5v5.5h-5.5zM50 180h10.5v5.5h-10.5zM50 185h10.5v5.5h-10.5zM55 190h5.5v5.5h-5.5zM55 195h5.5v5.5h-5.5zM60 200h5.5v5.5h-5.5z"/>
<path fill="#c4dfec" d="M165 5h5.5v5.5h-5.5z"/>
<path fill="#d1e5f0" d="M175 5h10.5v5.5h-10.5zM160 10h10.5v5.5h-10.5zM175 10h5.5v5.5h-5.5zM180 45h5.5v5.5h-5.5zM165 50h5.5v5.5h-5.5zM165 55h5.5v5.5h-5.5zM175 55h5.5v5.5h-5.5zM165 60h5.5v5.5h-5.5zM160 65h5.5v5.5h-5.5z"/>
<path fill="#fae9df" d="M45 10h5.5v5.5h-5.5zM40 15h10.5v5.5h-10.5zM40 25h5.5v5.5h-5.5zM40 30h5.5v5.5h-5.5zM35 40h5.5v5.5h-5.5zM30 60h5.5v5.5h-5.5zM30 65h5.5v5.5h-5.5zM0 70h10.5v5.5h-10.5zM25 70h5.5v5.5h-5.5zM5 75h10.5v5.5h-10.5zM25 75h5.5v5.5h-5.5zM95 75h10.5v5.5h-10.5zM110 75h10.5v5.5h-10.5zM0 80h10.5v5.5h-10.5zM25 80h5.5v5.5h-5.5zM95 80h15.5v5.5h-15.5zM115 80h5.5v5.5h-5.5zM10 85h5.5v5.5h-5.5zM25 85h5.5v5.5h-5.5zM50 100h5.5v5.5h-5.5zM50 105h5.5v5.5h-5.5zM45 110h5.5v5.5h-5.5zM55 110h5.5v5.5h-5.5zM45 115h10.5v5.5h-10.5zM30 175h5.5v5.5h-5.5zM35 180h5.5v5.5h-5.5zM35 190h5.5v5.5h-5.5zM40 195h5.5v5.5h-5.5zM40 200h5.5v5.5h-5.5z"/>
<path fill="#fddbc7" d="M25 15h5.5v5.5h-5.5zM0 20h5.5v5.5h-5.5zM30 35h5.5v5.5h-5.5zM20 50h10.5v5.5h-10.5zM15 55h5.5v5.5h-5.5zM20 190h5.5v5.5h-5.5z"/>
<path fill="#fce1d1" d="M30 15h5.5v5.5h-5.5zM30 45h5.5v5.5h-5.5zM5 50h5.5v5.5h-5.5zM25 55h5.5v5.5h-5.5zM10 60h5.5v5.5h-5.5zM25 190h5.5v5.5h-5.5zM25 195h5.5v5.5h-5.5zM25 200h10.5v5.5h-10.5z"/>
<path fill="#f9eee8" d="M55 15h5.5v5.5h-5.5zM45 20h5.5v5.5h-5.5zM45 25h10.5v5.5h-10.5zM45 30h5.5v5.5h-5.5zM125 30h5.5v5.5h-5.5zM40 35h5.5v5.5h-5.5zM135 35h5.5v5.5h-5.5zM125 40h10.5v5.5h-10.5zM35 45h5.5v5.5h-5.5zM35 55h5.5v5.5h-5.5zM35 60h5.5v5.5h-5.5zM85 65h5.5v5.5h-5.5zM35 70h15.5v5.5h-15.5zM115 70h5.5v5.5h-5.5zM35 75h5.5v5.5h-5.5zM45 75h20.5v5.5h-20.5zM85 75h5.5v5.5h-5.5zM120 75h5.5v5.5h-5.5zM35 80h10.5v5.5h-10.5zM5 85h5.5v5.5h-5.5zM30 85h5.5v5.5h-5.5zM55 85h5.5v5.5h-5.5zM95 85h10.5v5.5h-10.5zM115 85h5.5v5.5h-5.5zM15 90h15.5v5.5h-15.5zM35 90h5.5v5.5h-5.5zM50 90h5.5v5.5h-5.5zM60 90h5.5v5.5h-5.5zM40 95h10.5v5.5h-10.5zM60 95h5.5v5.5h-5.5zM35 100h5.5v5.5h-5.5zM65 100h5.5v5.5h-5.5zM80 100h5.5v5.5h-5.5zM35 105h5.5v5.5h-5.5zM60 105h5.5v5.5h-5.5zM40 110h5.5v5.5h-5.5zM65 110h5.5v5.5h-5.5zM60 115h10.5v5.5h-10.5zM95 120h5.5v5.5h-5.5zM45 125h5.5v5.5h-5.5zM100 125h5.5v5.5h-5.5zM30 145h5.5v5.5h-5.5zM25 150h5.5v5.5h-5.5zM35 165h5.5v5.5h-5.5zM35 175h10.5v5.5h-10.5zM45 180h5.5v5.5h-5.5zM45 185h5.5v5.5h-5.5zM40 190h5.5v5.5h-5.5zM45 195h10.5v5.5h-10.5zM45 200h15.5v5.5h-15.5z"/>
<path fill="#e0ecf3" d="M150 15h5.5v5.5h-5.5zM160 15h5.5v5.5h-5.5zM175 15h5.5v5.5h-5.5zM165 20h10.5v5.5h-10.5zM180 20h5.5v5.5h-5.5zM155 25h5.5v5.5h-5.5zM185 25h5.5v5.5h-5.5zM195 25h5.5v5.5h-5.5zM205 25h10.5v5.5h-10.5zM185 30h10.5v5.5h-10.5zM200 30h10.5v5.5h-10.5zM165 35h5.5v5.5h-5.5zM190 35h5.5v5.5h-5.5zM210 35h5.5v5.5h-5.5zM160 40h5.5v5.5h-5.5zM190 40h5.5v5.5h-5.5zM155 45h10.5v5.5h-10.5zM150 50h5.5v5.5h-5.5zM150 55h5.5v5.5h-5.5zM150 60h10.5v5.5h-10.5zM155 65h5.5v5.5h-5.5zM160 85h5.5v5.5h-5.5zM155 90h5.5v5.5h-5.5zM140 95h5.5v5.5h-5.5zM150 95h5.5v5.5h-5.5zM135 100h25.5v5.5h-25.5zM0 105h10.5v5.5h-10.5zM145 105h15.5v5.5h-15.5zM5 110h5.5v5.5h-5.5zM140 110h10.5v5.5h-10.5zM130 115h10.5v5.5h-10.5zM150 115h5.5v5.5h-5.5zM10 120h5.5v5.5h-5.5zM135 120h10.5v5.5h-10.5zM150 120h5.5v5.5h-5.5zM10 125h5.5v5.5h-5.5zM130 125h20.5v5.5h-20.5zM135 130h15.5v5.5h-15.5zM125 135h20.5v5.5h-20.5zM10 140h5.5v5.5h-5.5zM130 140h10.5v5.5h-10.5zM10 145h5.5v5.5h-5.5zM130 145h5.5v5.5h-5.5zM5 150h5.5v5.5h-5.5zM0 155h5.5v5.5h-5.5zM125 155h10.5v5.5h-10.5zM120 160h5.5v5.5h-5.5zM130 160h5.5v5.5h-5.5zM140 165h5.5v5.5h-5.5zM125 170h10.5v5.5h-10.5zM140 170h5.5v5.5h-5.5zM125 175h10.5v5.5h-10.5zM140 175h5.5v5.5h-5.5zM125 180h5.5v5.5h-5.5zM120 185h5.5v5.5h-5.5zM120 190h10.5v5.5h-10.5zM145 195h5.5v5.5h-5.5zM120 200h5.5v5.5h-5.5z"/>
<path fill="#f8bfa4" d="M0 25h5.5v5.5h-5.5zM25 30h5.5v5.5h-5.5zM25 35h5.5v5.5h-5.5zM20 40h5.5v5.5h-5.5z"/>
<path fill="#f7ba9d" d="M5 25h5.5v5.5h-5.5zM0 40h10.5v5.5h-10.5z"/>
<path fill="#f4a988" d="M0 30h5.5v5.5h-5.5zM10 30h5.5v5.5h-5.5zM0 35h5.5v5.5h-5.5z"/>
<path fill="#f3a481" d="M5 30h5.5v5.5h-5.5zM5 35h15.5v5.5h-15.5z"/>
<path fill="#f09d7c" d="M15 30h5.5v5.5h-5.5z"/>
<path fill="#fbd0b9" d="M30 30h5.5v5.5h-5.5zM0 45h10.5v5.5h-10.5zM25 45h5.5v5.5h-5.5z"/>
<path fill="#f5af8f" d="M20 35h5.5v5.5h-5.5z"/>
<path fill="#f6b496" d="M10 40h10.5v5.5h-10.5z"/>
<path fill="#facab2" d="M25 40h5.5v5.5h-5.5zM10 45h10.5v5.5h-10.5z"/>
<path fill="#f9c5ab" d="M20 45h5.5v5.5h-5.5z"/>
<path fill="#fcd5c0" d="M10 50h10.5v5.5h-10.5zM20 195h5.5v5.5h-5.5z"/>
<path fill="#b1d5e7" d="M210 65h5.5v5.5h-5.5zM210 100h10.5v5.5h-10.5zM210 125h5.5v5.5h-5.5zM210 130h5.5v5.5h-5.5z"/>
<path fill="#a4cee3" d="M215 65h5.5v5.5h-5.5zM210 75h5.5v5.5h-5.5z"/>
<path fill="#9dcbe1" d="M210 70h5.5v5.5h-5.5zM215 75h5.5v5.5h-5.5z"/>
<path fill="#97c7df" d="M215 70h5.5v5.5h-5.5z"/>
<path fill="#72b1d3" d="M210 80h5.5v5.5h-5.5z"/>
<path fill="#7ab6d6" d="M215 80h5.5v5.5h-5.5zM205 85h15.5v5.5h-15.5zM205 90h15.5v5.5h-15.5z"/>
<path fill="#aad2e5" d="M210 95h5.5v5.5h-5.5z"/>
</g>
<path d="M215.3 -1L216.3 50L216.9 100L216.9 131L220 131L220 -1Z" fill="#98b7e2"/>
<path d="M-30.7 0L-25.3 209M0.6 0L6.0 209M31.9 0L37.3 209M63.2 0L68.6 209M94.5 0L99.9 209M125.8 0L131.2 209M157.1 0L162.5 209M188.4 0L193.8 209M219.7 0L225.1 209M0 -8.3L219 -14.0M0 18.6L219 12.9M0 45.5L219 39.8M0 72.4L219 66.7M0 99.3L219 93.6M0 126.2L219 120.5M0 153.1L219 147.4M0 180.0L219 174.3M0 206.9L219 201.2M0 233.8L219 228.1" stroke="#b0b0b0" stroke-width="1.2" fill="none"/>
<path d="M169.7 208.6 L169.7 203.8 L169.2 195.2 L167.5 188.4 L164.9 181.5 L162.4 174.6 L158.9 170.4 L154.6 167.4 L150.4 166.1 L149.8 162.6 L150.9 157.5 L149.2 152.4 L147.8 147.2 L148.6 143.8 L152.1 140.4 L156.4 134.4 L158.9 128.4 L160.1 120.6 L164.1 114.6 L168.4 106.1 L164.1 115.8 L167.5 107.2 L170.9 96.9 L174.4 86.6 L177.8 76.4 L181.2 67.8 L184.6 60.1 L188.9 52.4 L194.1 46.4 L199.2 42.9 L204.4 41.7 L208.6 40.4 L210.9 40.9 L211.6 42.9 L210.4 46.4 L208.1 52.4 L206.4 60.9 L204.7 69.5 L203.0 78.1 L201.3 86.6 L200.1 92.6 L201.8 97.8 L204.4 102.1 L206.0 103.5 L205.7 107.0 L204.0 110.5 L205.0 112.7 L207.5 112.0 L209.0 108.5 L211.0 108.0 L211.7 110.5 L210.5 114.5 L207.5 117.5 L205.3 121.0 L205.3 125.5 L204.5 131.5 L206.0 135.5 L209.5 137.8 L214.0 136.5 L217.0 132.0 L219.5 127.0" stroke="#7a7a7a" stroke-width="1.5" fill="none" stroke-linejoin="round"/>
</g>
<rect x="0" y="0" width="219" height="209" fill="none" stroke="#000" stroke-width="1"/>
</g>
<g transform="translate(150.5 396.5)">
<clipPath id="cp3"><rect x="0" y="0" width="219" height="209"/></clipPath>
<g clip-path="url(#cp3)">
<rect x="0" y="0" width="219" height="209" fill="#98b7e2"/>
<path d="M169.7 208.6 L169.7 203.8 L169.2 195.2 L167.5 188.4 L164.9 181.5 L162.4 174.6 L158.9 170.4 L154.6 167.4 L150.4 166.1 L149.8 162.6 L150.9 157.5 L149.2 152.4 L147.8 147.2 L148.6 143.8 L152.1 140.4 L156.4 134.4 L158.9 128.4 L160.1 120.6 L164.1 114.6 L168.4 106.1 L164.1 115.8 L167.5 107.2 L170.9 96.9 L174.4 86.6 L177.8 76.4 L181.2 67.8 L184.6 60.1 L188.9 52.4 L194.1 46.4 L199.2 42.9 L204.4 41.7 L208.6 40.4 L210.9 40.9 L211.6 42.9 L210.4 46.4 L208.1 52.4 L206.4 60.9 L204.7 69.5 L203.0 78.1 L201.3 86.6 L200.1 92.6 L201.8 97.8 L204.4 102.1 L206.0 103.5 L205.7 107.0 L204.0 110.5 L205.0 112.7 L207.5 112.0 L209.0 108.5 L211.0 108.0 L211.7 110.5 L210.5 114.5 L207.5 117.5 L205.3 121.0 L205.3 125.5 L204.5 131.5 L206.0 135.5 L209.5 137.8 L214.0 136.5 L217.0 132.0 L219.5 127.0 L221.0 127.0 L221.0 211.0 L169.7 211.0Z" fill="#efefdb"/>
<g transform="matrix(0.9880 -0.02470 0.01780 0.9890 1.50 4.60)" shape-rendering="crispEdges">
<path fill="#c7a74f" d="M0 0h5.5v5.5h-5.5zM30 0h5.5v5.5h-5.5zM40 0h10.5v5.5h-10.5zM55 0h5.5v5.5h-5.5zM70 0h10.5v5.5h-10.5zM175 0h5.5v5.5h-5.5zM190 0h5.5v5.5h-5.5zM205 0h5.5v5.5h-5.5zM215 0h5.5v5.5h-5.5zM0 5h5.5v5.5h-5.5zM40 5h10.5v5.5h-10.5zM55 5h5.5v5.5h-5.5zM70 5h5.5v5.5h-5.5zM170 5h10.5v5.5h-10.5zM185 5h5.5v5.5h-5.5zM195 5h5.5v5.5h-5.5zM210 5h5.5v5.5h-5.5zM30 10h5.5v5.5h-5.5zM200 10h5.5v5.5h-5.5zM215 10h5.5v5.5h-5.5zM180 15h5.5v5.5h-5.5zM190 15h10.5v5.5h-10.5zM215 15h5.5v5.5h-5.5zM180 20h15.5v5.5h-15.5zM215 20h5.5v5.5h-5.5zM5 25h5.5v5.5h-5.5zM180 25h5.5v5.5h-5.5zM195 25h25.5v5.5h-25.5zM5 30h5.5v5.5h-5.5zM175 30h5.5v5.5h-5.5zM185 30h10.5v5.5h-10.5zM200 30h10.5v5.5h-10.5zM175 35h10.5v5.5h-10.5zM195 35h10.5v5.5h-10.5zM210 35h10.5v5.5h-10.5zM180 40h15.5v5.5h-15.5zM170 45h5.5v5.5h-5.5zM180 45h10.5v5.5h-10.5zM170 50h5.5v5.5h-5.5zM160 55h5.5v5.5h-5.5zM170 60h5.5v5.5h-5.5zM170 65h5.5v5.5h-5.5zM160 70h10.5v5.5h-10.5zM155 75h5.5v5.5h-5.5zM160 80h10.5v5.5h-10.5zM160 85h5.5v5.5h-5.5zM160 95h5.5v5.5h-5.5zM140 180h5.5v5.5h-5.5zM150 180h5.5v5.5h-5.5zM130 185h5.5v5.5h-5.5zM150 185h5.5v5.5h-5.5zM125 190h5.5v5.5h-5.5z"/>
<path fill="#e9f6ab" d="M5 0h25.5v5.5h-25.5zM5 5h25.5v5.5h-25.5zM5 10h25.5v5.5h-25.5zM0 15h25.5v5.5h-25.5zM5 20h25.5v5.5h-25.5zM10 25h20.5v5.5h-20.5zM20 30h5.5v5.5h-5.5zM205 35h5.5v5.5h-5.5zM195 40h25.5v5.5h-25.5zM190 45h30.5v5.5h-30.5zM185 50h35.5v5.5h-35.5zM180 55h40.5v5.5h-40.5zM175 60h45.5v5.5h-45.5zM175 65h35.5v5.5h-35.5zM175 70h35.5v5.5h-35.5zM170 75h40.5v5.5h-40.5zM170 80h40.5v5.5h-40.5zM165 85h40.5v5.5h-40.5zM5 90h5.5v5.5h-5.5zM165 90h40.5v5.5h-40.5zM5 95h5.5v5.5h-5.5zM165 95h45.5v5.5h-45.5zM5 100h5.5v5.5h-5.5zM160 100h60.5v5.5h-60.5zM160 105h60.5v5.5h-60.5zM160 110h60.5v5.5h-60.5zM0 115h10.5v5.5h-10.5zM160 115h60.5v5.5h-60.5zM0 120h10.5v5.5h-10.5zM155 120h65.5v5.5h-65.5zM0 125h10.5v5.5h-10.5zM150 125h60.5v5.5h-60.5zM0 130h10.5v5.5h-10.5zM150 130h60.5v5.5h-60.5zM0 135h5.5v5.5h-5.5zM145 135h75.5v5.5h-75.5zM140 140h80.5v5.5h-80.5zM140 145h80.5v5.5h-80.5zM140 150h80.5v5.5h-80.5zM140 155h80.5v5.5h-80.5zM140 160h80.5v5.5h-80.5zM145 165h75.5v5.5h-75.5zM145 170h75.5v5.5h-75.5zM5 175h10.5v5.5h-10.5zM155 175h65.5v5.5h-65.5zM0 180h15.5v5.5h-15.5zM155 180h65.5v5.5h-65.5zM0 185h15.5v5.5h-15.5zM155 185h65.5v5.5h-65.5zM0 190h15.5v5.5h-15.5zM160 190h60.5v5.5h-60.5zM0 195h20.5v5.5h-20.5zM160 195h60.5v5.5h-60.5zM0 200h25.5v5.5h-25.5zM160 200h60.5v5.5h-60.5z"/>
<path fill="#c6a44d" d="M35 0h5.5v5.5h-5.5zM50 0h5.5v5.5h-5.5zM60 0h10.5v5.5h-10.5zM180 0h10.5v5.5h-10.5zM195 0h5.5v5.5h-5.5zM30 5h5.5v5.5h-5.5zM65 5h5.5v5.5h-5.5zM205 5h5.5v5.5h-5.5zM0 10h5.5v5.5h-5.5zM180 10h20.5v5.5h-20.5zM210 10h5.5v5.5h-5.5zM200 15h15.5v5.5h-15.5zM195 20h10.5v5.5h-10.5zM210 20h5.5v5.5h-5.5zM0 25h5.5v5.5h-5.5zM185 25h10.5v5.5h-10.5zM0 30h5.5v5.5h-5.5zM180 30h5.5v5.5h-5.5zM195 30h5.5v5.5h-5.5zM210 30h10.5v5.5h-10.5zM0 35h5.5v5.5h-5.5zM185 35h10.5v5.5h-10.5zM175 55h5.5v5.5h-5.5zM165 60h5.5v5.5h-5.5zM160 65h10.5v5.5h-10.5zM170 70h5.5v5.5h-5.5zM135 185h15.5v5.5h-15.5zM120 190h5.5v5.5h-5.5zM130 190h5.5v5.5h-5.5zM140 190h5.5v5.5h-5.5zM120 195h5.5v5.5h-5.5zM115 200h15.5v5.5h-15.5z"/>
<path fill="#c9ac52" d="M80 0h20.5v5.5h-20.5zM165 5h5.5v5.5h-5.5zM50 10h5.5v5.5h-5.5zM70 10h5.5v5.5h-5.5zM165 10h10.5v5.5h-10.5zM25 15h5.5v5.5h-5.5zM50 15h5.5v5.5h-5.5zM170 15h5.5v5.5h-5.5zM30 25h5.5v5.5h-5.5zM45 25h5.5v5.5h-5.5zM55 25h5.5v5.5h-5.5zM15 30h5.5v5.5h-5.5zM25 30h5.5v5.5h-5.5zM45 30h5.5v5.5h-5.5zM20 35h5.5v5.5h-5.5zM40 35h5.5v5.5h-5.5zM0 40h10.5v5.5h-10.5zM15 40h5.5v5.5h-5.5zM170 40h10.5v5.5h-10.5zM5 45h10.5v5.5h-10.5zM20 45h5.5v5.5h-5.5zM160 50h10.5v5.5h-10.5zM10 55h5.5v5.5h-5.5zM155 55h5.5v5.5h-5.5zM0 65h15.5v5.5h-15.5zM150 70h10.5v5.5h-10.5zM0 75h5.5v5.5h-5.5zM165 75h5.5v5.5h-5.5zM150 80h5.5v5.5h-5.5zM0 85h10.5v5.5h-10.5zM155 85h5.5v5.5h-5.5zM10 90h5.5v5.5h-5.5zM150 90h5.5v5.5h-5.5zM150 95h10.5v5.5h-10.5zM150 100h10.5v5.5h-10.5zM10 105h5.5v5.5h-5.5zM155 105h5.5v5.5h-5.5zM10 110h5.5v5.5h-5.5zM140 110h5.5v5.5h-5.5zM150 110h5.5v5.5h-5.5zM150 115h10.5v5.5h-10.5zM135 165h5.5v5.5h-5.5zM140 170h5.5v5.5h-5.5zM120 175h5.5v5.5h-5.5zM130 175h5.5v5.5h-5.5zM150 175h5.5v5.5h-5.5zM120 180h5.5v5.5h-5.5zM110 190h5.5v5.5h-5.5zM95 195h15.5v5.5h-15.5zM100 200h10.5v5.5h-10.5z"/>
<path fill="#caae54" d="M100 0h15.5v5.5h-15.5zM160 0h10.5v5.5h-10.5zM85 5h20.5v5.5h-20.5zM75 10h10.5v5.5h-10.5zM30 15h20.5v5.5h-20.5zM55 15h10.5v5.5h-10.5zM35 20h20.5v5.5h-20.5zM60 20h5.5v5.5h-5.5zM35 25h10.5v5.5h-10.5zM50 25h5.5v5.5h-5.5zM60 25h5.5v5.5h-5.5zM30 30h5.5v5.5h-5.5zM40 30h5.5v5.5h-5.5zM50 30h15.5v5.5h-15.5zM170 30h5.5v5.5h-5.5zM30 35h10.5v5.5h-10.5zM45 35h5.5v5.5h-5.5zM55 35h5.5v5.5h-5.5zM170 35h5.5v5.5h-5.5zM20 40h15.5v5.5h-15.5zM45 40h5.5v5.5h-5.5zM165 40h5.5v5.5h-5.5zM0 45h5.5v5.5h-5.5zM15 45h5.5v5.5h-5.5zM25 45h10.5v5.5h-10.5zM165 45h5.5v5.5h-5.5zM0 50h10.5v5.5h-10.5zM15 50h10.5v5.5h-10.5zM0 55h10.5v5.5h-10.5zM0 60h15.5v5.5h-15.5zM0 70h10.5v5.5h-10.5zM5 75h10.5v5.5h-10.5zM0 80h20.5v5.5h-20.5zM140 80h10.5v5.5h-10.5zM15 85h5.5v5.5h-5.5zM0 90h5.5v5.5h-5.5zM145 90h5.5v5.5h-5.5zM155 90h5.5v5.5h-5.5zM0 95h5.5v5.5h-5.5zM10 95h5.5v5.5h-5.5zM140 95h5.5v5.5h-5.5zM0 100h5.5v5.5h-5.5zM140 100h10.5v5.5h-10.5zM0 105h10.5v5.5h-10.5zM135 105h5.5v5.5h-5.5zM150 105h5.5v5.5h-5.5zM0 110h10.5v5.5h-10.5zM15 110h5.5v5.5h-5.5zM145 110h5.5v5.5h-5.5zM155 110h5.5v5.5h-5.5zM10 115h5.5v5.5h-5.5zM140 115h5.5v5.5h-5.5zM140 165h5.5v5.5h-5.5zM130 170h5.5v5.5h-5.5zM115 175h5.5v5.5h-5.5zM115 180h5.5v5.5h-5.5zM110 185h10.5v5.5h-10.5zM105 190h5.5v5.5h-5.5zM90 195h5.5v5.5h-5.5zM110 195h5.5v5.5h-5.5zM95 200h5.5v5.5h-5.5z"/>
<path fill="#ccb359" d="M115 0h10.5v5.5h-10.5zM155 0h5.5v5.5h-5.5zM105 10h10.5v5.5h-10.5zM160 10h5.5v5.5h-5.5zM70 15h10.5v5.5h-10.5zM100 15h5.5v5.5h-5.5zM165 15h5.5v5.5h-5.5zM80 20h5.5v5.5h-5.5zM90 20h10.5v5.5h-10.5zM100 25h5.5v5.5h-5.5zM165 25h5.5v5.5h-5.5zM80 30h5.5v5.5h-5.5zM110 30h5.5v5.5h-5.5zM165 30h5.5v5.5h-5.5zM70 35h10.5v5.5h-10.5zM85 35h5.5v5.5h-5.5zM165 35h5.5v5.5h-5.5zM35 40h10.5v5.5h-10.5zM55 40h10.5v5.5h-10.5zM80 40h10.5v5.5h-10.5zM150 40h5.5v5.5h-5.5zM35 45h5.5v5.5h-5.5zM50 45h15.5v5.5h-15.5zM80 45h10.5v5.5h-10.5zM155 45h5.5v5.5h-5.5zM30 50h10.5v5.5h-10.5zM80 50h5.5v5.5h-5.5zM150 50h5.5v5.5h-5.5zM20 55h5.5v5.5h-5.5zM70 55h5.5v5.5h-5.5zM80 55h15.5v5.5h-15.5zM150 55h5.5v5.5h-5.5zM15 60h10.5v5.5h-10.5zM70 60h10.5v5.5h-10.5zM85 60h5.5v5.5h-5.5zM145 60h10.5v5.5h-10.5zM70 65h10.5v5.5h-10.5zM140 65h15.5v5.5h-15.5zM20 70h5.5v5.5h-5.5zM70 70h5.5v5.5h-5.5zM130 70h15.5v5.5h-15.5zM20 75h5.5v5.5h-5.5zM65 75h5.5v5.5h-5.5zM20 80h5.5v5.5h-5.5zM10 85h5.5v5.5h-5.5zM20 85h5.5v5.5h-5.5zM75 85h10.5v5.5h-10.5zM20 90h5.5v5.5h-5.5zM65 90h10.5v5.5h-10.5zM85 90h5.5v5.5h-5.5zM75 95h10.5v5.5h-10.5zM90 95h5.5v5.5h-5.5zM20 100h5.5v5.5h-5.5zM50 100h5.5v5.5h-5.5zM65 100h5.5v5.5h-5.5zM75 100h20.5v5.5h-20.5zM135 100h5.5v5.5h-5.5zM65 105h10.5v5.5h-10.5zM85 105h5.5v5.5h-5.5zM20 110h5.5v5.5h-5.5zM80 110h5.5v5.5h-5.5zM20 115h5.5v5.5h-5.5zM75 115h5.5v5.5h-5.5zM60 120h5.5v5.5h-5.5zM80 120h10.5v5.5h-10.5zM135 120h5.5v5.5h-5.5zM15 125h5.5v5.5h-5.5zM75 125h5.5v5.5h-5.5zM85 125h5.5v5.5h-5.5zM145 125h5.5v5.5h-5.5zM70 130h15.5v5.5h-15.5zM70 140h5.5v5.5h-5.5zM85 150h5.5v5.5h-5.5zM75 155h5.5v5.5h-5.5zM85 155h5.5v5.5h-5.5zM0 160h5.5v5.5h-5.5zM70 160h15.5v5.5h-15.5zM90 160h10.5v5.5h-10.5zM135 160h5.5v5.5h-5.5zM5 165h5.5v5.5h-5.5zM70 165h5.5v5.5h-5.5zM80 165h10.5v5.5h-10.5zM100 165h5.5v5.5h-5.5zM125 165h5.5v5.5h-5.5zM5 170h10.5v5.5h-10.5zM35 170h10.5v5.5h-10.5zM90 170h5.5v5.5h-5.5zM105 170h15.5v5.5h-15.5zM0 175h5.5v5.5h-5.5zM90 175h5.5v5.5h-5.5zM105 175h10.5v5.5h-10.5zM100 180h15.5v5.5h-15.5zM15 185h5.5v5.5h-5.5zM90 185h5.5v5.5h-5.5zM15 190h5.5v5.5h-5.5zM100 190h5.5v5.5h-5.5zM20 195h5.5v5.5h-5.5z"/>
<path fill="#cdb85e" d="M125 0h10.5v5.5h-10.5zM150 0h5.5v5.5h-5.5zM130 5h5.5v5.5h-5.5zM150 5h5.5v5.5h-5.5zM115 10h5.5v5.5h-5.5zM160 15h5.5v5.5h-5.5zM70 20h5.5v5.5h-5.5zM105 20h5.5v5.5h-5.5zM75 25h5.5v5.5h-5.5zM105 25h5.5v5.5h-5.5zM160 25h5.5v5.5h-5.5zM150 30h15.5v5.5h-15.5zM105 35h5.5v5.5h-5.5zM115 35h5.5v5.5h-5.5zM90 40h5.5v5.5h-5.5zM100 40h20.5v5.5h-20.5zM145 40h5.5v5.5h-5.5zM65 45h5.5v5.5h-5.5zM95 45h5.5v5.5h-5.5zM40 50h20.5v5.5h-20.5zM90 50h10.5v5.5h-10.5zM110 50h10.5v5.5h-10.5zM140 50h10.5v5.5h-10.5zM35 55h5.5v5.5h-5.5zM50 55h5.5v5.5h-5.5zM60 55h5.5v5.5h-5.5zM95 55h5.5v5.5h-5.5zM135 55h5.5v5.5h-5.5zM30 60h10.5v5.5h-10.5zM55 65h10.5v5.5h-10.5zM85 65h5.5v5.5h-5.5zM110 65h5.5v5.5h-5.5zM120 65h5.5v5.5h-5.5zM135 65h5.5v5.5h-5.5zM30 70h5.5v5.5h-5.5zM75 70h10.5v5.5h-10.5zM120 70h10.5v5.5h-10.5zM30 75h5.5v5.5h-5.5zM60 75h5.5v5.5h-5.5zM75 75h10.5v5.5h-10.5zM125 75h5.5v5.5h-5.5zM55 80h5.5v5.5h-5.5zM85 80h5.5v5.5h-5.5zM125 80h5.5v5.5h-5.5zM60 85h5.5v5.5h-5.5zM125 85h5.5v5.5h-5.5zM55 95h5.5v5.5h-5.5zM85 95h5.5v5.5h-5.5zM130 95h5.5v5.5h-5.5zM130 100h5.5v5.5h-5.5zM130 105h5.5v5.5h-5.5zM25 110h5.5v5.5h-5.5zM65 110h5.5v5.5h-5.5zM130 110h5.5v5.5h-5.5zM55 125h5.5v5.5h-5.5zM15 130h5.5v5.5h-5.5zM55 130h15.5v5.5h-15.5zM140 130h5.5v5.5h-5.5zM50 135h10.5v5.5h-10.5zM90 135h5.5v5.5h-5.5zM120 135h25.5v5.5h-25.5zM125 140h5.5v5.5h-5.5zM135 140h5.5v5.5h-5.5zM90 145h5.5v5.5h-5.5zM135 145h5.5v5.5h-5.5zM35 150h5.5v5.5h-5.5zM90 150h5.5v5.5h-5.5zM0 155h10.5v5.5h-10.5zM65 155h5.5v5.5h-5.5zM95 155h5.5v5.5h-5.5zM130 155h5.5v5.5h-5.5zM35 160h5.5v5.5h-5.5zM65 160h5.5v5.5h-5.5zM10 165h5.5v5.5h-5.5zM45 165h5.5v5.5h-5.5zM60 165h5.5v5.5h-5.5zM115 165h10.5v5.5h-10.5zM20 170h5.5v5.5h-5.5zM45 170h15.5v5.5h-15.5zM65 170h5.5v5.5h-5.5zM15 175h5.5v5.5h-5.5zM35 175h5.5v5.5h-5.5zM65 175h5.5v5.5h-5.5zM75 175h5.5v5.5h-5.5zM30 180h5.5v5.5h-5.5zM40 180h5.5v5.5h-5.5zM80 180h5.5v5.5h-5.5zM25 185h10.5v5.5h-10.5zM50 185h5.5v5.5h-5.5zM30 190h5.5v5.5h-5.5zM55 195h5.5v5.5h-5.5z"/>
<path fill="#cfbc64" d="M135 0h5.5v5.5h-5.5zM145 0h5.5v5.5h-5.5zM145 5h5.5v5.5h-5.5zM120 10h5.5v5.5h-5.5zM150 10h5.5v5.5h-5.5zM120 15h10.5v5.5h-10.5zM155 20h5.5v5.5h-5.5zM110 25h5.5v5.5h-5.5zM115 30h5.5v5.5h-5.5zM145 35h5.5v5.5h-5.5zM120 40h5.5v5.5h-5.5zM120 45h5.5v5.5h-5.5zM140 45h5.5v5.5h-5.5zM100 50h5.5v5.5h-5.5zM125 50h5.5v5.5h-5.5zM135 50h5.5v5.5h-5.5zM45 55h5.5v5.5h-5.5zM105 55h10.5v5.5h-10.5zM120 55h15.5v5.5h-15.5zM50 60h5.5v5.5h-5.5zM105 60h5.5v5.5h-5.5zM125 60h5.5v5.5h-5.5zM40 65h15.5v5.5h-15.5zM40 70h5.5v5.5h-5.5zM90 70h5.5v5.5h-5.5zM100 70h5.5v5.5h-5.5zM110 70h5.5v5.5h-5.5zM45 75h5.5v5.5h-5.5zM85 75h10.5v5.5h-10.5zM115 75h5.5v5.5h-5.5zM30 80h5.5v5.5h-5.5zM50 80h5.5v5.5h-5.5zM90 80h5.5v5.5h-5.5zM120 80h5.5v5.5h-5.5zM30 85h5.5v5.5h-5.5zM50 85h10.5v5.5h-10.5zM35 90h5.5v5.5h-5.5zM45 90h10.5v5.5h-10.5zM125 90h5.5v5.5h-5.5zM30 105h10.5v5.5h-10.5zM50 110h5.5v5.5h-5.5zM25 115h5.5v5.5h-5.5zM55 115h5.5v5.5h-5.5zM125 120h5.5v5.5h-5.5zM50 125h5.5v5.5h-5.5zM20 130h5.5v5.5h-5.5zM50 130h5.5v5.5h-5.5zM90 130h5.5v5.5h-5.5zM120 130h5.5v5.5h-5.5zM10 135h10.5v5.5h-10.5zM40 135h10.5v5.5h-10.5zM30 140h5.5v5.5h-5.5zM40 140h15.5v5.5h-15.5zM115 140h5.5v5.5h-5.5zM5 150h5.5v5.5h-5.5zM60 150h5.5v5.5h-5.5zM10 155h5.5v5.5h-5.5zM30 155h5.5v5.5h-5.5zM40 155h10.5v5.5h-10.5zM125 155h5.5v5.5h-5.5zM25 160h5.5v5.5h-5.5zM120 160h5.5v5.5h-5.5zM25 165h5.5v5.5h-5.5zM55 175h10.5v5.5h-10.5zM70 175h5.5v5.5h-5.5zM60 180h5.5v5.5h-5.5zM35 185h5.5v5.5h-5.5zM45 185h5.5v5.5h-5.5zM55 185h5.5v5.5h-5.5zM80 190h5.5v5.5h-5.5zM30 195h5.5v5.5h-5.5zM50 195h5.5v5.5h-5.5zM30 200h5.5v5.5h-5.5zM80 200h5.5v5.5h-5.5z"/>
<path fill="#ceba61" d="M140 0h5.5v5.5h-5.5zM135 5h10.5v5.5h-10.5zM125 10h20.5v5.5h-20.5zM155 10h5.5v5.5h-5.5zM110 15h5.5v5.5h-5.5zM130 15h10.5v5.5h-10.5zM130 20h10.5v5.5h-10.5zM160 20h5.5v5.5h-5.5zM155 25h5.5v5.5h-5.5zM100 45h20.5v5.5h-20.5zM105 50h5.5v5.5h-5.5zM120 50h5.5v5.5h-5.5zM40 55h5.5v5.5h-5.5zM55 55h5.5v5.5h-5.5zM100 55h5.5v5.5h-5.5zM115 55h5.5v5.5h-5.5zM140 55h5.5v5.5h-5.5zM40 60h10.5v5.5h-10.5zM55 60h5.5v5.5h-5.5zM95 60h10.5v5.5h-10.5zM110 60h15.5v5.5h-15.5zM130 60h10.5v5.5h-10.5zM35 65h5.5v5.5h-5.5zM90 65h10.5v5.5h-10.5zM115 65h5.5v5.5h-5.5zM125 65h10.5v5.5h-10.5zM35 70h5.5v5.5h-5.5zM45 70h5.5v5.5h-5.5zM55 70h5.5v5.5h-5.5zM85 70h5.5v5.5h-5.5zM115 70h5.5v5.5h-5.5zM35 75h10.5v5.5h-10.5zM50 75h10.5v5.5h-10.5zM120 75h5.5v5.5h-5.5zM60 80h5.5v5.5h-5.5zM25 90h10.5v5.5h-10.5zM55 90h5.5v5.5h-5.5zM90 90h5.5v5.5h-5.5zM30 95h5.5v5.5h-5.5zM40 95h10.5v5.5h-10.5zM95 95h5.5v5.5h-5.5zM125 95h5.5v5.5h-5.5zM25 100h20.5v5.5h-20.5zM100 100h5.5v5.5h-5.5zM50 105h5.5v5.5h-5.5zM100 105h5.5v5.5h-5.5zM95 110h5.5v5.5h-5.5zM90 115h10.5v5.5h-10.5zM55 120h5.5v5.5h-5.5zM90 120h5.5v5.5h-5.5zM20 125h5.5v5.5h-5.5zM90 125h5.5v5.5h-5.5zM10 130h5.5v5.5h-5.5zM125 130h5.5v5.5h-5.5zM60 135h5.5v5.5h-5.5zM35 140h5.5v5.5h-5.5zM55 140h10.5v5.5h-10.5zM90 140h5.5v5.5h-5.5zM120 140h5.5v5.5h-5.5zM130 140h5.5v5.5h-5.5zM35 145h15.5v5.5h-15.5zM60 145h5.5v5.5h-5.5zM115 145h20.5v5.5h-20.5zM30 150h5.5v5.5h-5.5zM40 150h5.5v5.5h-5.5zM65 150h5.5v5.5h-5.5zM95 150h5.5v5.5h-5.5zM125 150h10.5v5.5h-10.5zM35 155h5.5v5.5h-5.5zM60 155h5.5v5.5h-5.5zM100 155h10.5v5.5h-10.5zM10 160h10.5v5.5h-10.5zM30 160h5.5v5.5h-5.5zM40 160h10.5v5.5h-10.5zM60 160h5.5v5.5h-5.5zM105 160h5.5v5.5h-5.5zM15 165h5.5v5.5h-5.5zM50 165h10.5v5.5h-10.5zM15 170h5.5v5.5h-5.5zM25 170h5.5v5.5h-5.5zM60 170h5.5v5.5h-5.5zM50 175h5.5v5.5h-5.5zM45 180h15.5v5.5h-15.5zM75 180h5.5v5.5h-5.5zM80 185h5.5v5.5h-5.5zM50 190h10.5v5.5h-10.5zM50 200h10.5v5.5h-10.5z"/>
<path fill="#c8a950" d="M170 0h5.5v5.5h-5.5zM200 0h5.5v5.5h-5.5zM210 0h5.5v5.5h-5.5zM35 5h5.5v5.5h-5.5zM50 5h5.5v5.5h-5.5zM60 5h5.5v5.5h-5.5zM75 5h10.5v5.5h-10.5zM180 5h5.5v5.5h-5.5zM190 5h5.5v5.5h-5.5zM200 5h5.5v5.5h-5.5zM215 5h5.5v5.5h-5.5zM35 10h15.5v5.5h-15.5zM55 10h15.5v5.5h-15.5zM175 10h5.5v5.5h-5.5zM205 10h5.5v5.5h-5.5zM175 15h5.5v5.5h-5.5zM185 15h5.5v5.5h-5.5zM170 20h10.5v5.5h-10.5zM205 20h5.5v5.5h-5.5zM175 25h5.5v5.5h-5.5zM10 30h5.5v5.5h-5.5zM5 35h15.5v5.5h-15.5zM50 35h5.5v5.5h-5.5zM10 40h5.5v5.5h-5.5zM175 45h5.5v5.5h-5.5zM175 50h10.5v5.5h-10.5zM165 55h10.5v5.5h-10.5zM155 60h10.5v5.5h-10.5zM155 65h5.5v5.5h-5.5zM160 75h5.5v5.5h-5.5zM155 80h5.5v5.5h-5.5zM150 85h5.5v5.5h-5.5zM160 90h5.5v5.5h-5.5zM135 170h5.5v5.5h-5.5zM125 175h5.5v5.5h-5.5zM135 175h15.5v5.5h-15.5zM125 180h15.5v5.5h-15.5zM145 180h5.5v5.5h-5.5zM120 185h10.5v5.5h-10.5zM115 190h5.5v5.5h-5.5zM115 195h5.5v5.5h-5.5zM110 200h5.5v5.5h-5.5z"/>
<path fill="#cbb057" d="M105 5h10.5v5.5h-10.5zM160 5h5.5v5.5h-5.5zM85 10h20.5v5.5h-20.5zM65 15h5.5v5.5h-5.5zM80 15h20.5v5.5h-20.5zM30 20h5.5v5.5h-5.5zM55 20h5.5v5.5h-5.5zM165 20h5.5v5.5h-5.5zM65 25h5.5v5.5h-5.5zM95 25h5.5v5.5h-5.5zM170 25h5.5v5.5h-5.5zM35 30h5.5v5.5h-5.5zM95 30h5.5v5.5h-5.5zM25 35h5.5v5.5h-5.5zM60 35h10.5v5.5h-10.5zM155 35h5.5v5.5h-5.5zM50 40h5.5v5.5h-5.5zM65 40h5.5v5.5h-5.5zM160 40h5.5v5.5h-5.5zM150 45h5.5v5.5h-5.5zM160 45h5.5v5.5h-5.5zM10 50h5.5v5.5h-5.5zM25 50h5.5v5.5h-5.5zM75 50h5.5v5.5h-5.5zM85 50h5.5v5.5h-5.5zM155 50h5.5v5.5h-5.5zM15 55h5.5v5.5h-5.5zM80 60h5.5v5.5h-5.5zM15 65h5.5v5.5h-5.5zM10 70h10.5v5.5h-10.5zM145 70h5.5v5.5h-5.5zM15 75h5.5v5.5h-5.5zM135 75h20.5v5.5h-20.5zM70 80h5.5v5.5h-5.5zM135 80h5.5v5.5h-5.5zM135 85h15.5v5.5h-15.5zM15 90h5.5v5.5h-5.5zM75 90h10.5v5.5h-10.5zM135 90h10.5v5.5h-10.5zM15 95h5.5v5.5h-5.5zM135 95h5.5v5.5h-5.5zM145 95h5.5v5.5h-5.5zM10 100h10.5v5.5h-10.5zM15 105h10.5v5.5h-10.5zM140 105h10.5v5.5h-10.5zM60 110h5.5v5.5h-5.5zM135 110h5.5v5.5h-5.5zM15 115h5.5v5.5h-5.5zM65 115h10.5v5.5h-10.5zM80 115h5.5v5.5h-5.5zM135 115h5.5v5.5h-5.5zM145 115h5.5v5.5h-5.5zM10 120h10.5v5.5h-10.5zM140 120h15.5v5.5h-15.5zM80 125h5.5v5.5h-5.5zM135 125h10.5v5.5h-10.5zM80 135h5.5v5.5h-5.5zM75 140h10.5v5.5h-10.5zM75 145h10.5v5.5h-10.5zM75 150h10.5v5.5h-10.5zM135 155h5.5v5.5h-5.5zM130 160h5.5v5.5h-5.5zM75 165h5.5v5.5h-5.5zM130 165h5.5v5.5h-5.5zM120 170h10.5v5.5h-10.5zM15 180h5.5v5.5h-5.5zM20 185h5.5v5.5h-5.5zM95 185h15.5v5.5h-15.5zM90 190h10.5v5.5h-10.5zM90 200h5.5v5.5h-5.5z"/>
<path fill="#ccb55c" d="M115 5h15.5v5.5h-15.5zM155 5h5.5v5.5h-5.5zM105 15h5.5v5.5h-5.5zM65 20h5.5v5.5h-5.5zM75 20h5.5v5.5h-5.5zM85 20h5.5v5.5h-5.5zM100 20h5.5v5.5h-5.5zM70 25h5.5v5.5h-5.5zM80 25h15.5v5.5h-15.5zM65 30h15.5v5.5h-15.5zM85 30h10.5v5.5h-10.5zM100 30h10.5v5.5h-10.5zM80 35h5.5v5.5h-5.5zM90 35h15.5v5.5h-15.5zM110 35h5.5v5.5h-5.5zM150 35h5.5v5.5h-5.5zM160 35h5.5v5.5h-5.5zM70 40h10.5v5.5h-10.5zM95 40h5.5v5.5h-5.5zM155 40h5.5v5.5h-5.5zM40 45h10.5v5.5h-10.5zM70 45h10.5v5.5h-10.5zM90 45h5.5v5.5h-5.5zM145 45h5.5v5.5h-5.5zM60 50h15.5v5.5h-15.5zM25 55h10.5v5.5h-10.5zM65 55h5.5v5.5h-5.5zM75 55h5.5v5.5h-5.5zM145 55h5.5v5.5h-5.5zM25 60h5.5v5.5h-5.5zM60 60h10.5v5.5h-10.5zM90 60h5.5v5.5h-5.5zM140 60h5.5v5.5h-5.5zM20 65h15.5v5.5h-15.5zM65 65h5.5v5.5h-5.5zM80 65h5.5v5.5h-5.5zM25 70h5.5v5.5h-5.5zM60 70h10.5v5.5h-10.5zM25 75h5.5v5.5h-5.5zM70 75h5.5v5.5h-5.5zM130 75h5.5v5.5h-5.5zM25 80h5.5v5.5h-5.5zM65 80h5.5v5.5h-5.5zM75 80h10.5v5.5h-10.5zM130 80h5.5v5.5h-5.5zM25 85h5.5v5.5h-5.5zM65 85h10.5v5.5h-10.5zM85 85h5.5v5.5h-5.5zM130 85h5.5v5.5h-5.5zM60 90h5.5v5.5h-5.5zM130 90h5.5v5.5h-5.5zM20 95h10.5v5.5h-10.5zM50 95h5.5v5.5h-5.5zM60 95h15.5v5.5h-15.5zM45 100h5.5v5.5h-5.5zM55 100h10.5v5.5h-10.5zM70 100h5.5v5.5h-5.5zM95 100h5.5v5.5h-5.5zM25 105h5.5v5.5h-5.5zM55 105h10.5v5.5h-10.5zM75 105h10.5v5.5h-10.5zM90 105h10.5v5.5h-10.5zM55 110h5.5v5.5h-5.5zM70 110h10.5v5.5h-10.5zM85 110h10.5v5.5h-10.5zM60 115h5.5v5.5h-5.5zM85 115h5.5v5.5h-5.5zM130 115h5.5v5.5h-5.5zM20 120h5.5v5.5h-5.5zM65 120h15.5v5.5h-15.5zM130 120h5.5v5.5h-5.5zM10 125h5.5v5.5h-5.5zM60 125h15.5v5.5h-15.5zM125 125h10.5v5.5h-10.5zM85 130h5.5v5.5h-5.5zM130 130h10.5v5.5h-10.5zM145 130h5.5v5.5h-5.5zM65 135h15.5v5.5h-15.5zM85 135h5.5v5.5h-5.5zM65 140h5.5v5.5h-5.5zM85 140h5.5v5.5h-5.5zM65 145h10.5v5.5h-10.5zM85 145h5.5v5.5h-5.5zM70 150h5.5v5.5h-5.5zM135 150h5.5v5.5h-5.5zM70 155h5.5v5.5h-5.5zM80 155h5.5v5.5h-5.5zM90 155h5.5v5.5h-5.5zM5 160h5.5v5.5h-5.5zM85 160h5.5v5.5h-5.5zM100 160h5.5v5.5h-5.5zM125 160h5.5v5.5h-5.5zM0 165h5.5v5.5h-5.5zM30 165h15.5v5.5h-15.5zM65 165h5.5v5.5h-5.5zM90 165h10.5v5.5h-10.5zM105 165h10.5v5.5h-10.5zM0 170h5.5v5.5h-5.5zM30 170h5.5v5.5h-5.5zM70 170h20.5v5.5h-20.5zM95 170h10.5v5.5h-10.5zM20 175h15.5v5.5h-15.5zM40 175h10.5v5.5h-10.5zM80 175h10.5v5.5h-10.5zM95 175h10.5v5.5h-10.5zM20 180h10.5v5.5h-10.5zM35 180h5.5v5.5h-5.5zM85 180h15.5v5.5h-15.5zM85 185h5.5v5.5h-5.5zM20 190h10.5v5.5h-10.5zM85 190h5.5v5.5h-5.5zM25 195h5.5v5.5h-5.5zM85 195h5.5v5.5h-5.5zM25 200h5.5v5.5h-5.5zM85 200h5.5v5.5h-5.5z"/>
<path fill="#d0bf66" d="M145 10h5.5v5.5h-5.5zM115 15h5.5v5.5h-5.5zM140 15h5.5v5.5h-5.5zM155 15h5.5v5.5h-5.5zM110 20h5.5v5.5h-5.5zM125 20h5.5v5.5h-5.5zM115 25h10.5v5.5h-10.5zM150 25h5.5v5.5h-5.5zM140 30h10.5v5.5h-10.5zM125 45h5.5v5.5h-5.5zM130 50h5.5v5.5h-5.5zM100 65h10.5v5.5h-10.5zM50 70h5.5v5.5h-5.5zM95 70h5.5v5.5h-5.5zM105 70h5.5v5.5h-5.5zM40 80h10.5v5.5h-10.5zM115 80h5.5v5.5h-5.5zM45 85h5.5v5.5h-5.5zM90 85h5.5v5.5h-5.5zM120 85h5.5v5.5h-5.5zM40 90h5.5v5.5h-5.5zM95 90h5.5v5.5h-5.5zM35 95h5.5v5.5h-5.5zM100 95h5.5v5.5h-5.5zM125 100h5.5v5.5h-5.5zM45 105h5.5v5.5h-5.5zM125 105h5.5v5.5h-5.5zM100 110h5.5v5.5h-5.5zM125 115h5.5v5.5h-5.5zM25 120h5.5v5.5h-5.5zM95 120h5.5v5.5h-5.5zM25 125h5.5v5.5h-5.5zM95 125h5.5v5.5h-5.5zM120 125h5.5v5.5h-5.5zM115 130h5.5v5.5h-5.5zM5 135h5.5v5.5h-5.5zM20 135h10.5v5.5h-10.5zM35 135h5.5v5.5h-5.5zM115 135h5.5v5.5h-5.5zM0 140h10.5v5.5h-10.5zM110 140h5.5v5.5h-5.5zM5 145h5.5v5.5h-5.5zM25 145h10.5v5.5h-10.5zM50 145h10.5v5.5h-10.5zM0 150h5.5v5.5h-5.5zM10 150h5.5v5.5h-5.5zM45 150h10.5v5.5h-10.5zM100 150h5.5v5.5h-5.5zM110 150h5.5v5.5h-5.5zM120 150h5.5v5.5h-5.5zM15 155h10.5v5.5h-10.5zM55 155h5.5v5.5h-5.5zM110 155h5.5v5.5h-5.5zM120 155h5.5v5.5h-5.5zM20 160h5.5v5.5h-5.5zM50 160h10.5v5.5h-10.5zM110 160h10.5v5.5h-10.5zM20 165h5.5v5.5h-5.5zM70 180h5.5v5.5h-5.5zM40 185h5.5v5.5h-5.5zM40 190h10.5v5.5h-10.5zM45 195h5.5v5.5h-5.5zM60 195h5.5v5.5h-5.5zM80 195h5.5v5.5h-5.5zM40 200h10.5v5.5h-10.5zM60 200h5.5v5.5h-5.5z"/>
<path fill="#d0c169" d="M145 15h5.5v5.5h-5.5zM120 20h5.5v5.5h-5.5zM140 20h5.5v5.5h-5.5zM145 25h5.5v5.5h-5.5zM125 30h5.5v5.5h-5.5zM120 35h5.5v5.5h-5.5zM125 40h5.5v5.5h-5.5zM140 40h5.5v5.5h-5.5zM130 45h10.5v5.5h-10.5zM95 75h20.5v5.5h-20.5zM35 80h5.5v5.5h-5.5zM95 80h5.5v5.5h-5.5zM110 80h5.5v5.5h-5.5zM35 85h5.5v5.5h-5.5zM95 85h5.5v5.5h-5.5zM115 85h5.5v5.5h-5.5zM120 90h5.5v5.5h-5.5zM120 95h5.5v5.5h-5.5zM105 100h10.5v5.5h-10.5zM40 105h5.5v5.5h-5.5zM105 105h5.5v5.5h-5.5zM30 110h5.5v5.5h-5.5zM45 110h5.5v5.5h-5.5zM30 115h5.5v5.5h-5.5zM50 115h5.5v5.5h-5.5zM50 120h5.5v5.5h-5.5zM25 130h10.5v5.5h-10.5zM45 130h5.5v5.5h-5.5zM110 130h5.5v5.5h-5.5zM30 135h5.5v5.5h-5.5zM95 135h5.5v5.5h-5.5zM110 135h5.5v5.5h-5.5zM10 140h5.5v5.5h-5.5zM20 140h10.5v5.5h-10.5zM0 145h5.5v5.5h-5.5zM10 145h10.5v5.5h-10.5zM110 145h5.5v5.5h-5.5zM20 150h10.5v5.5h-10.5zM55 150h5.5v5.5h-5.5zM105 150h5.5v5.5h-5.5zM115 150h5.5v5.5h-5.5zM25 155h5.5v5.5h-5.5zM50 155h5.5v5.5h-5.5zM115 155h5.5v5.5h-5.5zM65 180h5.5v5.5h-5.5zM60 185h20.5v5.5h-20.5zM35 190h5.5v5.5h-5.5zM60 190h5.5v5.5h-5.5zM75 190h5.5v5.5h-5.5zM35 195h10.5v5.5h-10.5zM35 200h5.5v5.5h-5.5z"/>
<path fill="#d1c46b" d="M150 15h5.5v5.5h-5.5zM115 20h5.5v5.5h-5.5zM150 20h5.5v5.5h-5.5zM130 25h15.5v5.5h-15.5zM120 30h5.5v5.5h-5.5zM125 35h5.5v5.5h-5.5zM140 35h5.5v5.5h-5.5zM135 40h5.5v5.5h-5.5zM40 85h5.5v5.5h-5.5zM105 95h10.5v5.5h-10.5zM120 100h5.5v5.5h-5.5zM125 110h5.5v5.5h-5.5zM100 115h10.5v5.5h-10.5zM120 120h5.5v5.5h-5.5zM30 125h5.5v5.5h-5.5zM45 125h5.5v5.5h-5.5zM115 125h5.5v5.5h-5.5zM35 130h10.5v5.5h-10.5zM95 130h5.5v5.5h-5.5zM15 140h5.5v5.5h-5.5zM105 140h5.5v5.5h-5.5zM20 145h5.5v5.5h-5.5zM95 145h15.5v5.5h-15.5zM15 150h5.5v5.5h-5.5zM65 195h5.5v5.5h-5.5zM75 200h5.5v5.5h-5.5z"/>
<path fill="#c6a24b" d="M0 20h5.5v5.5h-5.5zM210 75h10.5v5.5h-10.5zM210 80h5.5v5.5h-5.5zM210 85h5.5v5.5h-5.5zM210 90h10.5v5.5h-10.5zM210 95h5.5v5.5h-5.5zM135 190h5.5v5.5h-5.5zM145 190h5.5v5.5h-5.5zM125 195h10.5v5.5h-10.5zM155 195h5.5v5.5h-5.5zM130 200h5.5v5.5h-5.5z"/>
<path fill="#d2c66e" d="M145 20h5.5v5.5h-5.5zM125 25h5.5v5.5h-5.5zM130 40h5.5v5.5h-5.5zM100 80h10.5v5.5h-10.5zM110 85h5.5v5.5h-5.5zM100 90h20.5v5.5h-20.5zM115 95h5.5v5.5h-5.5zM115 100h5.5v5.5h-5.5zM110 105h5.5v5.5h-5.5zM120 105h5.5v5.5h-5.5zM35 110h5.5v5.5h-5.5zM105 110h10.5v5.5h-10.5zM120 110h5.5v5.5h-5.5zM120 115h5.5v5.5h-5.5zM100 120h5.5v5.5h-5.5zM100 125h5.5v5.5h-5.5zM100 130h5.5v5.5h-5.5zM95 140h10.5v5.5h-10.5zM65 190h10.5v5.5h-10.5zM75 195h5.5v5.5h-5.5z"/>
<path fill="#d3c871" d="M130 30h10.5v5.5h-10.5zM135 35h5.5v5.5h-5.5zM100 85h10.5v5.5h-10.5zM40 110h5.5v5.5h-5.5zM45 115h5.5v5.5h-5.5zM110 115h5.5v5.5h-5.5zM30 120h5.5v5.5h-5.5zM45 120h5.5v5.5h-5.5zM115 120h5.5v5.5h-5.5zM35 125h10.5v5.5h-10.5zM105 125h10.5v5.5h-10.5zM105 130h5.5v5.5h-5.5zM100 135h10.5v5.5h-10.5zM70 195h5.5v5.5h-5.5zM65 200h5.5v5.5h-5.5z"/>
<path fill="#d4cb74" d="M130 35h5.5v5.5h-5.5zM115 105h5.5v5.5h-5.5zM115 110h5.5v5.5h-5.5zM35 120h5.5v5.5h-5.5zM105 120h10.5v5.5h-10.5zM70 200h5.5v5.5h-5.5z"/>
<path fill="#c5a049" d="M210 65h10.5v5.5h-10.5zM210 70h10.5v5.5h-10.5zM215 80h5.5v5.5h-5.5zM215 85h5.5v5.5h-5.5zM205 90h5.5v5.5h-5.5zM215 95h5.5v5.5h-5.5zM150 190h10.5v5.5h-10.5zM135 195h20.5v5.5h-20.5zM140 200h20.5v5.5h-20.5z"/>
<path fill="#c49d47" d="M205 85h5.5v5.5h-5.5zM135 200h5.5v5.5h-5.5z"/>
<path fill="#d5cd77" d="M35 115h10.5v5.5h-10.5zM115 115h5.5v5.5h-5.5zM40 120h5.5v5.5h-5.5z"/>
<path fill="#c19642" d="M210 125h5.5v5.5h-5.5z"/>
<path fill="#c09441" d="M215 125h5.5v5.5h-5.5zM210 130h10.5v5.5h-10.5z"/>
</g>
<path d="M215.3 -1L216.3 50L216.9 100L216.9 131L220 131L220 -1Z" fill="#98b7e2"/>
<path d="M-30.7 0L-25.3 209M0.6 0L6.0 209M31.9 0L37.3 209M63.2 0L68.6 209M94.5 0L99.9 209M125.8 0L131.2 209M157.1 0L162.5 209M188.4 0L193.8 209M219.7 0L225.1 209M0 -8.3L219 -14.0M0 18.6L219 12.9M0 45.5L219 39.8M0 72.4L219 66.7M0 99.3L219 93.6M0 126.2L219 120.5M0 153.1L219 147.4M0 180.0L219 174.3M0 206.9L219 201.2M0 233.8L219 228.1" stroke="#b0b0b0" stroke-width="1.2" fill="none"/>
<path d="M169.7 208.6 L169.7 203.8 L169.2 195.2 L167.5 188.4 L164.9 181.5 L162.4 174.6 L158.9 170.4 L154.6 167.4 L150.4 166.1 L149.8 162.6 L150.9 157.5 L149.2 152.4 L147.8 147.2 L148.6 143.8 L152.1 140.4 L156.4 134.4 L158.9 128.4 L160.1 120.6 L164.1 114.6 L168.4 106.1 L164.1 115.8 L167.5 107.2 L170.9 96.9 L174.4 86.6 L177.8 76.4 L181.2 67.8 L184.6 60.1 L188.9 52.4 L194.1 46.4 L199.2 42.9 L204.4 41.7 L208.6 40.4 L210.9 40.9 L211.6 42.9 L210.4 46.4 L208.1 52.4 L206.4 60.9 L204.7 69.5 L203.0 78.1 L201.3 86.6 L200.1 92.6 L201.8 97.8 L204.4 102.1 L206.0 103.5 L205.7 107.0 L204.0 110.5 L205.0 112.7 L207.5 112.0 L209.0 108.5 L211.0 108.0 L211.7 110.5 L210.5 114.5 L207.5 117.5 L205.3 121.0 L205.3 125.5 L204.5 131.5 L206.0 135.5 L209.5 137.8 L214.0 136.5 L217.0 132.0 L219.5 127.0" stroke="#7a7a7a" stroke-width="1.5" fill="none" stroke-linejoin="round"/>
</g>
<rect x="0" y="0" width="219" height="209" fill="none" stroke="#000" stroke-width="1"/>
</g>
<g transform="translate(478.5 396.5)">
<clipPath id="cp4"><rect x="0" y="0" width="219" height="209"/></clipPath>
<g clip-path="url(#cp4)">
<rect x="0" y="0" width="219" height="209" fill="#98b7e2"/>
<path d="M169.7 208.6 L169.7 203.8 L169.2 195.2 L167.5 188.4 L164.9 181.5 L162.4 174.6 L158.9 170.4 L154.6 167.4 L150.4 166.1 L149.8 162.6 L150.9 157.5 L149.2 152.4 L147.8 147.2 L148.6 143.8 L152.1 140.4 L156.4 134.4 L158.9 128.4 L160.1 120.6 L164.1 114.6 L168.4 106.1 L164.1 115.8 L167.5 107.2 L170.9 96.9 L174.4 86.6 L177.8 76.4 L181.2 67.8 L184.6 60.1 L188.9 52.4 L194.1 46.4 L199.2 42.9 L204.4 41.7 L208.6 40.4 L210.9 40.9 L211.6 42.9 L210.4 46.4 L208.1 52.4 L206.4 60.9 L204.7 69.5 L203.0 78.1 L201.3 86.6 L200.1 92.6 L201.8 97.8 L204.4 102.1 L206.0 103.5 L205.7 107.0 L204.0 110.5 L205.0 112.7 L207.5 112.0 L209.0 108.5 L211.0 108.0 L211.7 110.5 L210.5 114.5 L207.5 117.5 L205.3 121.0 L205.3 125.5 L204.5 131.5 L206.0 135.5 L209.5 137.8 L214.0 136.5 L217.0 132.0 L219.5 127.0 L221.0 127.0 L221.0 211.0 L169.7 211.0Z" fill="#efefdb"/>
<g transform="matrix(0.9880 -0.02470 0.01780 0.9890 1.50 4.60)" shape-rendering="crispEdges">
<path fill="#c7a74f" d="M0 0h5.5v5.5h-5.5zM30 0h15.5v5.5h-15.5zM185 0h10.5v5.5h-10.5zM0 5h5.5v5.5h-5.5zM35 5h5.5v5.5h-5.5zM190 5h5.5v5.5h-5.5zM0 10h5.5v5.5h-5.5zM200 10h5.5v5.5h-5.5zM190 15h10.5v5.5h-10.5zM195 20h10.5v5.5h-10.5zM185 25h5.5v5.5h-5.5zM195 25h5.5v5.5h-5.5zM205 25h10.5v5.5h-10.5zM10 30h5.5v5.5h-5.5zM180 30h5.5v5.5h-5.5zM195 30h10.5v5.5h-10.5zM180 35h10.5v5.5h-10.5zM200 35h5.5v5.5h-5.5zM210 35h5.5v5.5h-5.5zM170 40h10.5v5.5h-10.5zM185 40h5.5v5.5h-5.5zM160 45h5.5v5.5h-5.5zM170 45h15.5v5.5h-15.5zM160 50h10.5v5.5h-10.5zM175 55h5.5v5.5h-5.5zM170 60h5.5v5.5h-5.5zM165 65h10.5v5.5h-10.5zM170 70h5.5v5.5h-5.5zM160 80h10.5v5.5h-10.5zM160 95h5.5v5.5h-5.5zM0 150h5.5v5.5h-5.5zM5 160h5.5v5.5h-5.5zM140 170h5.5v5.5h-5.5zM140 175h10.5v5.5h-10.5zM130 185h5.5v5.5h-5.5zM125 195h5.5v5.5h-5.5zM125 200h5.5v5.5h-5.5z"/>
<path fill="#e9f6ab" d="M5 0h25.5v5.5h-25.5zM5 5h25.5v5.5h-25.5zM5 10h25.5v5.5h-25.5zM0 15h25.5v5.5h-25.5zM5 20h25.5v5.5h-25.5zM10 25h20.5v5.5h-20.5zM20 30h5.5v5.5h-5.5zM205 35h5.5v5.5h-5.5zM195 40h25.5v5.5h-25.5zM190 45h30.5v5.5h-30.5zM185 50h35.5v5.5h-35.5zM180 55h40.5v5.5h-40.5zM175 60h45.5v5.5h-45.5zM175 65h35.5v5.5h-35.5zM175 70h45.5v5.5h-45.5zM170 75h50.5v5.5h-50.5zM170 80h50.5v5.5h-50.5zM165 85h40.5v5.5h-40.5zM5 90h5.5v5.5h-5.5zM165 90h40.5v5.5h-40.5zM5 95h5.5v5.5h-5.5zM165 95h45.5v5.5h-45.5zM5 100h5.5v5.5h-5.5zM160 100h60.5v5.5h-60.5zM160 105h60.5v5.5h-60.5zM160 110h60.5v5.5h-60.5zM0 115h10.5v5.5h-10.5zM160 115h60.5v5.5h-60.5zM0 120h10.5v5.5h-10.5zM155 120h65.5v5.5h-65.5zM0 125h10.5v5.5h-10.5zM150 125h60.5v5.5h-60.5zM0 130h10.5v5.5h-10.5zM150 130h60.5v5.5h-60.5zM0 135h5.5v5.5h-5.5zM145 135h75.5v5.5h-75.5zM140 140h80.5v5.5h-80.5zM140 145h80.5v5.5h-80.5zM140 150h80.5v5.5h-80.5zM140 155h80.5v5.5h-80.5zM140 160h80.5v5.5h-80.5zM145 165h75.5v5.5h-75.5zM145 170h75.5v5.5h-75.5zM5 175h10.5v5.5h-10.5zM155 175h65.5v5.5h-65.5zM0 180h15.5v5.5h-15.5zM155 180h65.5v5.5h-65.5zM0 185h15.5v5.5h-15.5zM155 185h65.5v5.5h-65.5zM0 190h15.5v5.5h-15.5zM160 190h60.5v5.5h-60.5zM0 195h20.5v5.5h-20.5zM160 195h60.5v5.5h-60.5zM0 200h25.5v5.5h-25.5zM160 200h60.5v5.5h-60.5z"/>
<path fill="#c8a950" d="M45 0h5.5v5.5h-5.5zM65 0h5.5v5.5h-5.5zM80 0h10.5v5.5h-10.5zM140 0h5.5v5.5h-5.5zM40 5h5.5v5.5h-5.5zM135 5h10.5v5.5h-10.5zM180 5h10.5v5.5h-10.5zM35 10h5.5v5.5h-5.5zM190 10h10.5v5.5h-10.5zM165 20h5.5v5.5h-5.5zM185 20h10.5v5.5h-10.5zM210 20h10.5v5.5h-10.5zM170 25h15.5v5.5h-15.5zM190 25h5.5v5.5h-5.5zM215 25h5.5v5.5h-5.5zM170 30h10.5v5.5h-10.5zM215 30h5.5v5.5h-5.5zM5 35h5.5v5.5h-5.5zM170 35h10.5v5.5h-10.5zM190 35h5.5v5.5h-5.5zM160 40h10.5v5.5h-10.5zM180 40h5.5v5.5h-5.5zM185 45h5.5v5.5h-5.5zM180 50h5.5v5.5h-5.5zM160 55h10.5v5.5h-10.5zM160 60h5.5v5.5h-5.5zM160 70h5.5v5.5h-5.5zM160 75h5.5v5.5h-5.5zM160 85h5.5v5.5h-5.5zM160 90h5.5v5.5h-5.5zM5 150h5.5v5.5h-5.5zM5 155h10.5v5.5h-10.5zM0 165h10.5v5.5h-10.5zM135 175h5.5v5.5h-5.5zM130 180h5.5v5.5h-5.5zM125 185h5.5v5.5h-5.5z"/>
<path fill="#c9ac52" d="M50 0h15.5v5.5h-15.5zM70 0h10.5v5.5h-10.5zM95 0h5.5v5.5h-5.5zM120 0h10.5v5.5h-10.5zM135 0h5.5v5.5h-5.5zM145 0h5.5v5.5h-5.5zM180 0h5.5v5.5h-5.5zM45 5h5.5v5.5h-5.5zM55 5h5.5v5.5h-5.5zM65 5h10.5v5.5h-10.5zM85 5h5.5v5.5h-5.5zM100 5h5.5v5.5h-5.5zM110 5h5.5v5.5h-5.5zM125 5h5.5v5.5h-5.5zM145 5h5.5v5.5h-5.5zM30 10h5.5v5.5h-5.5zM40 10h5.5v5.5h-5.5zM95 10h5.5v5.5h-5.5zM145 10h5.5v5.5h-5.5zM185 10h5.5v5.5h-5.5zM35 15h5.5v5.5h-5.5zM160 25h10.5v5.5h-10.5zM15 30h5.5v5.5h-5.5zM165 30h5.5v5.5h-5.5zM160 35h5.5v5.5h-5.5zM155 45h5.5v5.5h-5.5zM155 60h5.5v5.5h-5.5zM160 65h5.5v5.5h-5.5zM210 90h5.5v5.5h-5.5zM215 95h5.5v5.5h-5.5zM0 100h5.5v5.5h-5.5zM150 100h10.5v5.5h-10.5zM0 105h10.5v5.5h-10.5zM150 105h10.5v5.5h-10.5zM5 110h5.5v5.5h-5.5zM210 125h5.5v5.5h-5.5zM215 130h5.5v5.5h-5.5zM10 150h5.5v5.5h-5.5zM10 160h5.5v5.5h-5.5zM130 170h10.5v5.5h-10.5zM130 175h5.5v5.5h-5.5zM125 180h5.5v5.5h-5.5zM120 185h5.5v5.5h-5.5zM120 190h5.5v5.5h-5.5zM120 200h5.5v5.5h-5.5z"/>
<path fill="#caae54" d="M90 0h5.5v5.5h-5.5zM100 0h20.5v5.5h-20.5zM130 0h5.5v5.5h-5.5zM150 0h5.5v5.5h-5.5zM50 5h5.5v5.5h-5.5zM60 5h5.5v5.5h-5.5zM75 5h10.5v5.5h-10.5zM90 5h10.5v5.5h-10.5zM105 5h5.5v5.5h-5.5zM115 5h5.5v5.5h-5.5zM105 10h5.5v5.5h-5.5zM120 10h5.5v5.5h-5.5zM140 10h5.5v5.5h-5.5zM30 15h5.5v5.5h-5.5zM40 15h5.5v5.5h-5.5zM175 15h15.5v5.5h-15.5zM160 20h5.5v5.5h-5.5zM170 20h15.5v5.5h-15.5zM155 25h5.5v5.5h-5.5zM160 30h5.5v5.5h-5.5zM0 35h5.5v5.5h-5.5zM10 35h5.5v5.5h-5.5zM165 35h5.5v5.5h-5.5zM65 40h5.5v5.5h-5.5zM155 40h5.5v5.5h-5.5zM155 50h5.5v5.5h-5.5zM155 55h5.5v5.5h-5.5zM155 70h5.5v5.5h-5.5zM155 75h5.5v5.5h-5.5zM155 85h5.5v5.5h-5.5zM205 85h15.5v5.5h-15.5zM155 90h5.5v5.5h-5.5zM205 90h5.5v5.5h-5.5zM215 90h5.5v5.5h-5.5zM150 95h10.5v5.5h-10.5zM210 95h5.5v5.5h-5.5zM145 100h5.5v5.5h-5.5zM145 105h5.5v5.5h-5.5zM215 125h5.5v5.5h-5.5zM210 130h5.5v5.5h-5.5zM0 145h10.5v5.5h-10.5zM10 165h5.5v5.5h-5.5zM130 165h15.5v5.5h-15.5zM0 170h15.5v5.5h-15.5zM125 175h5.5v5.5h-5.5zM115 180h10.5v5.5h-10.5zM115 185h5.5v5.5h-5.5zM115 190h5.5v5.5h-5.5zM115 195h10.5v5.5h-10.5z"/>
<path fill="#cdb85e" d="M155 0h5.5v5.5h-5.5zM155 5h5.5v5.5h-5.5zM65 10h5.5v5.5h-5.5zM50 15h5.5v5.5h-5.5zM35 20h5.5v5.5h-5.5zM135 20h5.5v5.5h-5.5zM85 25h5.5v5.5h-5.5zM95 25h5.5v5.5h-5.5zM130 25h15.5v5.5h-15.5zM25 30h5.5v5.5h-5.5zM65 30h5.5v5.5h-5.5zM85 30h5.5v5.5h-5.5zM120 30h5.5v5.5h-5.5zM130 30h15.5v5.5h-15.5zM25 35h5.5v5.5h-5.5zM60 35h5.5v5.5h-5.5zM80 35h5.5v5.5h-5.5zM130 35h5.5v5.5h-5.5zM5 40h5.5v5.5h-5.5zM105 40h5.5v5.5h-5.5zM115 40h5.5v5.5h-5.5zM30 45h5.5v5.5h-5.5zM110 45h5.5v5.5h-5.5zM120 45h5.5v5.5h-5.5zM30 50h5.5v5.5h-5.5zM75 50h5.5v5.5h-5.5zM105 50h10.5v5.5h-10.5zM120 50h10.5v5.5h-10.5zM30 55h5.5v5.5h-5.5zM105 55h15.5v5.5h-15.5zM125 55h5.5v5.5h-5.5zM145 55h5.5v5.5h-5.5zM5 60h5.5v5.5h-5.5zM25 60h5.5v5.5h-5.5zM105 60h5.5v5.5h-5.5zM125 60h5.5v5.5h-5.5zM20 65h5.5v5.5h-5.5zM80 65h5.5v5.5h-5.5zM25 70h5.5v5.5h-5.5zM95 70h5.5v5.5h-5.5zM25 75h5.5v5.5h-5.5zM90 75h5.5v5.5h-5.5zM95 80h5.5v5.5h-5.5zM125 80h5.5v5.5h-5.5zM15 85h5.5v5.5h-5.5zM90 85h10.5v5.5h-10.5zM120 85h5.5v5.5h-5.5zM25 90h5.5v5.5h-5.5zM35 90h5.5v5.5h-5.5zM105 90h10.5v5.5h-10.5zM120 90h10.5v5.5h-10.5zM15 95h5.5v5.5h-5.5zM30 95h5.5v5.5h-5.5zM110 95h5.5v5.5h-5.5zM20 100h5.5v5.5h-5.5zM30 105h5.5v5.5h-5.5zM125 105h5.5v5.5h-5.5zM30 110h5.5v5.5h-5.5zM125 110h5.5v5.5h-5.5zM135 110h5.5v5.5h-5.5zM15 115h5.5v5.5h-5.5zM30 115h5.5v5.5h-5.5zM50 115h5.5v5.5h-5.5zM145 115h5.5v5.5h-5.5zM35 120h10.5v5.5h-10.5zM100 120h5.5v5.5h-5.5zM115 120h5.5v5.5h-5.5zM150 120h5.5v5.5h-5.5zM40 125h10.5v5.5h-10.5zM100 125h10.5v5.5h-10.5zM35 130h10.5v5.5h-10.5zM5 135h5.5v5.5h-5.5zM115 135h10.5v5.5h-10.5zM15 140h5.5v5.5h-5.5zM30 140h10.5v5.5h-10.5zM120 140h5.5v5.5h-5.5zM130 140h5.5v5.5h-5.5zM15 145h10.5v5.5h-10.5zM30 145h10.5v5.5h-10.5zM45 145h10.5v5.5h-10.5zM100 145h5.5v5.5h-5.5zM130 145h10.5v5.5h-10.5zM20 150h5.5v5.5h-5.5zM55 150h10.5v5.5h-10.5zM100 150h5.5v5.5h-5.5zM55 155h15.5v5.5h-15.5zM95 155h5.5v5.5h-5.5zM130 155h10.5v5.5h-10.5zM60 160h5.5v5.5h-5.5zM130 160h5.5v5.5h-5.5zM20 165h5.5v5.5h-5.5zM60 165h5.5v5.5h-5.5zM60 170h5.5v5.5h-5.5zM105 170h5.5v5.5h-5.5zM20 175h5.5v5.5h-5.5zM40 180h5.5v5.5h-5.5zM55 180h10.5v5.5h-10.5zM80 180h5.5v5.5h-5.5zM65 185h5.5v5.5h-5.5zM75 185h5.5v5.5h-5.5zM75 195h5.5v5.5h-5.5zM75 200h5.5v5.5h-5.5z"/>
<path fill="#cfbc64" d="M160 0h5.5v5.5h-5.5zM165 5h5.5v5.5h-5.5zM80 15h5.5v5.5h-5.5zM45 20h5.5v5.5h-5.5zM80 20h5.5v5.5h-5.5zM30 25h5.5v5.5h-5.5zM70 25h15.5v5.5h-15.5zM60 30h5.5v5.5h-5.5zM55 35h5.5v5.5h-5.5zM20 40h20.5v5.5h-20.5zM45 40h5.5v5.5h-5.5zM25 45h5.5v5.5h-5.5zM115 45h5.5v5.5h-5.5zM25 50h5.5v5.5h-5.5zM115 50h5.5v5.5h-5.5zM20 55h10.5v5.5h-10.5zM105 65h5.5v5.5h-5.5zM105 70h5.5v5.5h-5.5zM95 75h5.5v5.5h-5.5zM125 75h5.5v5.5h-5.5zM100 80h10.5v5.5h-10.5zM120 80h5.5v5.5h-5.5zM105 85h15.5v5.5h-15.5zM140 115h5.5v5.5h-5.5zM30 120h5.5v5.5h-5.5zM35 125h5.5v5.5h-5.5zM115 125h10.5v5.5h-10.5zM145 125h5.5v5.5h-5.5zM10 130h5.5v5.5h-5.5zM10 135h5.5v5.5h-5.5zM125 135h10.5v5.5h-10.5zM25 140h5.5v5.5h-5.5zM40 150h5.5v5.5h-5.5zM25 155h5.5v5.5h-5.5zM20 160h5.5v5.5h-5.5zM50 160h10.5v5.5h-10.5zM25 165h5.5v5.5h-5.5zM50 165h10.5v5.5h-10.5zM25 170h5.5v5.5h-5.5zM45 170h10.5v5.5h-10.5zM25 175h15.5v5.5h-15.5zM45 175h10.5v5.5h-10.5zM50 180h5.5v5.5h-5.5zM30 185h15.5v5.5h-15.5zM50 185h5.5v5.5h-5.5zM65 190h5.5v5.5h-5.5zM70 200h5.5v5.5h-5.5z"/>
<path fill="#d0bf66" d="M165 0h5.5v5.5h-5.5zM55 15h5.5v5.5h-5.5zM65 15h5.5v5.5h-5.5zM75 15h5.5v5.5h-5.5zM75 20h5.5v5.5h-5.5zM35 25h10.5v5.5h-10.5zM65 25h5.5v5.5h-5.5zM30 30h5.5v5.5h-5.5zM30 35h5.5v5.5h-5.5zM0 55h10.5v5.5h-10.5zM115 60h5.5v5.5h-5.5zM110 65h15.5v5.5h-15.5zM120 70h5.5v5.5h-5.5zM105 75h5.5v5.5h-5.5zM120 75h5.5v5.5h-5.5zM110 80h5.5v5.5h-5.5zM130 115h10.5v5.5h-10.5zM25 120h5.5v5.5h-5.5zM125 120h5.5v5.5h-5.5zM140 120h5.5v5.5h-5.5zM15 125h5.5v5.5h-5.5zM140 125h5.5v5.5h-5.5zM15 130h5.5v5.5h-5.5zM30 130h5.5v5.5h-5.5zM120 130h10.5v5.5h-10.5zM15 135h5.5v5.5h-5.5zM25 135h5.5v5.5h-5.5zM135 135h10.5v5.5h-10.5zM35 150h5.5v5.5h-5.5zM40 155h15.5v5.5h-15.5zM25 160h5.5v5.5h-5.5zM45 165h5.5v5.5h-5.5zM35 170h10.5v5.5h-10.5zM45 185h5.5v5.5h-5.5zM55 185h5.5v5.5h-5.5zM15 190h5.5v5.5h-5.5zM25 195h5.5v5.5h-5.5z"/>
<path fill="#ceba61" d="M170 0h5.5v5.5h-5.5zM160 5h5.5v5.5h-5.5zM170 5h5.5v5.5h-5.5zM70 10h5.5v5.5h-5.5zM85 15h5.5v5.5h-5.5zM40 20h5.5v5.5h-5.5zM85 20h10.5v5.5h-10.5zM90 25h5.5v5.5h-5.5zM10 40h10.5v5.5h-10.5zM40 40h5.5v5.5h-5.5zM50 40h5.5v5.5h-5.5zM120 40h5.5v5.5h-5.5zM125 45h5.5v5.5h-5.5zM120 55h5.5v5.5h-5.5zM0 60h5.5v5.5h-5.5zM10 60h15.5v5.5h-15.5zM110 60h5.5v5.5h-5.5zM120 60h5.5v5.5h-5.5zM15 65h5.5v5.5h-5.5zM100 65h5.5v5.5h-5.5zM125 65h5.5v5.5h-5.5zM100 70h5.5v5.5h-5.5zM125 70h5.5v5.5h-5.5zM100 75h5.5v5.5h-5.5zM100 85h5.5v5.5h-5.5zM115 90h5.5v5.5h-5.5zM20 95h5.5v5.5h-5.5zM25 100h5.5v5.5h-5.5zM20 105h10.5v5.5h-10.5zM20 110h10.5v5.5h-10.5zM130 110h5.5v5.5h-5.5zM20 115h10.5v5.5h-10.5zM125 115h5.5v5.5h-5.5zM15 120h5.5v5.5h-5.5zM120 120h5.5v5.5h-5.5zM145 120h5.5v5.5h-5.5zM10 125h5.5v5.5h-5.5zM115 130h5.5v5.5h-5.5zM30 135h10.5v5.5h-10.5zM10 140h5.5v5.5h-5.5zM20 140h5.5v5.5h-5.5zM135 140h5.5v5.5h-5.5zM25 145h5.5v5.5h-5.5zM25 150h10.5v5.5h-10.5zM45 150h10.5v5.5h-10.5zM130 150h10.5v5.5h-10.5zM20 155h5.5v5.5h-5.5zM20 170h5.5v5.5h-5.5zM55 170h5.5v5.5h-5.5zM40 175h5.5v5.5h-5.5zM55 175h10.5v5.5h-10.5zM20 180h20.5v5.5h-20.5zM45 180h5.5v5.5h-5.5zM15 185h15.5v5.5h-15.5zM60 185h5.5v5.5h-5.5zM70 195h5.5v5.5h-5.5z"/>
<path fill="#ccb359" d="M175 0h5.5v5.5h-5.5zM120 5h5.5v5.5h-5.5zM150 5h5.5v5.5h-5.5zM175 5h5.5v5.5h-5.5zM50 10h5.5v5.5h-5.5zM80 10h5.5v5.5h-5.5zM90 10h5.5v5.5h-5.5zM130 10h5.5v5.5h-5.5zM150 10h5.5v5.5h-5.5zM175 10h5.5v5.5h-5.5zM45 15h5.5v5.5h-5.5zM90 15h10.5v5.5h-10.5zM105 15h15.5v5.5h-15.5zM125 15h5.5v5.5h-5.5zM135 15h20.5v5.5h-20.5zM110 20h15.5v5.5h-15.5zM150 20h5.5v5.5h-5.5zM105 25h10.5v5.5h-10.5zM150 25h5.5v5.5h-5.5zM95 30h5.5v5.5h-5.5zM105 30h5.5v5.5h-5.5zM115 30h5.5v5.5h-5.5zM125 30h5.5v5.5h-5.5zM155 30h5.5v5.5h-5.5zM70 35h5.5v5.5h-5.5zM90 35h10.5v5.5h-10.5zM110 35h5.5v5.5h-5.5zM125 35h5.5v5.5h-5.5zM155 35h5.5v5.5h-5.5zM70 40h20.5v5.5h-20.5zM145 40h5.5v5.5h-5.5zM40 45h10.5v5.5h-10.5zM60 45h5.5v5.5h-5.5zM90 45h5.5v5.5h-5.5zM100 45h5.5v5.5h-5.5zM130 45h5.5v5.5h-5.5zM150 45h5.5v5.5h-5.5zM35 50h5.5v5.5h-5.5zM95 50h10.5v5.5h-10.5zM130 50h5.5v5.5h-5.5zM40 55h10.5v5.5h-10.5zM65 55h40.5v5.5h-40.5zM130 55h15.5v5.5h-15.5zM150 55h5.5v5.5h-5.5zM35 60h10.5v5.5h-10.5zM55 60h5.5v5.5h-5.5zM65 60h5.5v5.5h-5.5zM80 60h15.5v5.5h-15.5zM100 60h5.5v5.5h-5.5zM130 60h10.5v5.5h-10.5zM0 65h5.5v5.5h-5.5zM40 65h25.5v5.5h-25.5zM70 65h5.5v5.5h-5.5zM85 65h5.5v5.5h-5.5zM0 70h5.5v5.5h-5.5zM10 70h5.5v5.5h-5.5zM30 70h10.5v5.5h-10.5zM55 70h10.5v5.5h-10.5zM80 70h15.5v5.5h-15.5zM130 70h25.5v5.5h-25.5zM0 75h25.5v5.5h-25.5zM30 75h20.5v5.5h-20.5zM60 75h20.5v5.5h-20.5zM150 75h5.5v5.5h-5.5zM15 80h15.5v5.5h-15.5zM35 80h25.5v5.5h-25.5zM70 80h5.5v5.5h-5.5zM80 80h5.5v5.5h-5.5zM90 80h5.5v5.5h-5.5zM135 80h5.5v5.5h-5.5zM150 80h5.5v5.5h-5.5zM0 85h10.5v5.5h-10.5zM20 85h5.5v5.5h-5.5zM35 85h10.5v5.5h-10.5zM55 85h20.5v5.5h-20.5zM85 85h5.5v5.5h-5.5zM125 85h5.5v5.5h-5.5zM150 85h5.5v5.5h-5.5zM0 90h5.5v5.5h-5.5zM10 90h5.5v5.5h-5.5zM20 90h5.5v5.5h-5.5zM30 90h5.5v5.5h-5.5zM45 90h5.5v5.5h-5.5zM55 90h5.5v5.5h-5.5zM70 90h15.5v5.5h-15.5zM130 90h5.5v5.5h-5.5zM140 90h5.5v5.5h-5.5zM40 95h5.5v5.5h-5.5zM50 95h5.5v5.5h-5.5zM65 95h5.5v5.5h-5.5zM75 95h10.5v5.5h-10.5zM95 95h5.5v5.5h-5.5zM125 95h15.5v5.5h-15.5zM10 100h5.5v5.5h-5.5zM40 100h10.5v5.5h-10.5zM55 100h15.5v5.5h-15.5zM85 100h10.5v5.5h-10.5zM135 100h5.5v5.5h-5.5zM45 105h15.5v5.5h-15.5zM65 105h20.5v5.5h-20.5zM90 105h5.5v5.5h-5.5zM100 105h10.5v5.5h-10.5zM115 105h5.5v5.5h-5.5zM140 105h5.5v5.5h-5.5zM45 110h5.5v5.5h-5.5zM55 110h15.5v5.5h-15.5zM75 110h15.5v5.5h-15.5zM100 110h20.5v5.5h-20.5zM145 110h5.5v5.5h-5.5zM10 115h5.5v5.5h-5.5zM45 115h5.5v5.5h-5.5zM55 115h15.5v5.5h-15.5zM75 115h10.5v5.5h-10.5zM90 115h10.5v5.5h-10.5zM115 115h5.5v5.5h-5.5zM150 115h5.5v5.5h-5.5zM50 120h5.5v5.5h-5.5zM60 120h5.5v5.5h-5.5zM70 120h10.5v5.5h-10.5zM90 120h10.5v5.5h-10.5zM105 120h5.5v5.5h-5.5zM55 125h5.5v5.5h-5.5zM75 125h10.5v5.5h-10.5zM45 130h10.5v5.5h-10.5zM60 130h5.5v5.5h-5.5zM70 130h10.5v5.5h-10.5zM95 130h10.5v5.5h-10.5zM45 135h5.5v5.5h-5.5zM55 135h5.5v5.5h-5.5zM65 135h10.5v5.5h-10.5zM85 135h10.5v5.5h-10.5zM100 135h5.5v5.5h-5.5zM5 140h5.5v5.5h-5.5zM40 140h10.5v5.5h-10.5zM60 140h25.5v5.5h-25.5zM90 140h10.5v5.5h-10.5zM105 140h15.5v5.5h-15.5zM40 145h5.5v5.5h-5.5zM60 145h10.5v5.5h-10.5zM90 145h10.5v5.5h-10.5zM105 145h10.5v5.5h-10.5zM70 150h10.5v5.5h-10.5zM90 150h10.5v5.5h-10.5zM105 150h5.5v5.5h-5.5zM115 150h5.5v5.5h-5.5zM75 160h10.5v5.5h-10.5zM90 160h15.5v5.5h-15.5zM110 160h5.5v5.5h-5.5zM135 160h5.5v5.5h-5.5zM15 165h5.5v5.5h-5.5zM65 165h10.5v5.5h-10.5zM80 165h10.5v5.5h-10.5zM100 165h15.5v5.5h-15.5zM125 165h5.5v5.5h-5.5zM15 170h5.5v5.5h-5.5zM80 170h5.5v5.5h-5.5zM90 170h10.5v5.5h-10.5zM115 170h15.5v5.5h-15.5zM90 175h5.5v5.5h-5.5zM100 175h10.5v5.5h-10.5zM115 175h5.5v5.5h-5.5zM65 180h10.5v5.5h-10.5zM85 180h5.5v5.5h-5.5zM95 180h10.5v5.5h-10.5zM80 185h10.5v5.5h-10.5zM95 185h5.5v5.5h-5.5zM105 185h10.5v5.5h-10.5zM80 190h5.5v5.5h-5.5zM110 190h5.5v5.5h-5.5zM80 195h10.5v5.5h-10.5zM105 195h10.5v5.5h-10.5zM85 200h10.5v5.5h-10.5zM100 200h10.5v5.5h-10.5z"/>
<path fill="#c6a44d" d="M195 0h10.5v5.5h-10.5zM30 5h5.5v5.5h-5.5zM195 5h5.5v5.5h-5.5zM215 10h5.5v5.5h-5.5zM200 15h20.5v5.5h-20.5zM0 20h5.5v5.5h-5.5zM205 20h5.5v5.5h-5.5zM5 25h5.5v5.5h-5.5zM200 25h5.5v5.5h-5.5zM0 30h10.5v5.5h-10.5zM190 30h5.5v5.5h-5.5zM205 30h10.5v5.5h-10.5zM195 35h5.5v5.5h-5.5zM215 35h5.5v5.5h-5.5zM190 40h5.5v5.5h-5.5zM165 45h5.5v5.5h-5.5zM175 50h5.5v5.5h-5.5zM170 55h5.5v5.5h-5.5zM165 60h5.5v5.5h-5.5zM165 70h5.5v5.5h-5.5zM165 75h5.5v5.5h-5.5zM0 110h5.5v5.5h-5.5zM0 155h5.5v5.5h-5.5zM0 160h5.5v5.5h-5.5zM135 180h5.5v5.5h-5.5zM145 180h5.5v5.5h-5.5zM135 185h5.5v5.5h-5.5zM125 190h10.5v5.5h-10.5zM130 200h5.5v5.5h-5.5z"/>
<path fill="#c6a24b" d="M205 0h5.5v5.5h-5.5zM200 5h5.5v5.5h-5.5zM210 5h5.5v5.5h-5.5zM205 10h10.5v5.5h-10.5zM0 25h5.5v5.5h-5.5zM185 30h5.5v5.5h-5.5zM170 50h5.5v5.5h-5.5zM215 65h5.5v5.5h-5.5zM150 175h5.5v5.5h-5.5zM140 180h5.5v5.5h-5.5zM140 185h5.5v5.5h-5.5zM130 195h5.5v5.5h-5.5zM135 200h5.5v5.5h-5.5z"/>
<path fill="#c5a049" d="M210 0h5.5v5.5h-5.5zM205 5h5.5v5.5h-5.5zM215 5h5.5v5.5h-5.5zM210 65h5.5v5.5h-5.5zM150 180h5.5v5.5h-5.5zM145 185h5.5v5.5h-5.5zM135 190h10.5v5.5h-10.5zM135 195h5.5v5.5h-5.5z"/>
<path fill="#c49d47" d="M215 0h5.5v5.5h-5.5zM140 195h5.5v5.5h-5.5z"/>
<path fill="#cbb057" d="M130 5h5.5v5.5h-5.5zM45 10h5.5v5.5h-5.5zM85 10h5.5v5.5h-5.5zM100 10h5.5v5.5h-5.5zM110 10h10.5v5.5h-10.5zM125 10h5.5v5.5h-5.5zM135 10h5.5v5.5h-5.5zM180 10h5.5v5.5h-5.5zM25 15h5.5v5.5h-5.5zM120 15h5.5v5.5h-5.5zM155 15h20.5v5.5h-20.5zM155 20h5.5v5.5h-5.5zM150 30h5.5v5.5h-5.5zM15 35h5.5v5.5h-5.5zM75 35h5.5v5.5h-5.5zM100 40h5.5v5.5h-5.5zM150 40h5.5v5.5h-5.5zM135 45h5.5v5.5h-5.5zM40 50h15.5v5.5h-15.5zM60 50h5.5v5.5h-5.5zM150 50h5.5v5.5h-5.5zM50 55h5.5v5.5h-5.5zM50 60h5.5v5.5h-5.5zM95 60h5.5v5.5h-5.5zM135 65h5.5v5.5h-5.5zM150 65h10.5v5.5h-10.5zM85 75h5.5v5.5h-5.5zM155 80h5.5v5.5h-5.5zM25 85h5.5v5.5h-5.5zM50 90h5.5v5.5h-5.5zM135 90h5.5v5.5h-5.5zM150 90h5.5v5.5h-5.5zM0 95h5.5v5.5h-5.5zM45 95h5.5v5.5h-5.5zM70 95h5.5v5.5h-5.5zM140 95h10.5v5.5h-10.5zM140 100h5.5v5.5h-5.5zM10 105h5.5v5.5h-5.5zM40 105h5.5v5.5h-5.5zM110 105h5.5v5.5h-5.5zM10 110h5.5v5.5h-5.5zM40 110h5.5v5.5h-5.5zM50 110h5.5v5.5h-5.5zM70 110h5.5v5.5h-5.5zM150 110h10.5v5.5h-10.5zM110 115h5.5v5.5h-5.5zM155 115h5.5v5.5h-5.5zM90 125h5.5v5.5h-5.5zM50 135h5.5v5.5h-5.5zM50 140h5.5v5.5h-5.5zM85 140h5.5v5.5h-5.5zM10 145h5.5v5.5h-5.5zM85 145h5.5v5.5h-5.5zM115 145h5.5v5.5h-5.5zM15 150h5.5v5.5h-5.5zM80 150h5.5v5.5h-5.5zM85 155h5.5v5.5h-5.5zM110 155h5.5v5.5h-5.5zM15 160h5.5v5.5h-5.5zM90 165h5.5v5.5h-5.5zM0 175h5.5v5.5h-5.5zM110 175h5.5v5.5h-5.5zM120 175h5.5v5.5h-5.5zM75 180h5.5v5.5h-5.5zM105 180h10.5v5.5h-10.5zM105 190h5.5v5.5h-5.5zM110 200h10.5v5.5h-10.5z"/>
<path fill="#ccb55c" d="M55 10h10.5v5.5h-10.5zM75 10h5.5v5.5h-5.5zM155 10h20.5v5.5h-20.5zM100 15h5.5v5.5h-5.5zM130 15h5.5v5.5h-5.5zM30 20h5.5v5.5h-5.5zM95 20h15.5v5.5h-15.5zM125 20h10.5v5.5h-10.5zM140 20h10.5v5.5h-10.5zM100 25h5.5v5.5h-5.5zM115 25h15.5v5.5h-15.5zM145 25h5.5v5.5h-5.5zM70 30h15.5v5.5h-15.5zM90 30h5.5v5.5h-5.5zM100 30h5.5v5.5h-5.5zM110 30h5.5v5.5h-5.5zM145 30h5.5v5.5h-5.5zM20 35h5.5v5.5h-5.5zM65 35h5.5v5.5h-5.5zM85 35h5.5v5.5h-5.5zM100 35h10.5v5.5h-10.5zM115 35h10.5v5.5h-10.5zM135 35h20.5v5.5h-20.5zM0 40h5.5v5.5h-5.5zM55 40h10.5v5.5h-10.5zM90 40h10.5v5.5h-10.5zM110 40h5.5v5.5h-5.5zM125 40h20.5v5.5h-20.5zM35 45h5.5v5.5h-5.5zM50 45h10.5v5.5h-10.5zM65 45h25.5v5.5h-25.5zM95 45h5.5v5.5h-5.5zM105 45h5.5v5.5h-5.5zM140 45h10.5v5.5h-10.5zM55 50h5.5v5.5h-5.5zM65 50h10.5v5.5h-10.5zM80 50h15.5v5.5h-15.5zM135 50h15.5v5.5h-15.5zM35 55h5.5v5.5h-5.5zM55 55h10.5v5.5h-10.5zM30 60h5.5v5.5h-5.5zM45 60h5.5v5.5h-5.5zM60 60h5.5v5.5h-5.5zM70 60h10.5v5.5h-10.5zM140 60h15.5v5.5h-15.5zM5 65h10.5v5.5h-10.5zM25 65h15.5v5.5h-15.5zM65 65h5.5v5.5h-5.5zM75 65h5.5v5.5h-5.5zM90 65h10.5v5.5h-10.5zM130 65h5.5v5.5h-5.5zM140 65h10.5v5.5h-10.5zM5 70h5.5v5.5h-5.5zM15 70h10.5v5.5h-10.5zM40 70h15.5v5.5h-15.5zM65 70h15.5v5.5h-15.5zM50 75h10.5v5.5h-10.5zM80 75h5.5v5.5h-5.5zM130 75h20.5v5.5h-20.5zM0 80h15.5v5.5h-15.5zM30 80h5.5v5.5h-5.5zM60 80h10.5v5.5h-10.5zM75 80h5.5v5.5h-5.5zM85 80h5.5v5.5h-5.5zM130 80h5.5v5.5h-5.5zM140 80h10.5v5.5h-10.5zM10 85h5.5v5.5h-5.5zM30 85h5.5v5.5h-5.5zM45 85h10.5v5.5h-10.5zM75 85h10.5v5.5h-10.5zM130 85h20.5v5.5h-20.5zM15 90h5.5v5.5h-5.5zM40 90h5.5v5.5h-5.5zM60 90h10.5v5.5h-10.5zM85 90h20.5v5.5h-20.5zM145 90h5.5v5.5h-5.5zM10 95h5.5v5.5h-5.5zM25 95h5.5v5.5h-5.5zM35 95h5.5v5.5h-5.5zM55 95h10.5v5.5h-10.5zM85 95h10.5v5.5h-10.5zM100 95h10.5v5.5h-10.5zM115 95h10.5v5.5h-10.5zM15 100h5.5v5.5h-5.5zM30 100h10.5v5.5h-10.5zM50 100h5.5v5.5h-5.5zM70 100h15.5v5.5h-15.5zM95 100h40.5v5.5h-40.5zM15 105h5.5v5.5h-5.5zM35 105h5.5v5.5h-5.5zM60 105h5.5v5.5h-5.5zM85 105h5.5v5.5h-5.5zM95 105h5.5v5.5h-5.5zM120 105h5.5v5.5h-5.5zM130 105h10.5v5.5h-10.5zM15 110h5.5v5.5h-5.5zM35 110h5.5v5.5h-5.5zM90 110h10.5v5.5h-10.5zM120 110h5.5v5.5h-5.5zM140 110h5.5v5.5h-5.5zM35 115h10.5v5.5h-10.5zM70 115h5.5v5.5h-5.5zM85 115h5.5v5.5h-5.5zM100 115h10.5v5.5h-10.5zM120 115h5.5v5.5h-5.5zM10 120h5.5v5.5h-5.5zM45 120h5.5v5.5h-5.5zM55 120h5.5v5.5h-5.5zM65 120h5.5v5.5h-5.5zM80 120h10.5v5.5h-10.5zM110 120h5.5v5.5h-5.5zM50 125h5.5v5.5h-5.5zM60 125h15.5v5.5h-15.5zM85 125h5.5v5.5h-5.5zM95 125h5.5v5.5h-5.5zM110 125h5.5v5.5h-5.5zM55 130h5.5v5.5h-5.5zM65 130h5.5v5.5h-5.5zM80 130h15.5v5.5h-15.5zM105 130h10.5v5.5h-10.5zM40 135h5.5v5.5h-5.5zM60 135h5.5v5.5h-5.5zM75 135h10.5v5.5h-10.5zM95 135h5.5v5.5h-5.5zM105 135h10.5v5.5h-10.5zM0 140h5.5v5.5h-5.5zM55 140h5.5v5.5h-5.5zM100 140h5.5v5.5h-5.5zM125 140h5.5v5.5h-5.5zM55 145h5.5v5.5h-5.5zM70 145h15.5v5.5h-15.5zM120 145h10.5v5.5h-10.5zM65 150h5.5v5.5h-5.5zM85 150h5.5v5.5h-5.5zM110 150h5.5v5.5h-5.5zM120 150h10.5v5.5h-10.5zM15 155h5.5v5.5h-5.5zM70 155h15.5v5.5h-15.5zM90 155h5.5v5.5h-5.5zM100 155h10.5v5.5h-10.5zM115 155h15.5v5.5h-15.5zM65 160h10.5v5.5h-10.5zM85 160h5.5v5.5h-5.5zM105 160h5.5v5.5h-5.5zM115 160h15.5v5.5h-15.5zM75 165h5.5v5.5h-5.5zM95 165h5.5v5.5h-5.5zM115 165h10.5v5.5h-10.5zM65 170h15.5v5.5h-15.5zM85 170h5.5v5.5h-5.5zM100 170h5.5v5.5h-5.5zM110 170h5.5v5.5h-5.5zM15 175h5.5v5.5h-5.5zM65 175h25.5v5.5h-25.5zM95 175h5.5v5.5h-5.5zM15 180h5.5v5.5h-5.5zM90 180h5.5v5.5h-5.5zM70 185h5.5v5.5h-5.5zM90 185h5.5v5.5h-5.5zM100 185h5.5v5.5h-5.5zM70 190h10.5v5.5h-10.5zM85 190h20.5v5.5h-20.5zM90 195h15.5v5.5h-15.5zM80 200h5.5v5.5h-5.5zM95 200h5.5v5.5h-5.5z"/>
<path fill="#d1c46b" d="M60 15h5.5v5.5h-5.5zM55 20h5.5v5.5h-5.5zM70 20h5.5v5.5h-5.5zM45 25h5.5v5.5h-5.5zM60 25h5.5v5.5h-5.5zM35 30h5.5v5.5h-5.5zM35 35h5.5v5.5h-5.5zM45 35h5.5v5.5h-5.5zM5 45h5.5v5.5h-5.5zM20 45h5.5v5.5h-5.5zM0 50h5.5v5.5h-5.5zM10 50h5.5v5.5h-5.5zM115 70h5.5v5.5h-5.5zM110 75h5.5v5.5h-5.5zM130 120h10.5v5.5h-10.5zM20 125h10.5v5.5h-10.5zM135 125h5.5v5.5h-5.5zM20 130h10.5v5.5h-10.5zM135 130h5.5v5.5h-5.5zM30 155h5.5v5.5h-5.5zM40 165h5.5v5.5h-5.5zM35 190h5.5v5.5h-5.5zM55 190h5.5v5.5h-5.5zM20 195h5.5v5.5h-5.5zM60 195h5.5v5.5h-5.5zM25 200h5.5v5.5h-5.5z"/>
<path fill="#d0c169" d="M70 15h5.5v5.5h-5.5zM50 20h5.5v5.5h-5.5zM50 30h10.5v5.5h-10.5zM40 35h5.5v5.5h-5.5zM50 35h5.5v5.5h-5.5zM0 45h5.5v5.5h-5.5zM10 45h10.5v5.5h-10.5zM15 50h10.5v5.5h-10.5zM10 55h10.5v5.5h-10.5zM110 70h5.5v5.5h-5.5zM115 75h5.5v5.5h-5.5zM115 80h5.5v5.5h-5.5zM20 120h5.5v5.5h-5.5zM30 125h5.5v5.5h-5.5zM125 125h10.5v5.5h-10.5zM130 130h5.5v5.5h-5.5zM140 130h10.5v5.5h-10.5zM20 135h5.5v5.5h-5.5zM35 155h5.5v5.5h-5.5zM30 160h10.5v5.5h-10.5zM45 160h5.5v5.5h-5.5zM30 165h10.5v5.5h-10.5zM30 170h5.5v5.5h-5.5zM20 190h15.5v5.5h-15.5zM60 190h5.5v5.5h-5.5zM65 195h5.5v5.5h-5.5zM65 200h5.5v5.5h-5.5z"/>
<path fill="#d2c66e" d="M60 20h10.5v5.5h-10.5zM50 25h10.5v5.5h-10.5zM45 30h5.5v5.5h-5.5zM5 50h5.5v5.5h-5.5zM40 160h5.5v5.5h-5.5zM40 190h5.5v5.5h-5.5zM50 190h5.5v5.5h-5.5zM30 195h5.5v5.5h-5.5zM30 200h5.5v5.5h-5.5z"/>
<path fill="#d3c871" d="M40 30h5.5v5.5h-5.5zM45 190h5.5v5.5h-5.5zM35 195h5.5v5.5h-5.5zM60 200h5.5v5.5h-5.5z"/>
<path fill="#c39b46" d="M150 185h5.5v5.5h-5.5zM145 190h5.5v5.5h-5.5zM155 190h5.5v5.5h-5.5zM145 195h5.5v5.5h-5.5zM155 195h5.5v5.5h-5.5zM140 200h5.5v5.5h-5.5z"/>
<path fill="#c29844" d="M150 190h5.5v5.5h-5.5zM150 195h5.5v5.5h-5.5zM145 200h5.5v5.5h-5.5zM155 200h5.5v5.5h-5.5z"/>
<path fill="#d5cd77" d="M40 195h5.5v5.5h-5.5zM50 195h5.5v5.5h-5.5zM40 200h15.5v5.5h-15.5z"/>
<path fill="#d4cb74" d="M45 195h5.5v5.5h-5.5zM55 195h5.5v5.5h-5.5zM35 200h5.5v5.5h-5.5zM55 200h5.5v5.5h-5.5z"/>
<path fill="#c09441" d="M150 200h5.5v5.5h-5.5z"/>
</g>
<path d="M215.3 -1L216.3 50L216.9 100L216.9 131L220 131L220 -1Z" fill="#98b7e2"/>
<path d="M-30.7 0L-25.3 209M0.6 0L6.0 209M31.9 0L37.3 209M63.2 0L68.6 209M94.5 0L99.9 209M125.8 0L131.2 209M157.1 0L162.5 209M188.4 0L193.8 209M219.7 0L225.1 209M0 -8.3L219 -14.0M0 18.6L219 12.9M0 45.5L219 39.8M0 72.4L219 66.7M0 99.3L219 93.6M0 126.2L219 120.5M0 153.1L219 147.4M0 180.0L219 174.3M0 206.9L219 201.2M0 233.8L219 228.1" stroke="#b0b0b0" stroke-width="1.2" fill="none"/>
<path d="M169.7 208.6 L169.7 203.8 L169.2 195.2 L167.5 188.4 L164.9 181.5 L162.4 174.6 L158.9 170.4 L154.6 167.4 L150.4 166.1 L149.8 162.6 L150.9 157.5 L149.2 152.4 L147.8 147.2 L148.6 143.8 L152.1 140.4 L156.4 134.4 L158.9 128.4 L160.1 120.6 L164.1 114.6 L168.4 106.1 L164.1 115.8 L167.5 107.2 L170.9 96.9 L174.4 86.6 L177.8 76.4 L181.2 67.8 L184.6 60.1 L188.9 52.4 L194.1 46.4 L199.2 42.9 L204.4 41.7 L208.6 40.4 L210.9 40.9 L211.6 42.9 L210.4 46.4 L208.1 52.4 L206.4 60.9 L204.7 69.5 L203.0 78.1 L201.3 86.6 L200.1 92.6 L201.8 97.8 L204.4 102.1 L206.0 103.5 L205.7 107.0 L204.0 110.5 L205.0 112.7 L207.5 112.0 L209.0 108.5 L211.0 108.0 L211.7 110.5 L210.5 114.5 L207.5 117.5 L205.3 121.0 L205.3 125.5 L204.5 131.5 L206.0 135.5 L209.5 137.8 L214.0 136.5 L217.0 132.0 L219.5 127.0" stroke="#7a7a7a" stroke-width="1.5" fill="none" stroke-linejoin="round"/>
</g>
<rect x="0" y="0" width="219" height="209" fill="none" stroke="#000" stroke-width="1"/>
</g>
<g transform="translate(806.5 396.5)">
<clipPath id="cp5"><rect x="0" y="0" width="219" height="209"/></clipPath>
<g clip-path="url(#cp5)">
<rect x="0" y="0" width="219" height="209" fill="#98b7e2"/>
<path d="M169.7 208.6 L169.7 203.8 L169.2 195.2 L167.5 188.4 L164.9 181.5 L162.4 174.6 L158.9 170.4 L154.6 167.4 L150.4 166.1 L149.8 162.6 L150.9 157.5 L149.2 152.4 L147.8 147.2 L148.6 143.8 L152.1 140.4 L156.4 134.4 L158.9 128.4 L160.1 120.6 L164.1 114.6 L168.4 106.1 L164.1 115.8 L167.5 107.2 L170.9 96.9 L174.4 86.6 L177.8 76.4 L181.2 67.8 L184.6 60.1 L188.9 52.4 L194.1 46.4 L199.2 42.9 L204.4 41.7 L208.6 40.4 L210.9 40.9 L211.6 42.9 L210.4 46.4 L208.1 52.4 L206.4 60.9 L204.7 69.5 L203.0 78.1 L201.3 86.6 L200.1 92.6 L201.8 97.8 L204.4 102.1 L206.0 103.5 L205.7 107.0 L204.0 110.5 L205.0 112.7 L207.5 112.0 L209.0 108.5 L211.0 108.0 L211.7 110.5 L210.5 114.5 L207.5 117.5 L205.3 121.0 L205.3 125.5 L204.5 131.5 L206.0 135.5 L209.5 137.8 L214.0 136.5 L217.0 132.0 L219.5 127.0 L221.0 127.0 L221.0 211.0 L169.7 211.0Z" fill="#efefdb"/>
<g transform="matrix(0.9880 -0.02470 0.01780 0.9890 1.50 4.60)" shape-rendering="crispEdges">
<path fill="#f5f0ea" d="M0 0h5.5v5.5h-5.5zM0 5h5.5v5.5h-5.5zM105 5h5.5v5.5h-5.5zM125 5h5.5v5.5h-5.5zM0 10h5.5v5.5h-5.5zM105 10h5.5v5.5h-5.5zM115 10h5.5v5.5h-5.5zM200 10h5.5v5.5h-5.5zM195 15h25.5v5.5h-25.5zM100 20h5.5v5.5h-5.5zM160 20h5.5v5.5h-5.5zM190 20h5.5v5.5h-5.5zM215 20h5.5v5.5h-5.5zM95 25h5.5v5.5h-5.5zM160 25h5.5v5.5h-5.5zM200 25h5.5v5.5h-5.5zM15 30h5.5v5.5h-5.5zM100 30h15.5v5.5h-15.5zM155 30h5.5v5.5h-5.5zM200 30h5.5v5.5h-5.5zM160 35h5.5v5.5h-5.5zM175 35h5.5v5.5h-5.5zM95 40h5.5v5.5h-5.5zM155 40h5.5v5.5h-5.5zM90 45h5.5v5.5h-5.5zM160 45h5.5v5.5h-5.5zM45 50h5.5v5.5h-5.5zM90 50h5.5v5.5h-5.5zM160 50h10.5v5.5h-10.5zM45 55h5.5v5.5h-5.5zM90 55h5.5v5.5h-5.5zM160 55h5.5v5.5h-5.5zM170 55h5.5v5.5h-5.5zM50 60h5.5v5.5h-5.5zM160 60h15.5v5.5h-15.5zM50 65h10.5v5.5h-10.5zM85 65h5.5v5.5h-5.5zM165 65h5.5v5.5h-5.5zM50 70h5.5v5.5h-5.5zM210 70h10.5v5.5h-10.5zM70 75h5.5v5.5h-5.5zM125 75h5.5v5.5h-5.5zM210 75h5.5v5.5h-5.5zM10 80h10.5v5.5h-10.5zM25 80h5.5v5.5h-5.5zM45 80h5.5v5.5h-5.5zM70 80h10.5v5.5h-10.5zM125 80h5.5v5.5h-5.5zM15 85h5.5v5.5h-5.5zM70 85h10.5v5.5h-10.5zM85 85h5.5v5.5h-5.5zM130 85h5.5v5.5h-5.5zM140 85h5.5v5.5h-5.5zM20 90h5.5v5.5h-5.5zM90 90h5.5v5.5h-5.5zM135 90h10.5v5.5h-10.5zM50 95h10.5v5.5h-10.5zM155 95h5.5v5.5h-5.5zM60 100h5.5v5.5h-5.5zM95 100h5.5v5.5h-5.5zM145 100h15.5v5.5h-15.5zM5 105h5.5v5.5h-5.5zM60 105h5.5v5.5h-5.5zM145 105h10.5v5.5h-10.5zM95 110h5.5v5.5h-5.5zM90 115h5.5v5.5h-5.5zM10 120h5.5v5.5h-5.5zM60 120h5.5v5.5h-5.5zM90 120h5.5v5.5h-5.5zM60 125h5.5v5.5h-5.5zM90 125h5.5v5.5h-5.5zM60 130h5.5v5.5h-5.5zM60 135h5.5v5.5h-5.5zM60 140h5.5v5.5h-5.5zM80 140h5.5v5.5h-5.5zM65 150h10.5v5.5h-10.5zM80 150h5.5v5.5h-5.5zM65 155h10.5v5.5h-10.5zM90 155h5.5v5.5h-5.5zM65 160h5.5v5.5h-5.5zM100 160h5.5v5.5h-5.5zM60 165h15.5v5.5h-15.5zM100 165h5.5v5.5h-5.5zM115 165h5.5v5.5h-5.5zM125 165h5.5v5.5h-5.5zM135 165h5.5v5.5h-5.5zM65 170h5.5v5.5h-5.5zM75 170h5.5v5.5h-5.5zM85 170h10.5v5.5h-10.5zM70 175h5.5v5.5h-5.5zM85 175h5.5v5.5h-5.5zM125 175h15.5v5.5h-15.5zM125 180h5.5v5.5h-5.5zM115 190h5.5v5.5h-5.5zM125 190h5.5v5.5h-5.5zM120 195h5.5v5.5h-5.5z"/>
<path fill="#fff6f4" d="M5 0h25.5v5.5h-25.5zM5 5h25.5v5.5h-25.5zM5 10h25.5v5.5h-25.5zM0 15h25.5v5.5h-25.5zM5 20h25.5v5.5h-25.5zM10 25h20.5v5.5h-20.5zM20 30h5.5v5.5h-5.5zM215 30h5.5v5.5h-5.5zM205 35h5.5v5.5h-5.5zM195 40h25.5v5.5h-25.5zM190 45h30.5v5.5h-30.5zM70 50h10.5v5.5h-10.5zM185 50h35.5v5.5h-35.5zM70 55h5.5v5.5h-5.5zM180 55h40.5v5.5h-40.5zM175 60h45.5v5.5h-45.5zM175 65h35.5v5.5h-35.5zM175 70h35.5v5.5h-35.5zM170 75h40.5v5.5h-40.5zM170 80h40.5v5.5h-40.5zM165 85h40.5v5.5h-40.5zM5 90h5.5v5.5h-5.5zM165 90h40.5v5.5h-40.5zM5 95h5.5v5.5h-5.5zM165 95h45.5v5.5h-45.5zM5 100h5.5v5.5h-5.5zM75 100h10.5v5.5h-10.5zM160 100h50.5v5.5h-50.5zM70 105h10.5v5.5h-10.5zM160 105h60.5v5.5h-60.5zM160 110h60.5v5.5h-60.5zM0 115h10.5v5.5h-10.5zM160 115h60.5v5.5h-60.5zM0 120h10.5v5.5h-10.5zM155 120h65.5v5.5h-65.5zM0 125h10.5v5.5h-10.5zM150 125h60.5v5.5h-60.5zM0 130h10.5v5.5h-10.5zM150 130h60.5v5.5h-60.5zM0 135h5.5v5.5h-5.5zM145 135h75.5v5.5h-75.5zM140 140h80.5v5.5h-80.5zM140 145h80.5v5.5h-80.5zM140 150h80.5v5.5h-80.5zM140 155h80.5v5.5h-80.5zM140 160h80.5v5.5h-80.5zM145 165h75.5v5.5h-75.5zM145 170h75.5v5.5h-75.5zM5 175h10.5v5.5h-10.5zM155 175h65.5v5.5h-65.5zM0 180h15.5v5.5h-15.5zM155 180h65.5v5.5h-65.5zM0 185h15.5v5.5h-15.5zM155 185h65.5v5.5h-65.5zM0 190h15.5v5.5h-15.5zM160 190h60.5v5.5h-60.5zM0 195h20.5v5.5h-20.5zM160 195h60.5v5.5h-60.5zM0 200h25.5v5.5h-25.5zM160 200h60.5v5.5h-60.5z"/>
<path fill="#dde2d1" d="M30 0h5.5v5.5h-5.5zM40 0h5.5v5.5h-5.5zM80 0h5.5v5.5h-5.5zM35 5h5.5v5.5h-5.5zM80 5h5.5v5.5h-5.5zM75 10h15.5v5.5h-15.5zM85 15h5.5v5.5h-5.5zM65 20h10.5v5.5h-10.5zM80 20h5.5v5.5h-5.5zM40 25h15.5v5.5h-15.5zM70 25h5.5v5.5h-5.5zM35 30h5.5v5.5h-5.5zM55 30h5.5v5.5h-5.5zM15 45h10.5v5.5h-10.5zM20 50h5.5v5.5h-5.5zM0 55h20.5v5.5h-20.5zM135 55h10.5v5.5h-10.5zM135 60h5.5v5.5h-5.5zM210 65h10.5v5.5h-10.5zM215 80h5.5v5.5h-5.5zM205 85h15.5v5.5h-15.5zM205 90h5.5v5.5h-5.5zM215 90h5.5v5.5h-5.5zM35 110h5.5v5.5h-5.5zM30 115h10.5v5.5h-10.5zM25 120h10.5v5.5h-10.5zM25 125h5.5v5.5h-5.5zM25 130h5.5v5.5h-5.5zM100 135h10.5v5.5h-10.5zM20 155h10.5v5.5h-10.5zM15 160h5.5v5.5h-5.5zM35 160h5.5v5.5h-5.5zM35 165h5.5v5.5h-5.5zM25 175h5.5v5.5h-5.5zM150 180h5.5v5.5h-5.5zM40 185h15.5v5.5h-15.5zM55 190h5.5v5.5h-5.5zM60 195h5.5v5.5h-5.5zM30 200h5.5v5.5h-5.5z"/>
<path fill="#e0e4d4" d="M35 0h5.5v5.5h-5.5zM75 0h5.5v5.5h-5.5zM85 0h5.5v5.5h-5.5zM40 5h5.5v5.5h-5.5zM75 5h5.5v5.5h-5.5zM85 5h5.5v5.5h-5.5zM70 10h5.5v5.5h-5.5zM65 15h10.5v5.5h-10.5zM85 20h5.5v5.5h-5.5zM55 25h15.5v5.5h-15.5zM60 30h10.5v5.5h-10.5zM35 35h20.5v5.5h-20.5zM20 40h5.5v5.5h-5.5zM0 45h15.5v5.5h-15.5zM135 50h5.5v5.5h-5.5zM20 55h5.5v5.5h-5.5zM130 55h5.5v5.5h-5.5zM0 60h15.5v5.5h-15.5zM130 60h5.5v5.5h-5.5zM140 60h5.5v5.5h-5.5zM210 80h5.5v5.5h-5.5zM210 90h5.5v5.5h-5.5zM30 105h5.5v5.5h-5.5zM30 110h5.5v5.5h-5.5zM40 110h5.5v5.5h-5.5zM25 115h5.5v5.5h-5.5zM40 115h5.5v5.5h-5.5zM35 120h5.5v5.5h-5.5zM20 125h5.5v5.5h-5.5zM30 125h5.5v5.5h-5.5zM20 130h5.5v5.5h-5.5zM110 130h5.5v5.5h-5.5zM110 135h5.5v5.5h-5.5zM100 140h10.5v5.5h-10.5zM100 145h5.5v5.5h-5.5zM15 155h5.5v5.5h-5.5zM30 155h5.5v5.5h-5.5zM15 165h5.5v5.5h-5.5zM15 170h5.5v5.5h-5.5zM40 170h5.5v5.5h-5.5zM20 175h5.5v5.5h-5.5zM40 175h5.5v5.5h-5.5zM30 180h15.5v5.5h-15.5zM30 185h10.5v5.5h-10.5zM145 185h5.5v5.5h-5.5zM30 190h5.5v5.5h-5.5zM60 190h5.5v5.5h-5.5zM30 195h5.5v5.5h-5.5zM65 200h5.5v5.5h-5.5zM140 200h5.5v5.5h-5.5z"/>
<path fill="#e8e8dc" d="M45 0h5.5v5.5h-5.5zM65 0h5.5v5.5h-5.5zM95 0h5.5v5.5h-5.5zM140 0h5.5v5.5h-5.5zM150 0h5.5v5.5h-5.5zM175 0h15.5v5.5h-15.5zM95 5h5.5v5.5h-5.5zM150 5h5.5v5.5h-5.5zM175 5h5.5v5.5h-5.5zM185 5h5.5v5.5h-5.5zM150 10h5.5v5.5h-5.5zM180 10h5.5v5.5h-5.5zM45 15h5.5v5.5h-5.5zM55 15h10.5v5.5h-10.5zM130 15h10.5v5.5h-10.5zM150 15h5.5v5.5h-5.5zM35 20h5.5v5.5h-5.5zM90 20h5.5v5.5h-5.5zM125 20h10.5v5.5h-10.5zM80 25h10.5v5.5h-10.5zM125 25h5.5v5.5h-5.5zM125 30h5.5v5.5h-5.5zM140 30h5.5v5.5h-5.5zM65 35h5.5v5.5h-5.5zM120 35h15.5v5.5h-15.5zM140 35h5.5v5.5h-5.5zM0 40h5.5v5.5h-5.5zM35 40h10.5v5.5h-10.5zM50 40h5.5v5.5h-5.5zM115 40h5.5v5.5h-5.5zM125 40h20.5v5.5h-20.5zM185 40h5.5v5.5h-5.5zM110 45h5.5v5.5h-5.5zM120 45h5.5v5.5h-5.5zM140 45h5.5v5.5h-5.5zM150 45h5.5v5.5h-5.5zM115 50h10.5v5.5h-10.5zM150 50h5.5v5.5h-5.5zM20 60h10.5v5.5h-10.5zM15 65h15.5v5.5h-15.5zM130 65h5.5v5.5h-5.5zM140 65h5.5v5.5h-5.5zM15 70h5.5v5.5h-5.5zM105 80h5.5v5.5h-5.5zM100 85h5.5v5.5h-5.5zM115 85h5.5v5.5h-5.5zM100 90h5.5v5.5h-5.5zM115 90h10.5v5.5h-10.5zM30 95h5.5v5.5h-5.5zM40 95h5.5v5.5h-5.5zM105 95h5.5v5.5h-5.5zM120 95h5.5v5.5h-5.5zM210 95h5.5v5.5h-5.5zM40 100h10.5v5.5h-10.5zM115 100h15.5v5.5h-15.5zM210 100h5.5v5.5h-5.5zM50 105h5.5v5.5h-5.5zM120 105h5.5v5.5h-5.5zM50 110h5.5v5.5h-5.5zM110 110h5.5v5.5h-5.5zM120 110h10.5v5.5h-10.5zM115 115h10.5v5.5h-10.5zM45 120h5.5v5.5h-5.5zM105 120h5.5v5.5h-5.5zM115 120h10.5v5.5h-10.5zM100 125h5.5v5.5h-5.5zM120 125h5.5v5.5h-5.5zM35 130h10.5v5.5h-10.5zM95 130h5.5v5.5h-5.5zM120 135h5.5v5.5h-5.5zM25 140h5.5v5.5h-5.5zM120 140h5.5v5.5h-5.5zM10 145h5.5v5.5h-5.5zM20 145h5.5v5.5h-5.5zM30 145h5.5v5.5h-5.5zM115 145h5.5v5.5h-5.5zM35 150h5.5v5.5h-5.5zM115 150h20.5v5.5h-20.5zM5 155h5.5v5.5h-5.5zM130 155h5.5v5.5h-5.5zM10 160h5.5v5.5h-5.5zM10 170h5.5v5.5h-5.5zM45 170h5.5v5.5h-5.5zM50 175h5.5v5.5h-5.5zM15 180h10.5v5.5h-10.5zM15 185h5.5v5.5h-5.5zM65 190h5.5v5.5h-5.5zM20 195h5.5v5.5h-5.5z"/>
<path fill="#ebeadf" d="M50 0h5.5v5.5h-5.5zM135 0h5.5v5.5h-5.5zM170 0h5.5v5.5h-5.5zM190 0h5.5v5.5h-5.5zM60 5h10.5v5.5h-10.5zM135 5h5.5v5.5h-5.5zM155 5h5.5v5.5h-5.5zM170 5h5.5v5.5h-5.5zM50 10h5.5v5.5h-5.5zM95 10h5.5v5.5h-5.5zM130 10h10.5v5.5h-10.5zM155 10h5.5v5.5h-5.5zM175 10h5.5v5.5h-5.5zM185 10h5.5v5.5h-5.5zM35 15h5.5v5.5h-5.5zM125 15h5.5v5.5h-5.5zM180 15h5.5v5.5h-5.5zM120 20h5.5v5.5h-5.5zM30 25h5.5v5.5h-5.5zM120 25h5.5v5.5h-5.5zM145 25h5.5v5.5h-5.5zM75 30h5.5v5.5h-5.5zM120 30h5.5v5.5h-5.5zM20 35h5.5v5.5h-5.5zM145 35h5.5v5.5h-5.5zM195 35h5.5v5.5h-5.5zM5 40h5.5v5.5h-5.5zM45 40h5.5v5.5h-5.5zM145 40h5.5v5.5h-5.5zM180 40h5.5v5.5h-5.5zM190 40h5.5v5.5h-5.5zM30 50h5.5v5.5h-5.5zM105 50h10.5v5.5h-10.5zM30 55h5.5v5.5h-5.5zM30 60h5.5v5.5h-5.5zM150 60h5.5v5.5h-5.5zM30 65h5.5v5.5h-5.5zM125 65h5.5v5.5h-5.5zM145 65h10.5v5.5h-10.5zM0 70h10.5v5.5h-10.5zM25 70h10.5v5.5h-10.5zM155 75h5.5v5.5h-5.5zM100 80h5.5v5.5h-5.5zM115 80h5.5v5.5h-5.5zM95 85h5.5v5.5h-5.5zM120 85h5.5v5.5h-5.5zM160 85h5.5v5.5h-5.5zM15 95h5.5v5.5h-5.5zM35 95h5.5v5.5h-5.5zM125 95h5.5v5.5h-5.5zM10 100h10.5v5.5h-10.5zM50 100h5.5v5.5h-5.5zM105 100h5.5v5.5h-5.5zM15 105h5.5v5.5h-5.5zM110 105h5.5v5.5h-5.5zM125 105h5.5v5.5h-5.5zM105 110h5.5v5.5h-5.5zM20 115h5.5v5.5h-5.5zM105 115h5.5v5.5h-5.5zM125 115h5.5v5.5h-5.5zM15 120h5.5v5.5h-5.5zM125 120h5.5v5.5h-5.5zM45 125h5.5v5.5h-5.5zM95 125h5.5v5.5h-5.5zM145 125h5.5v5.5h-5.5zM50 130h5.5v5.5h-5.5zM120 130h5.5v5.5h-5.5zM5 135h5.5v5.5h-5.5zM90 135h5.5v5.5h-5.5zM125 140h5.5v5.5h-5.5zM90 145h5.5v5.5h-5.5zM120 145h15.5v5.5h-15.5zM40 150h10.5v5.5h-10.5zM100 150h15.5v5.5h-15.5zM40 155h15.5v5.5h-15.5zM120 155h10.5v5.5h-10.5zM0 160h10.5v5.5h-10.5zM135 160h5.5v5.5h-5.5zM50 165h5.5v5.5h-5.5zM50 170h5.5v5.5h-5.5zM55 175h5.5v5.5h-5.5zM140 175h5.5v5.5h-5.5zM60 180h5.5v5.5h-5.5zM20 185h5.5v5.5h-5.5zM65 185h5.5v5.5h-5.5zM135 185h5.5v5.5h-5.5zM20 190h5.5v5.5h-5.5zM70 190h10.5v5.5h-10.5zM100 190h5.5v5.5h-5.5zM135 190h5.5v5.5h-5.5zM75 195h5.5v5.5h-5.5zM135 195h5.5v5.5h-5.5zM75 200h5.5v5.5h-5.5zM135 200h5.5v5.5h-5.5z"/>
<path fill="#f0ede4" d="M55 0h10.5v5.5h-10.5zM130 0h5.5v5.5h-5.5zM205 0h10.5v5.5h-10.5zM165 5h5.5v5.5h-5.5zM190 5h5.5v5.5h-5.5zM200 5h5.5v5.5h-5.5zM215 5h5.5v5.5h-5.5zM160 10h10.5v5.5h-10.5zM190 10h5.5v5.5h-5.5zM215 10h5.5v5.5h-5.5zM100 15h5.5v5.5h-5.5zM115 15h5.5v5.5h-5.5zM170 15h5.5v5.5h-5.5zM185 15h5.5v5.5h-5.5zM30 20h5.5v5.5h-5.5zM95 20h5.5v5.5h-5.5zM110 20h5.5v5.5h-5.5zM155 20h5.5v5.5h-5.5zM180 20h5.5v5.5h-5.5zM90 25h5.5v5.5h-5.5zM115 25h5.5v5.5h-5.5zM185 25h10.5v5.5h-10.5zM80 30h5.5v5.5h-5.5zM150 30h5.5v5.5h-5.5zM185 30h15.5v5.5h-15.5zM10 35h5.5v5.5h-5.5zM110 35h5.5v5.5h-5.5zM150 35h5.5v5.5h-5.5zM185 35h5.5v5.5h-5.5zM200 35h5.5v5.5h-5.5zM95 50h5.5v5.5h-5.5zM155 50h5.5v5.5h-5.5zM170 50h5.5v5.5h-5.5zM35 55h10.5v5.5h-10.5zM110 55h5.5v5.5h-5.5zM155 55h5.5v5.5h-5.5zM175 55h5.5v5.5h-5.5zM40 60h5.5v5.5h-5.5zM95 60h10.5v5.5h-10.5zM110 60h10.5v5.5h-10.5zM155 60h5.5v5.5h-5.5zM40 65h5.5v5.5h-5.5zM95 65h15.5v5.5h-15.5zM115 65h5.5v5.5h-5.5zM40 70h5.5v5.5h-5.5zM80 70h5.5v5.5h-5.5zM90 70h5.5v5.5h-5.5zM100 70h20.5v5.5h-20.5zM125 70h15.5v5.5h-15.5zM155 70h10.5v5.5h-10.5zM0 75h20.5v5.5h-20.5zM30 75h10.5v5.5h-10.5zM80 75h5.5v5.5h-5.5zM105 75h5.5v5.5h-5.5zM145 75h5.5v5.5h-5.5zM0 80h5.5v5.5h-5.5zM30 80h5.5v5.5h-5.5zM80 80h15.5v5.5h-15.5zM120 80h5.5v5.5h-5.5zM5 85h5.5v5.5h-5.5zM30 85h15.5v5.5h-15.5zM90 85h5.5v5.5h-5.5zM145 85h5.5v5.5h-5.5zM10 90h5.5v5.5h-5.5zM30 90h5.5v5.5h-5.5zM40 90h5.5v5.5h-5.5zM150 90h15.5v5.5h-15.5zM45 95h5.5v5.5h-5.5zM95 95h5.5v5.5h-5.5zM130 95h5.5v5.5h-5.5zM0 100h5.5v5.5h-5.5zM55 100h5.5v5.5h-5.5zM100 100h5.5v5.5h-5.5zM135 100h5.5v5.5h-5.5zM55 105h5.5v5.5h-5.5zM100 105h5.5v5.5h-5.5zM135 105h5.5v5.5h-5.5zM15 110h5.5v5.5h-5.5zM55 110h5.5v5.5h-5.5zM135 110h10.5v5.5h-10.5zM155 110h5.5v5.5h-5.5zM130 115h15.5v5.5h-15.5zM135 120h5.5v5.5h-5.5zM55 125h5.5v5.5h-5.5zM130 125h5.5v5.5h-5.5zM55 130h5.5v5.5h-5.5zM130 130h10.5v5.5h-10.5zM55 135h5.5v5.5h-5.5zM130 135h5.5v5.5h-5.5zM140 135h5.5v5.5h-5.5zM40 140h20.5v5.5h-20.5zM40 145h5.5v5.5h-5.5zM60 145h5.5v5.5h-5.5zM55 150h5.5v5.5h-5.5zM90 150h5.5v5.5h-5.5zM100 155h5.5v5.5h-5.5zM110 155h5.5v5.5h-5.5zM110 160h5.5v5.5h-5.5zM120 160h5.5v5.5h-5.5zM130 160h5.5v5.5h-5.5zM0 165h5.5v5.5h-5.5zM55 165h5.5v5.5h-5.5zM140 165h5.5v5.5h-5.5zM5 170h5.5v5.5h-5.5zM55 170h5.5v5.5h-5.5zM105 170h5.5v5.5h-5.5zM65 175h5.5v5.5h-5.5zM100 175h5.5v5.5h-5.5zM110 175h5.5v5.5h-5.5zM65 180h5.5v5.5h-5.5zM75 180h25.5v5.5h-25.5zM105 180h15.5v5.5h-15.5zM100 185h15.5v5.5h-15.5zM130 185h5.5v5.5h-5.5zM80 190h15.5v5.5h-15.5zM105 190h10.5v5.5h-10.5zM85 195h10.5v5.5h-10.5zM105 195h15.5v5.5h-15.5zM130 195h5.5v5.5h-5.5zM90 200h5.5v5.5h-5.5zM110 200h10.5v5.5h-10.5z"/>
<path fill="#e5e7d9" d="M70 0h5.5v5.5h-5.5zM145 0h5.5v5.5h-5.5zM45 5h5.5v5.5h-5.5zM140 5h5.5v5.5h-5.5zM180 5h5.5v5.5h-5.5zM30 10h5.5v5.5h-5.5zM45 10h5.5v5.5h-5.5zM65 10h5.5v5.5h-5.5zM145 10h5.5v5.5h-5.5zM90 15h5.5v5.5h-5.5zM145 15h5.5v5.5h-5.5zM40 20h5.5v5.5h-5.5zM55 20h5.5v5.5h-5.5zM130 25h15.5v5.5h-15.5zM30 30h5.5v5.5h-5.5zM70 30h5.5v5.5h-5.5zM130 30h10.5v5.5h-10.5zM25 35h5.5v5.5h-5.5zM60 35h5.5v5.5h-5.5zM10 40h5.5v5.5h-5.5zM30 40h5.5v5.5h-5.5zM120 40h5.5v5.5h-5.5zM30 45h5.5v5.5h-5.5zM115 45h5.5v5.5h-5.5zM125 45h15.5v5.5h-15.5zM145 45h5.5v5.5h-5.5zM180 45h10.5v5.5h-10.5zM25 50h5.5v5.5h-5.5zM125 50h5.5v5.5h-5.5zM180 50h5.5v5.5h-5.5zM25 55h5.5v5.5h-5.5zM150 55h5.5v5.5h-5.5zM125 60h5.5v5.5h-5.5zM145 60h5.5v5.5h-5.5zM0 65h15.5v5.5h-15.5zM135 65h5.5v5.5h-5.5zM110 80h5.5v5.5h-5.5zM110 95h10.5v5.5h-10.5zM215 95h5.5v5.5h-5.5zM20 100h5.5v5.5h-5.5zM35 100h5.5v5.5h-5.5zM110 100h5.5v5.5h-5.5zM215 100h5.5v5.5h-5.5zM20 105h5.5v5.5h-5.5zM45 105h5.5v5.5h-5.5zM115 105h5.5v5.5h-5.5zM45 110h5.5v5.5h-5.5zM115 110h5.5v5.5h-5.5zM45 115h5.5v5.5h-5.5zM110 115h5.5v5.5h-5.5zM110 120h5.5v5.5h-5.5zM15 125h5.5v5.5h-5.5zM40 125h5.5v5.5h-5.5zM105 125h15.5v5.5h-15.5zM10 130h5.5v5.5h-5.5zM115 130h5.5v5.5h-5.5zM10 135h5.5v5.5h-5.5zM25 135h10.5v5.5h-10.5zM0 140h25.5v5.5h-25.5zM90 140h5.5v5.5h-5.5zM115 140h5.5v5.5h-5.5zM5 145h5.5v5.5h-5.5zM15 145h5.5v5.5h-5.5zM25 145h5.5v5.5h-5.5zM95 145h5.5v5.5h-5.5zM0 150h10.5v5.5h-10.5zM135 150h5.5v5.5h-5.5zM0 155h5.5v5.5h-5.5zM35 155h5.5v5.5h-5.5zM135 155h5.5v5.5h-5.5zM40 160h10.5v5.5h-10.5zM10 165h5.5v5.5h-5.5zM45 165h5.5v5.5h-5.5zM15 175h5.5v5.5h-5.5zM45 175h5.5v5.5h-5.5zM145 175h5.5v5.5h-5.5zM50 180h10.5v5.5h-10.5zM140 180h10.5v5.5h-10.5zM25 185h5.5v5.5h-5.5zM60 185h5.5v5.5h-5.5zM140 185h5.5v5.5h-5.5zM15 190h5.5v5.5h-5.5zM70 195h5.5v5.5h-5.5z"/>
<path fill="#e2e5d6" d="M90 0h5.5v5.5h-5.5zM30 5h5.5v5.5h-5.5zM70 5h5.5v5.5h-5.5zM90 5h5.5v5.5h-5.5zM145 5h5.5v5.5h-5.5zM35 10h10.5v5.5h-10.5zM90 10h5.5v5.5h-5.5zM140 10h5.5v5.5h-5.5zM40 15h5.5v5.5h-5.5zM140 15h5.5v5.5h-5.5zM45 20h10.5v5.5h-10.5zM60 20h5.5v5.5h-5.5zM135 20h15.5v5.5h-15.5zM35 25h5.5v5.5h-5.5zM75 25h5.5v5.5h-5.5zM30 35h5.5v5.5h-5.5zM55 35h5.5v5.5h-5.5zM135 35h5.5v5.5h-5.5zM15 40h5.5v5.5h-5.5zM25 40h5.5v5.5h-5.5zM25 45h5.5v5.5h-5.5zM130 50h5.5v5.5h-5.5zM140 50h10.5v5.5h-10.5zM125 55h5.5v5.5h-5.5zM145 55h5.5v5.5h-5.5zM15 60h5.5v5.5h-5.5zM105 85h10.5v5.5h-10.5zM105 90h10.5v5.5h-10.5zM25 100h10.5v5.5h-10.5zM25 105h5.5v5.5h-5.5zM35 105h10.5v5.5h-10.5zM25 110h5.5v5.5h-5.5zM20 120h5.5v5.5h-5.5zM40 120h5.5v5.5h-5.5zM35 125h5.5v5.5h-5.5zM15 130h5.5v5.5h-5.5zM30 130h5.5v5.5h-5.5zM100 130h10.5v5.5h-10.5zM15 135h10.5v5.5h-10.5zM95 135h5.5v5.5h-5.5zM115 135h5.5v5.5h-5.5zM95 140h5.5v5.5h-5.5zM110 140h5.5v5.5h-5.5zM0 145h5.5v5.5h-5.5zM105 145h10.5v5.5h-10.5zM10 150h25.5v5.5h-25.5zM10 155h5.5v5.5h-5.5zM40 165h5.5v5.5h-5.5zM150 175h5.5v5.5h-5.5zM25 180h5.5v5.5h-5.5zM45 180h5.5v5.5h-5.5zM55 185h5.5v5.5h-5.5zM25 190h5.5v5.5h-5.5zM140 190h5.5v5.5h-5.5zM25 195h5.5v5.5h-5.5zM65 195h5.5v5.5h-5.5zM140 195h5.5v5.5h-5.5zM25 200h5.5v5.5h-5.5zM70 200h5.5v5.5h-5.5z"/>
<path fill="#edebe2" d="M100 0h5.5v5.5h-5.5zM155 0h15.5v5.5h-15.5zM195 0h10.5v5.5h-10.5zM215 0h5.5v5.5h-5.5zM50 5h10.5v5.5h-10.5zM100 5h5.5v5.5h-5.5zM130 5h5.5v5.5h-5.5zM160 5h5.5v5.5h-5.5zM195 5h5.5v5.5h-5.5zM205 5h10.5v5.5h-10.5zM55 10h10.5v5.5h-10.5zM170 10h5.5v5.5h-5.5zM30 15h5.5v5.5h-5.5zM50 15h5.5v5.5h-5.5zM95 15h5.5v5.5h-5.5zM120 15h5.5v5.5h-5.5zM155 15h5.5v5.5h-5.5zM175 15h5.5v5.5h-5.5zM115 20h5.5v5.5h-5.5zM150 20h5.5v5.5h-5.5zM150 25h5.5v5.5h-5.5zM25 30h5.5v5.5h-5.5zM115 30h5.5v5.5h-5.5zM145 30h5.5v5.5h-5.5zM15 35h5.5v5.5h-5.5zM70 35h5.5v5.5h-5.5zM115 35h5.5v5.5h-5.5zM190 35h5.5v5.5h-5.5zM55 40h5.5v5.5h-5.5zM105 40h10.5v5.5h-10.5zM150 40h5.5v5.5h-5.5zM35 45h5.5v5.5h-5.5zM100 45h10.5v5.5h-10.5zM175 45h5.5v5.5h-5.5zM35 50h5.5v5.5h-5.5zM100 50h5.5v5.5h-5.5zM175 50h5.5v5.5h-5.5zM100 55h10.5v5.5h-10.5zM115 55h10.5v5.5h-10.5zM35 60h5.5v5.5h-5.5zM105 60h5.5v5.5h-5.5zM120 60h5.5v5.5h-5.5zM35 65h5.5v5.5h-5.5zM120 65h5.5v5.5h-5.5zM155 65h5.5v5.5h-5.5zM10 70h5.5v5.5h-5.5zM20 70h5.5v5.5h-5.5zM35 70h5.5v5.5h-5.5zM95 70h5.5v5.5h-5.5zM140 70h15.5v5.5h-15.5zM170 70h5.5v5.5h-5.5zM40 75h5.5v5.5h-5.5zM85 75h20.5v5.5h-20.5zM110 75h10.5v5.5h-10.5zM150 75h5.5v5.5h-5.5zM160 75h10.5v5.5h-10.5zM35 80h5.5v5.5h-5.5zM95 80h5.5v5.5h-5.5zM145 80h25.5v5.5h-25.5zM0 85h5.5v5.5h-5.5zM150 85h10.5v5.5h-10.5zM0 90h5.5v5.5h-5.5zM35 90h5.5v5.5h-5.5zM95 90h5.5v5.5h-5.5zM125 90h5.5v5.5h-5.5zM0 95h5.5v5.5h-5.5zM10 95h5.5v5.5h-5.5zM20 95h10.5v5.5h-10.5zM100 95h5.5v5.5h-5.5zM130 100h5.5v5.5h-5.5zM105 105h5.5v5.5h-5.5zM130 105h5.5v5.5h-5.5zM20 110h5.5v5.5h-5.5zM130 110h5.5v5.5h-5.5zM50 115h5.5v5.5h-5.5zM100 115h5.5v5.5h-5.5zM145 115h15.5v5.5h-15.5zM50 120h5.5v5.5h-5.5zM95 120h10.5v5.5h-10.5zM130 120h5.5v5.5h-5.5zM140 120h15.5v5.5h-15.5zM10 125h5.5v5.5h-5.5zM50 125h5.5v5.5h-5.5zM125 125h5.5v5.5h-5.5zM135 125h10.5v5.5h-10.5zM45 130h5.5v5.5h-5.5zM90 130h5.5v5.5h-5.5zM125 130h5.5v5.5h-5.5zM140 130h10.5v5.5h-10.5zM35 135h20.5v5.5h-20.5zM125 135h5.5v5.5h-5.5zM30 140h10.5v5.5h-10.5zM85 140h5.5v5.5h-5.5zM130 140h10.5v5.5h-10.5zM35 145h5.5v5.5h-5.5zM45 145h15.5v5.5h-15.5zM85 145h5.5v5.5h-5.5zM135 145h5.5v5.5h-5.5zM50 150h5.5v5.5h-5.5zM95 150h5.5v5.5h-5.5zM105 155h5.5v5.5h-5.5zM115 155h5.5v5.5h-5.5zM50 160h5.5v5.5h-5.5zM125 160h5.5v5.5h-5.5zM5 165h5.5v5.5h-5.5zM0 175h5.5v5.5h-5.5zM70 180h5.5v5.5h-5.5zM100 180h5.5v5.5h-5.5zM135 180h5.5v5.5h-5.5zM70 185h30.5v5.5h-30.5zM95 190h5.5v5.5h-5.5zM80 195h5.5v5.5h-5.5zM100 195h5.5v5.5h-5.5zM80 200h10.5v5.5h-10.5zM95 200h10.5v5.5h-10.5z"/>
<path fill="#f2eee7" d="M105 0h5.5v5.5h-5.5zM100 10h5.5v5.5h-5.5zM120 10h10.5v5.5h-10.5zM195 10h5.5v5.5h-5.5zM205 10h10.5v5.5h-10.5zM105 15h10.5v5.5h-10.5zM160 15h10.5v5.5h-10.5zM190 15h5.5v5.5h-5.5zM175 20h5.5v5.5h-5.5zM185 20h5.5v5.5h-5.5zM110 25h5.5v5.5h-5.5zM155 25h5.5v5.5h-5.5zM180 25h5.5v5.5h-5.5zM195 25h5.5v5.5h-5.5zM85 30h5.5v5.5h-5.5zM0 35h10.5v5.5h-10.5zM75 35h5.5v5.5h-5.5zM105 35h5.5v5.5h-5.5zM155 35h5.5v5.5h-5.5zM180 35h5.5v5.5h-5.5zM60 40h10.5v5.5h-10.5zM100 40h5.5v5.5h-5.5zM170 40h10.5v5.5h-10.5zM40 45h15.5v5.5h-15.5zM95 45h5.5v5.5h-5.5zM155 45h5.5v5.5h-5.5zM170 45h5.5v5.5h-5.5zM40 50h5.5v5.5h-5.5zM95 55h5.5v5.5h-5.5zM45 60h5.5v5.5h-5.5zM90 60h5.5v5.5h-5.5zM45 65h5.5v5.5h-5.5zM90 65h5.5v5.5h-5.5zM110 65h5.5v5.5h-5.5zM160 65h5.5v5.5h-5.5zM170 65h5.5v5.5h-5.5zM45 70h5.5v5.5h-5.5zM75 70h5.5v5.5h-5.5zM85 70h5.5v5.5h-5.5zM120 70h5.5v5.5h-5.5zM165 70h5.5v5.5h-5.5zM20 75h10.5v5.5h-10.5zM45 75h5.5v5.5h-5.5zM75 75h5.5v5.5h-5.5zM120 75h5.5v5.5h-5.5zM5 80h5.5v5.5h-5.5zM20 80h5.5v5.5h-5.5zM40 80h5.5v5.5h-5.5zM140 80h5.5v5.5h-5.5zM10 85h5.5v5.5h-5.5zM25 85h5.5v5.5h-5.5zM125 85h5.5v5.5h-5.5zM15 90h5.5v5.5h-5.5zM25 90h5.5v5.5h-5.5zM45 90h5.5v5.5h-5.5zM130 90h5.5v5.5h-5.5zM145 90h5.5v5.5h-5.5zM135 95h20.5v5.5h-20.5zM160 95h5.5v5.5h-5.5zM140 100h5.5v5.5h-5.5zM10 105h5.5v5.5h-5.5zM95 105h5.5v5.5h-5.5zM140 105h5.5v5.5h-5.5zM155 105h5.5v5.5h-5.5zM100 110h5.5v5.5h-5.5zM145 110h10.5v5.5h-10.5zM15 115h5.5v5.5h-5.5zM55 115h5.5v5.5h-5.5zM95 115h5.5v5.5h-5.5zM55 120h5.5v5.5h-5.5zM85 130h5.5v5.5h-5.5zM80 135h10.5v5.5h-10.5zM135 135h5.5v5.5h-5.5zM60 150h5.5v5.5h-5.5zM85 150h5.5v5.5h-5.5zM55 155h10.5v5.5h-10.5zM95 155h5.5v5.5h-5.5zM55 160h10.5v5.5h-10.5zM95 160h5.5v5.5h-5.5zM105 160h5.5v5.5h-5.5zM115 160h5.5v5.5h-5.5zM95 165h5.5v5.5h-5.5zM105 165h10.5v5.5h-10.5zM120 165h5.5v5.5h-5.5zM0 170h5.5v5.5h-5.5zM60 170h5.5v5.5h-5.5zM70 170h5.5v5.5h-5.5zM95 170h10.5v5.5h-10.5zM110 170h15.5v5.5h-15.5zM140 170h5.5v5.5h-5.5zM60 175h5.5v5.5h-5.5zM75 175h10.5v5.5h-10.5zM90 175h10.5v5.5h-10.5zM105 175h5.5v5.5h-5.5zM115 175h10.5v5.5h-10.5zM120 180h5.5v5.5h-5.5zM130 180h5.5v5.5h-5.5zM115 185h15.5v5.5h-15.5zM120 190h5.5v5.5h-5.5zM130 190h5.5v5.5h-5.5zM95 195h5.5v5.5h-5.5zM125 195h5.5v5.5h-5.5zM105 200h5.5v5.5h-5.5zM120 200h15.5v5.5h-15.5z"/>
<path fill="#f9f2ee" d="M110 0h5.5v5.5h-5.5zM115 5h10.5v5.5h-10.5zM0 20h5.5v5.5h-5.5zM0 25h5.5v5.5h-5.5zM165 25h10.5v5.5h-10.5zM205 25h5.5v5.5h-5.5zM160 30h20.5v5.5h-20.5zM205 30h5.5v5.5h-5.5zM85 35h10.5v5.5h-10.5zM80 40h10.5v5.5h-10.5zM80 45h5.5v5.5h-5.5zM60 55h5.5v5.5h-5.5zM85 55h5.5v5.5h-5.5zM60 60h5.5v5.5h-5.5zM85 60h5.5v5.5h-5.5zM70 65h10.5v5.5h-10.5zM60 70h5.5v5.5h-5.5zM70 70h5.5v5.5h-5.5zM135 80h5.5v5.5h-5.5zM50 90h5.5v5.5h-5.5zM65 90h5.5v5.5h-5.5zM75 90h10.5v5.5h-10.5zM65 95h5.5v5.5h-5.5zM65 100h5.5v5.5h-5.5zM0 105h5.5v5.5h-5.5zM65 105h5.5v5.5h-5.5zM90 110h5.5v5.5h-5.5zM10 115h5.5v5.5h-5.5zM85 115h5.5v5.5h-5.5zM70 120h10.5v5.5h-10.5zM85 120h5.5v5.5h-5.5zM65 125h20.5v5.5h-20.5zM65 130h20.5v5.5h-20.5zM65 135h15.5v5.5h-15.5zM65 140h10.5v5.5h-10.5zM70 145h10.5v5.5h-10.5zM75 155h5.5v5.5h-5.5zM80 160h5.5v5.5h-5.5zM75 165h5.5v5.5h-5.5zM85 165h5.5v5.5h-5.5z"/>
<path fill="#fbf4f0" d="M115 0h5.5v5.5h-5.5zM5 25h5.5v5.5h-5.5zM210 25h5.5v5.5h-5.5zM210 30h5.5v5.5h-5.5zM165 35h5.5v5.5h-5.5zM210 35h5.5v5.5h-5.5zM60 45h15.5v5.5h-15.5zM55 50h10.5v5.5h-10.5zM80 50h10.5v5.5h-10.5zM55 55h5.5v5.5h-5.5zM80 55h5.5v5.5h-5.5zM65 60h10.5v5.5h-10.5zM80 60h5.5v5.5h-5.5zM65 65h5.5v5.5h-5.5zM55 75h5.5v5.5h-5.5zM50 80h5.5v5.5h-5.5zM60 80h5.5v5.5h-5.5zM50 85h5.5v5.5h-5.5zM55 90h10.5v5.5h-10.5zM70 95h10.5v5.5h-10.5zM85 100h5.5v5.5h-5.5zM5 110h5.5v5.5h-5.5zM65 110h5.5v5.5h-5.5zM85 110h5.5v5.5h-5.5zM65 115h20.5v5.5h-20.5zM80 120h5.5v5.5h-5.5z"/>
<path fill="#f7f1ec" d="M120 0h10.5v5.5h-10.5zM110 5h5.5v5.5h-5.5zM110 10h5.5v5.5h-5.5zM25 15h5.5v5.5h-5.5zM105 20h5.5v5.5h-5.5zM165 20h10.5v5.5h-10.5zM195 20h20.5v5.5h-20.5zM100 25h10.5v5.5h-10.5zM175 25h5.5v5.5h-5.5zM0 30h15.5v5.5h-15.5zM90 30h10.5v5.5h-10.5zM180 30h5.5v5.5h-5.5zM80 35h5.5v5.5h-5.5zM95 35h10.5v5.5h-10.5zM170 35h5.5v5.5h-5.5zM70 40h10.5v5.5h-10.5zM90 40h5.5v5.5h-5.5zM160 40h10.5v5.5h-10.5zM55 45h5.5v5.5h-5.5zM85 45h5.5v5.5h-5.5zM165 45h5.5v5.5h-5.5zM50 50h5.5v5.5h-5.5zM50 55h5.5v5.5h-5.5zM165 55h5.5v5.5h-5.5zM55 60h5.5v5.5h-5.5zM60 65h5.5v5.5h-5.5zM80 65h5.5v5.5h-5.5zM55 70h5.5v5.5h-5.5zM65 70h5.5v5.5h-5.5zM50 75h5.5v5.5h-5.5zM60 75h10.5v5.5h-10.5zM130 75h15.5v5.5h-15.5zM215 75h5.5v5.5h-5.5zM65 80h5.5v5.5h-5.5zM130 80h5.5v5.5h-5.5zM20 85h5.5v5.5h-5.5zM45 85h5.5v5.5h-5.5zM65 85h5.5v5.5h-5.5zM80 85h5.5v5.5h-5.5zM135 85h5.5v5.5h-5.5zM70 90h5.5v5.5h-5.5zM85 90h5.5v5.5h-5.5zM60 95h5.5v5.5h-5.5zM90 95h5.5v5.5h-5.5zM90 100h5.5v5.5h-5.5zM90 105h5.5v5.5h-5.5zM10 110h5.5v5.5h-5.5zM60 110h5.5v5.5h-5.5zM60 115h5.5v5.5h-5.5zM65 120h5.5v5.5h-5.5zM85 125h5.5v5.5h-5.5zM75 140h5.5v5.5h-5.5zM65 145h5.5v5.5h-5.5zM80 145h5.5v5.5h-5.5zM75 150h5.5v5.5h-5.5zM80 155h10.5v5.5h-10.5zM70 160h10.5v5.5h-10.5zM85 160h10.5v5.5h-10.5zM80 165h5.5v5.5h-5.5zM90 165h5.5v5.5h-5.5zM130 165h5.5v5.5h-5.5zM80 170h5.5v5.5h-5.5zM125 170h15.5v5.5h-15.5z"/>
<path fill="#dae1ce" d="M75 15h5.5v5.5h-5.5zM40 30h15.5v5.5h-15.5zM0 50h10.5v5.5h-10.5zM15 50h5.5v5.5h-5.5zM20 160h5.5v5.5h-5.5zM30 160h5.5v5.5h-5.5zM35 170h5.5v5.5h-5.5zM35 175h5.5v5.5h-5.5zM150 185h5.5v5.5h-5.5zM35 190h5.5v5.5h-5.5zM50 190h5.5v5.5h-5.5zM145 190h5.5v5.5h-5.5zM145 195h5.5v5.5h-5.5zM60 200h5.5v5.5h-5.5zM145 200h5.5v5.5h-5.5z"/>
<path fill="#d7e0cb" d="M80 15h5.5v5.5h-5.5zM75 20h5.5v5.5h-5.5zM10 50h5.5v5.5h-5.5zM25 160h5.5v5.5h-5.5zM20 170h10.5v5.5h-10.5zM30 175h5.5v5.5h-5.5zM40 190h5.5v5.5h-5.5z"/>
<path fill="#fdf5f2" d="M215 25h5.5v5.5h-5.5zM215 35h5.5v5.5h-5.5zM75 45h5.5v5.5h-5.5zM65 50h5.5v5.5h-5.5zM65 55h5.5v5.5h-5.5zM75 55h5.5v5.5h-5.5zM75 60h5.5v5.5h-5.5zM55 80h5.5v5.5h-5.5zM55 85h10.5v5.5h-10.5zM80 95h10.5v5.5h-10.5zM70 100h5.5v5.5h-5.5zM80 105h10.5v5.5h-10.5zM0 110h5.5v5.5h-5.5zM70 110h15.5v5.5h-15.5z"/>
<path fill="#6eb690" d="M210 125h5.5v5.5h-5.5z"/>
<path fill="#6ab48f" d="M215 125h5.5v5.5h-5.5zM210 130h10.5v5.5h-10.5z"/>
<path fill="#d4dec8" d="M20 165h15.5v5.5h-15.5zM30 170h5.5v5.5h-5.5zM45 190h5.5v5.5h-5.5zM150 190h10.5v5.5h-10.5zM35 195h5.5v5.5h-5.5zM55 195h5.5v5.5h-5.5zM35 200h5.5v5.5h-5.5zM55 200h5.5v5.5h-5.5zM150 200h5.5v5.5h-5.5z"/>
<path fill="#d1ddc6" d="M40 195h15.5v5.5h-15.5zM150 195h10.5v5.5h-10.5zM40 200h10.5v5.5h-10.5zM155 200h5.5v5.5h-5.5z"/>
<path fill="#cedbc3" d="M50 200h5.5v5.5h-5.5z"/>
</g>
<path d="M215.3 -1L216.3 50L216.9 100L216.9 131L220 131L220 -1Z" fill="#98b7e2"/>
<path d="M-30.7 0L-25.3 209M0.6 0L6.0 209M31.9 0L37.3 209M63.2 0L68.6 209M94.5 0L99.9 209M125.8 0L131.2 209M157.1 0L162.5 209M188.4 0L193.8 209M219.7 0L225.1 209M0 -8.3L219 -14.0M0 18.6L219 12.9M0 45.5L219 39.8M0 72.4L219 66.7M0 99.3L219 93.6M0 126.2L219 120.5M0 153.1L219 147.4M0 180.0L219 174.3M0 206.9L219 201.2M0 233.8L219 228.1" stroke="#b0b0b0" stroke-width="1.2" fill="none"/>
<path d="M169.7 208.6 L169.7 203.8 L169.2 195.2 L167.5 188.4 L164.9 181.5 L162.4 174.6 L158.9 170.4 L154.6 167.4 L150.4 166.1 L149.8 162.6 L150.9 157.5 L149.2 152.4 L147.8 147.2 L148.6 143.8 L152.1 140.4 L156.4 134.4 L158.9 128.4 L160.1 120.6 L164.1 114.6 L168.4 106.1 L164.1 115.8 L167.5 107.2 L170.9 96.9 L174.4 86.6 L177.8 76.4 L181.2 67.8 L184.6 60.1 L188.9 52.4 L194.1 46.4 L199.2 42.9 L204.4 41.7 L208.6 40.4 L210.9 40.9 L211.6 42.9 L210.4 46.4 L208.1 52.4 L206.4 60.9 L204.7 69.5 L203.0 78.1 L201.3 86.6 L200.1 92.6 L201.8 97.8 L204.4 102.1 L206.0 103.5 L205.7 107.0 L204.0 110.5 L205.0 112.7 L207.5 112.0 L209.0 108.5 L211.0 108.0 L211.7 110.5 L210.5 114.5 L207.5 117.5 L205.3 121.0 L205.3 125.5 L204.5 131.5 L206.0 135.5 L209.5 137.8 L214.0 136.5 L217.0 132.0 L219.5 127.0" stroke="#7a7a7a" stroke-width="1.5" fill="none" stroke-linejoin="round"/>
</g>
<rect x="0" y="0" width="219" height="209" fill="none" stroke="#000" stroke-width="1"/>
</g>
</svg></body></html>
